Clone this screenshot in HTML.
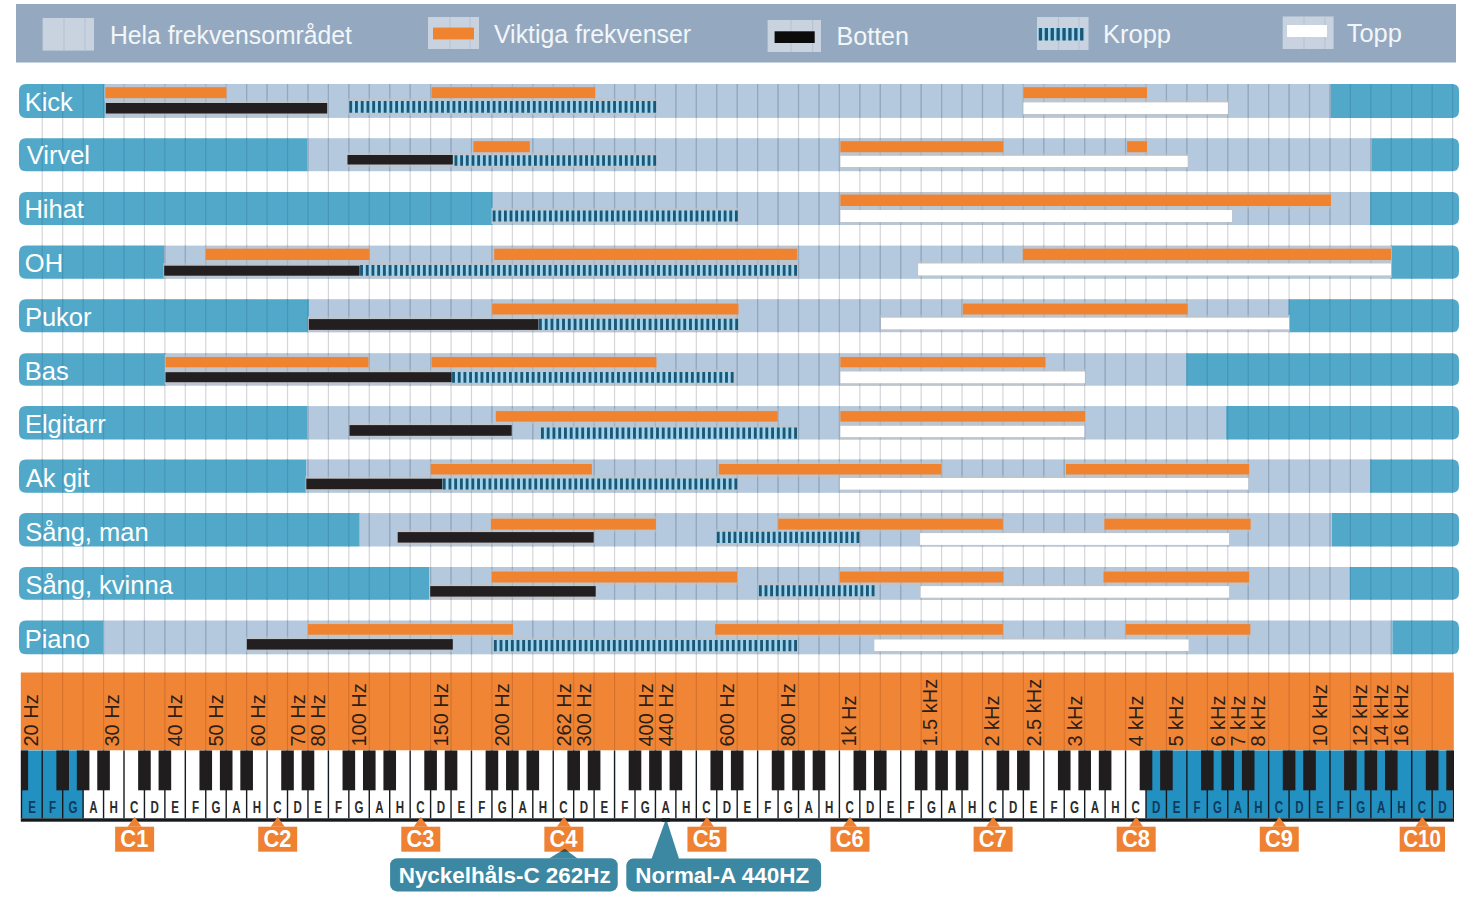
<!DOCTYPE html><html><head><meta charset="utf-8"><style>html,body{margin:0;padding:0;background:#fff;}svg{display:block}text{font-family:"Liberation Sans",sans-serif}</style></head><body>
<svg width="1476" height="900" viewBox="0 0 1476 900">
<defs><pattern id="dp" patternUnits="userSpaceOnUse" x="0" y="0" width="5.67" height="20"><rect width="5.67" height="20" fill="#9fd4ee"/><rect x="0" width="2.8" height="20" fill="#1b5675"/></pattern>
<clipPath id="rowclip"></clipPath></defs>
<rect width="1476" height="900" fill="#ffffff"/>
<rect x="16" y="4" width="1440" height="58.5" fill="#94a9c0"/>
<rect x="42.6" y="18" width="51.4" height="32.6" fill="#c9d3df"/>
<rect x="63.4" y="18" width="1.2" height="32.6" fill="#b6c3d3"/>
<rect x="84.4" y="18" width="1.2" height="32.6" fill="#b6c3d3"/>
<rect x="428" y="17" width="51" height="32" fill="#c9d3df"/>
<rect x="449.4" y="17" width="1.2" height="32" fill="#b6c3d3"/>
<rect x="469.4" y="17" width="1.2" height="32" fill="#b6c3d3"/>
<rect x="433" y="27.6" width="41" height="11.8" fill="#f0832f"/>
<rect x="767.6" y="20" width="53.4" height="32" fill="#c9d3df"/>
<rect x="790.4" y="20" width="1.2" height="32" fill="#b6c3d3"/>
<rect x="812.1" y="20" width="1.2" height="32" fill="#b6c3d3"/>
<rect x="774.6" y="31.3" width="40.1" height="11.7" fill="#0b0b0c"/>
<rect x="1037" y="17" width="51.5" height="33" fill="#c9d3df"/>
<rect x="1057.9" y="17" width="1.2" height="33" fill="#b6c3d3"/>
<rect x="1078.4" y="17" width="1.2" height="33" fill="#b6c3d3"/>
<rect x="1038.3" y="28.1" width="46.2" height="12.3" fill="#9fd4ee"/>
<path d="M1038.8 28.1h3.3v12.3h-3.3zM1044.7 28.1h3.3v12.3h-3.3zM1050.6 28.1h3.3v12.3h-3.3zM1056.5 28.1h3.3v12.3h-3.3zM1062.4 28.1h3.3v12.3h-3.3zM1068.3 28.1h3.3v12.3h-3.3zM1074.2 28.1h3.3v12.3h-3.3zM1080.1 28.1h3.3v12.3h-3.3z" fill="#1b5675"/>
<rect x="1282.7" y="16.5" width="50.9" height="32.5" fill="#c9d3df"/>
<rect x="1303.4" y="16.5" width="1.2" height="32.5" fill="#b6c3d3"/>
<rect x="1324.4" y="16.5" width="1.2" height="32.5" fill="#b6c3d3"/>
<rect x="1287" y="25" width="40" height="12" fill="#fff"/>
<text x="110" y="44" font-size="25" fill="#f3f6f9" textLength="242" lengthAdjust="spacingAndGlyphs">Hela frekvensområdet</text>
<text x="494" y="43" font-size="25" fill="#f3f6f9" textLength="197" lengthAdjust="spacingAndGlyphs">Viktiga frekvenser</text>
<text x="836.5" y="45" font-size="25" fill="#f3f6f9" textLength="72.5" lengthAdjust="spacingAndGlyphs">Botten</text>
<text x="1103" y="43" font-size="25" fill="#f3f6f9" textLength="68" lengthAdjust="spacingAndGlyphs">Kropp</text>
<text x="1346.7" y="42" font-size="25" fill="#f3f6f9" textLength="55.3" lengthAdjust="spacingAndGlyphs">Topp</text>
<rect x="41.64" y="84.3" width="1.2" height="588.2" fill="#d6d6da"/>
<rect x="62.08" y="84.3" width="1.2" height="588.2" fill="#d6d6da"/>
<rect x="82.52" y="84.3" width="1.2" height="588.2" fill="#d6d6da"/>
<rect x="102.96" y="84.3" width="1.2" height="588.2" fill="#d6d6da"/>
<rect x="123.4" y="84.3" width="1.2" height="588.2" fill="#d6d6da"/>
<rect x="143.84" y="84.3" width="1.2" height="588.2" fill="#d6d6da"/>
<rect x="164.28" y="84.3" width="1.2" height="588.2" fill="#d6d6da"/>
<rect x="184.72" y="84.3" width="1.2" height="588.2" fill="#d6d6da"/>
<rect x="205.16" y="84.3" width="1.2" height="588.2" fill="#d6d6da"/>
<rect x="225.6" y="84.3" width="1.2" height="588.2" fill="#d6d6da"/>
<rect x="246.04" y="84.3" width="1.2" height="588.2" fill="#d6d6da"/>
<rect x="266.48" y="84.3" width="1.2" height="588.2" fill="#d6d6da"/>
<rect x="286.92" y="84.3" width="1.2" height="588.2" fill="#d6d6da"/>
<rect x="307.36" y="84.3" width="1.2" height="588.2" fill="#d6d6da"/>
<rect x="327.8" y="84.3" width="1.2" height="588.2" fill="#d6d6da"/>
<rect x="348.24" y="84.3" width="1.2" height="588.2" fill="#d6d6da"/>
<rect x="368.68" y="84.3" width="1.2" height="588.2" fill="#d6d6da"/>
<rect x="389.12" y="84.3" width="1.2" height="588.2" fill="#d6d6da"/>
<rect x="409.56" y="84.3" width="1.2" height="588.2" fill="#d6d6da"/>
<rect x="430" y="84.3" width="1.2" height="588.2" fill="#d6d6da"/>
<rect x="450.44" y="84.3" width="1.2" height="588.2" fill="#d6d6da"/>
<rect x="470.88" y="84.3" width="1.2" height="588.2" fill="#d6d6da"/>
<rect x="491.32" y="84.3" width="1.2" height="588.2" fill="#d6d6da"/>
<rect x="511.76" y="84.3" width="1.2" height="588.2" fill="#d6d6da"/>
<rect x="532.2" y="84.3" width="1.2" height="588.2" fill="#d6d6da"/>
<rect x="552.64" y="84.3" width="1.2" height="588.2" fill="#d6d6da"/>
<rect x="573.08" y="84.3" width="1.2" height="588.2" fill="#d6d6da"/>
<rect x="593.52" y="84.3" width="1.2" height="588.2" fill="#d6d6da"/>
<rect x="613.96" y="84.3" width="1.2" height="588.2" fill="#d6d6da"/>
<rect x="634.4" y="84.3" width="1.2" height="588.2" fill="#d6d6da"/>
<rect x="654.84" y="84.3" width="1.2" height="588.2" fill="#d6d6da"/>
<rect x="675.28" y="84.3" width="1.2" height="588.2" fill="#d6d6da"/>
<rect x="695.72" y="84.3" width="1.2" height="588.2" fill="#d6d6da"/>
<rect x="716.16" y="84.3" width="1.2" height="588.2" fill="#d6d6da"/>
<rect x="736.6" y="84.3" width="1.2" height="588.2" fill="#d6d6da"/>
<rect x="757.04" y="84.3" width="1.2" height="588.2" fill="#d6d6da"/>
<rect x="777.48" y="84.3" width="1.2" height="588.2" fill="#d6d6da"/>
<rect x="797.92" y="84.3" width="1.2" height="588.2" fill="#d6d6da"/>
<rect x="818.36" y="84.3" width="1.2" height="588.2" fill="#d6d6da"/>
<rect x="838.8" y="84.3" width="1.2" height="588.2" fill="#d6d6da"/>
<rect x="859.24" y="84.3" width="1.2" height="588.2" fill="#d6d6da"/>
<rect x="879.68" y="84.3" width="1.2" height="588.2" fill="#d6d6da"/>
<rect x="900.12" y="84.3" width="1.2" height="588.2" fill="#d6d6da"/>
<rect x="920.56" y="84.3" width="1.2" height="588.2" fill="#d6d6da"/>
<rect x="941" y="84.3" width="1.2" height="588.2" fill="#d6d6da"/>
<rect x="961.44" y="84.3" width="1.2" height="588.2" fill="#d6d6da"/>
<rect x="981.88" y="84.3" width="1.2" height="588.2" fill="#d6d6da"/>
<rect x="1002.32" y="84.3" width="1.2" height="588.2" fill="#d6d6da"/>
<rect x="1022.76" y="84.3" width="1.2" height="588.2" fill="#d6d6da"/>
<rect x="1043.2" y="84.3" width="1.2" height="588.2" fill="#d6d6da"/>
<rect x="1063.64" y="84.3" width="1.2" height="588.2" fill="#d6d6da"/>
<rect x="1084.08" y="84.3" width="1.2" height="588.2" fill="#d6d6da"/>
<rect x="1104.52" y="84.3" width="1.2" height="588.2" fill="#d6d6da"/>
<rect x="1124.96" y="84.3" width="1.2" height="588.2" fill="#d6d6da"/>
<rect x="1145.4" y="84.3" width="1.2" height="588.2" fill="#d6d6da"/>
<rect x="1165.84" y="84.3" width="1.2" height="588.2" fill="#d6d6da"/>
<rect x="1186.28" y="84.3" width="1.2" height="588.2" fill="#d6d6da"/>
<rect x="1206.72" y="84.3" width="1.2" height="588.2" fill="#d6d6da"/>
<rect x="1227.16" y="84.3" width="1.2" height="588.2" fill="#d6d6da"/>
<rect x="1247.6" y="84.3" width="1.2" height="588.2" fill="#d6d6da"/>
<rect x="1268.04" y="84.3" width="1.2" height="588.2" fill="#d6d6da"/>
<rect x="1288.48" y="84.3" width="1.2" height="588.2" fill="#d6d6da"/>
<rect x="1308.92" y="84.3" width="1.2" height="588.2" fill="#d6d6da"/>
<rect x="1329.36" y="84.3" width="1.2" height="588.2" fill="#d6d6da"/>
<rect x="1349.8" y="84.3" width="1.2" height="588.2" fill="#d6d6da"/>
<rect x="1370.24" y="84.3" width="1.2" height="588.2" fill="#d6d6da"/>
<rect x="1390.68" y="84.3" width="1.2" height="588.2" fill="#d6d6da"/>
<rect x="1411.12" y="84.3" width="1.2" height="588.2" fill="#d6d6da"/>
<rect x="1431.56" y="84.3" width="1.2" height="588.2" fill="#d6d6da"/>
<rect x="1452" y="84.3" width="1.2" height="588.2" fill="#d6d6da"/>
<rect x="104.8" y="84" width="1225.6" height="33.9" fill="#b4c9de"/>
<path d="M104.8 84 H26 Q19 84 19 91 V110.9 Q19 117.9 26 117.9 H104.8 Z" fill="#52a8c9"/>
<path d="M1330.4 84 H1452 Q1459 84 1459 91 V110.9 Q1459 117.9 1452 117.9 H1330.4 Z" fill="#52a8c9"/>
<rect x="41.64" y="84" width="1.2" height="33.9" fill="#4596b8"/>
<rect x="62.08" y="84" width="1.2" height="33.9" fill="#4596b8"/>
<rect x="82.52" y="84" width="1.2" height="33.9" fill="#4596b8"/>
<rect x="102.96" y="84" width="1.2" height="33.9" fill="#4596b8"/>
<rect x="123.4" y="84" width="1.2" height="33.9" fill="#93aac2"/>
<rect x="143.84" y="84" width="1.2" height="33.9" fill="#93aac2"/>
<rect x="164.28" y="84" width="1.2" height="33.9" fill="#93aac2"/>
<rect x="184.72" y="84" width="1.2" height="33.9" fill="#93aac2"/>
<rect x="205.16" y="84" width="1.2" height="33.9" fill="#93aac2"/>
<rect x="225.6" y="84" width="1.2" height="33.9" fill="#93aac2"/>
<rect x="246.04" y="84" width="1.2" height="33.9" fill="#93aac2"/>
<rect x="266.48" y="84" width="1.2" height="33.9" fill="#93aac2"/>
<rect x="286.92" y="84" width="1.2" height="33.9" fill="#93aac2"/>
<rect x="307.36" y="84" width="1.2" height="33.9" fill="#93aac2"/>
<rect x="327.8" y="84" width="1.2" height="33.9" fill="#93aac2"/>
<rect x="348.24" y="84" width="1.2" height="33.9" fill="#93aac2"/>
<rect x="368.68" y="84" width="1.2" height="33.9" fill="#93aac2"/>
<rect x="389.12" y="84" width="1.2" height="33.9" fill="#93aac2"/>
<rect x="409.56" y="84" width="1.2" height="33.9" fill="#93aac2"/>
<rect x="430" y="84" width="1.2" height="33.9" fill="#93aac2"/>
<rect x="450.44" y="84" width="1.2" height="33.9" fill="#93aac2"/>
<rect x="470.88" y="84" width="1.2" height="33.9" fill="#93aac2"/>
<rect x="491.32" y="84" width="1.2" height="33.9" fill="#93aac2"/>
<rect x="511.76" y="84" width="1.2" height="33.9" fill="#93aac2"/>
<rect x="532.2" y="84" width="1.2" height="33.9" fill="#93aac2"/>
<rect x="552.64" y="84" width="1.2" height="33.9" fill="#93aac2"/>
<rect x="573.08" y="84" width="1.2" height="33.9" fill="#93aac2"/>
<rect x="593.52" y="84" width="1.2" height="33.9" fill="#93aac2"/>
<rect x="613.96" y="84" width="1.2" height="33.9" fill="#93aac2"/>
<rect x="634.4" y="84" width="1.2" height="33.9" fill="#93aac2"/>
<rect x="654.84" y="84" width="1.2" height="33.9" fill="#93aac2"/>
<rect x="675.28" y="84" width="1.2" height="33.9" fill="#93aac2"/>
<rect x="695.72" y="84" width="1.2" height="33.9" fill="#93aac2"/>
<rect x="716.16" y="84" width="1.2" height="33.9" fill="#93aac2"/>
<rect x="736.6" y="84" width="1.2" height="33.9" fill="#93aac2"/>
<rect x="757.04" y="84" width="1.2" height="33.9" fill="#93aac2"/>
<rect x="777.48" y="84" width="1.2" height="33.9" fill="#93aac2"/>
<rect x="797.92" y="84" width="1.2" height="33.9" fill="#93aac2"/>
<rect x="818.36" y="84" width="1.2" height="33.9" fill="#93aac2"/>
<rect x="838.8" y="84" width="1.2" height="33.9" fill="#93aac2"/>
<rect x="859.24" y="84" width="1.2" height="33.9" fill="#93aac2"/>
<rect x="879.68" y="84" width="1.2" height="33.9" fill="#93aac2"/>
<rect x="900.12" y="84" width="1.2" height="33.9" fill="#93aac2"/>
<rect x="920.56" y="84" width="1.2" height="33.9" fill="#93aac2"/>
<rect x="941" y="84" width="1.2" height="33.9" fill="#93aac2"/>
<rect x="961.44" y="84" width="1.2" height="33.9" fill="#93aac2"/>
<rect x="981.88" y="84" width="1.2" height="33.9" fill="#93aac2"/>
<rect x="1002.32" y="84" width="1.2" height="33.9" fill="#93aac2"/>
<rect x="1022.76" y="84" width="1.2" height="33.9" fill="#93aac2"/>
<rect x="1043.2" y="84" width="1.2" height="33.9" fill="#93aac2"/>
<rect x="1063.64" y="84" width="1.2" height="33.9" fill="#93aac2"/>
<rect x="1084.08" y="84" width="1.2" height="33.9" fill="#93aac2"/>
<rect x="1104.52" y="84" width="1.2" height="33.9" fill="#93aac2"/>
<rect x="1124.96" y="84" width="1.2" height="33.9" fill="#93aac2"/>
<rect x="1145.4" y="84" width="1.2" height="33.9" fill="#93aac2"/>
<rect x="1165.84" y="84" width="1.2" height="33.9" fill="#93aac2"/>
<rect x="1186.28" y="84" width="1.2" height="33.9" fill="#93aac2"/>
<rect x="1206.72" y="84" width="1.2" height="33.9" fill="#93aac2"/>
<rect x="1227.16" y="84" width="1.2" height="33.9" fill="#93aac2"/>
<rect x="1247.6" y="84" width="1.2" height="33.9" fill="#93aac2"/>
<rect x="1268.04" y="84" width="1.2" height="33.9" fill="#93aac2"/>
<rect x="1288.48" y="84" width="1.2" height="33.9" fill="#93aac2"/>
<rect x="1308.92" y="84" width="1.2" height="33.9" fill="#93aac2"/>
<rect x="1329.36" y="84" width="1.2" height="33.9" fill="#93aac2"/>
<rect x="1349.8" y="84" width="1.2" height="33.9" fill="#4596b8"/>
<rect x="1370.24" y="84" width="1.2" height="33.9" fill="#4596b8"/>
<rect x="1390.68" y="84" width="1.2" height="33.9" fill="#4596b8"/>
<rect x="1411.12" y="84" width="1.2" height="33.9" fill="#4596b8"/>
<rect x="1431.56" y="84" width="1.2" height="33.9" fill="#4596b8"/>
<rect x="1452" y="84" width="1.2" height="33.9" fill="#4596b8"/>
<rect x="104.5" y="84.6" width="122.7" height="16.1" fill="#bdc5cf"/>
<rect x="430.7" y="84.6" width="165.3" height="16.1" fill="#bdc5cf"/>
<rect x="1022.6" y="84.6" width="125.2" height="16.1" fill="#bdc5cf"/>
<rect x="1022.6" y="99.8" width="206.1" height="16.8" fill="#bdc5cf"/>
<rect x="348" y="98.3" width="309.2" height="17" fill="#bdc5cf"/>
<rect x="105" y="100.4" width="223" height="15.7" fill="#bdc5cf"/>
<rect x="123.4" y="84" width="1.2" height="33.9" fill="#93a6b8" opacity="0.5"/>
<rect x="143.84" y="84" width="1.2" height="33.9" fill="#93a6b8" opacity="0.5"/>
<rect x="164.28" y="84" width="1.2" height="33.9" fill="#93a6b8" opacity="0.5"/>
<rect x="184.72" y="84" width="1.2" height="33.9" fill="#93a6b8" opacity="0.5"/>
<rect x="205.16" y="84" width="1.2" height="33.9" fill="#93a6b8" opacity="0.5"/>
<rect x="225.6" y="84" width="1.2" height="33.9" fill="#93a6b8" opacity="0.5"/>
<rect x="246.04" y="84" width="1.2" height="33.9" fill="#93a6b8" opacity="0.5"/>
<rect x="266.48" y="84" width="1.2" height="33.9" fill="#93a6b8" opacity="0.5"/>
<rect x="286.92" y="84" width="1.2" height="33.9" fill="#93a6b8" opacity="0.5"/>
<rect x="307.36" y="84" width="1.2" height="33.9" fill="#93a6b8" opacity="0.5"/>
<rect x="327.8" y="84" width="1.2" height="33.9" fill="#93a6b8" opacity="0.5"/>
<rect x="348.24" y="84" width="1.2" height="33.9" fill="#93a6b8" opacity="0.5"/>
<rect x="368.68" y="84" width="1.2" height="33.9" fill="#93a6b8" opacity="0.5"/>
<rect x="389.12" y="84" width="1.2" height="33.9" fill="#93a6b8" opacity="0.5"/>
<rect x="409.56" y="84" width="1.2" height="33.9" fill="#93a6b8" opacity="0.5"/>
<rect x="430" y="84" width="1.2" height="33.9" fill="#93a6b8" opacity="0.5"/>
<rect x="450.44" y="84" width="1.2" height="33.9" fill="#93a6b8" opacity="0.5"/>
<rect x="470.88" y="84" width="1.2" height="33.9" fill="#93a6b8" opacity="0.5"/>
<rect x="491.32" y="84" width="1.2" height="33.9" fill="#93a6b8" opacity="0.5"/>
<rect x="511.76" y="84" width="1.2" height="33.9" fill="#93a6b8" opacity="0.5"/>
<rect x="532.2" y="84" width="1.2" height="33.9" fill="#93a6b8" opacity="0.5"/>
<rect x="552.64" y="84" width="1.2" height="33.9" fill="#93a6b8" opacity="0.5"/>
<rect x="573.08" y="84" width="1.2" height="33.9" fill="#93a6b8" opacity="0.5"/>
<rect x="593.52" y="84" width="1.2" height="33.9" fill="#93a6b8" opacity="0.5"/>
<rect x="613.96" y="84" width="1.2" height="33.9" fill="#93a6b8" opacity="0.5"/>
<rect x="634.4" y="84" width="1.2" height="33.9" fill="#93a6b8" opacity="0.5"/>
<rect x="654.84" y="84" width="1.2" height="33.9" fill="#93a6b8" opacity="0.5"/>
<rect x="675.28" y="84" width="1.2" height="33.9" fill="#93a6b8" opacity="0.5"/>
<rect x="695.72" y="84" width="1.2" height="33.9" fill="#93a6b8" opacity="0.5"/>
<rect x="716.16" y="84" width="1.2" height="33.9" fill="#93a6b8" opacity="0.5"/>
<rect x="736.6" y="84" width="1.2" height="33.9" fill="#93a6b8" opacity="0.5"/>
<rect x="757.04" y="84" width="1.2" height="33.9" fill="#93a6b8" opacity="0.5"/>
<rect x="777.48" y="84" width="1.2" height="33.9" fill="#93a6b8" opacity="0.5"/>
<rect x="797.92" y="84" width="1.2" height="33.9" fill="#93a6b8" opacity="0.5"/>
<rect x="818.36" y="84" width="1.2" height="33.9" fill="#93a6b8" opacity="0.5"/>
<rect x="838.8" y="84" width="1.2" height="33.9" fill="#93a6b8" opacity="0.5"/>
<rect x="859.24" y="84" width="1.2" height="33.9" fill="#93a6b8" opacity="0.5"/>
<rect x="879.68" y="84" width="1.2" height="33.9" fill="#93a6b8" opacity="0.5"/>
<rect x="900.12" y="84" width="1.2" height="33.9" fill="#93a6b8" opacity="0.5"/>
<rect x="920.56" y="84" width="1.2" height="33.9" fill="#93a6b8" opacity="0.5"/>
<rect x="941" y="84" width="1.2" height="33.9" fill="#93a6b8" opacity="0.5"/>
<rect x="961.44" y="84" width="1.2" height="33.9" fill="#93a6b8" opacity="0.5"/>
<rect x="981.88" y="84" width="1.2" height="33.9" fill="#93a6b8" opacity="0.5"/>
<rect x="1002.32" y="84" width="1.2" height="33.9" fill="#93a6b8" opacity="0.5"/>
<rect x="1022.76" y="84" width="1.2" height="33.9" fill="#93a6b8" opacity="0.5"/>
<rect x="1043.2" y="84" width="1.2" height="33.9" fill="#93a6b8" opacity="0.5"/>
<rect x="1063.64" y="84" width="1.2" height="33.9" fill="#93a6b8" opacity="0.5"/>
<rect x="1084.08" y="84" width="1.2" height="33.9" fill="#93a6b8" opacity="0.5"/>
<rect x="1104.52" y="84" width="1.2" height="33.9" fill="#93a6b8" opacity="0.5"/>
<rect x="1124.96" y="84" width="1.2" height="33.9" fill="#93a6b8" opacity="0.5"/>
<rect x="1145.4" y="84" width="1.2" height="33.9" fill="#93a6b8" opacity="0.5"/>
<rect x="1165.84" y="84" width="1.2" height="33.9" fill="#93a6b8" opacity="0.5"/>
<rect x="1186.28" y="84" width="1.2" height="33.9" fill="#93a6b8" opacity="0.5"/>
<rect x="1206.72" y="84" width="1.2" height="33.9" fill="#93a6b8" opacity="0.5"/>
<rect x="1227.16" y="84" width="1.2" height="33.9" fill="#93a6b8" opacity="0.5"/>
<rect x="1247.6" y="84" width="1.2" height="33.9" fill="#93a6b8" opacity="0.5"/>
<rect x="1268.04" y="84" width="1.2" height="33.9" fill="#93a6b8" opacity="0.5"/>
<rect x="1288.48" y="84" width="1.2" height="33.9" fill="#93a6b8" opacity="0.5"/>
<rect x="1308.92" y="84" width="1.2" height="33.9" fill="#93a6b8" opacity="0.5"/>
<rect x="1329.36" y="84" width="1.2" height="33.9" fill="#93a6b8" opacity="0.5"/>
<rect x="105.3" y="87.2" width="121.1" height="10.9" fill="#f0832f"/>
<rect x="431.5" y="87.2" width="163.7" height="10.9" fill="#f0832f"/>
<rect x="1023.4" y="87.2" width="123.6" height="10.9" fill="#f0832f"/>
<rect x="1023.4" y="102.4" width="204.5" height="11.6" fill="#ffffff"/>
<rect x="348.8" y="100.9" width="307.6" height="11.8" fill="#9fd4ee"/>
<path d="M349.3 100.9h2.85v11.8h-2.85zM355.03 100.9h2.85v11.8h-2.85zM360.77 100.9h2.85v11.8h-2.85zM366.5 100.9h2.85v11.8h-2.85zM372.24 100.9h2.85v11.8h-2.85zM377.97 100.9h2.85v11.8h-2.85zM383.71 100.9h2.85v11.8h-2.85zM389.44 100.9h2.85v11.8h-2.85zM395.18 100.9h2.85v11.8h-2.85zM400.91 100.9h2.85v11.8h-2.85zM406.65 100.9h2.85v11.8h-2.85zM412.38 100.9h2.85v11.8h-2.85zM418.12 100.9h2.85v11.8h-2.85zM423.85 100.9h2.85v11.8h-2.85zM429.59 100.9h2.85v11.8h-2.85zM435.32 100.9h2.85v11.8h-2.85zM441.06 100.9h2.85v11.8h-2.85zM446.79 100.9h2.85v11.8h-2.85zM452.53 100.9h2.85v11.8h-2.85zM458.26 100.9h2.85v11.8h-2.85zM464 100.9h2.85v11.8h-2.85zM469.73 100.9h2.85v11.8h-2.85zM475.47 100.9h2.85v11.8h-2.85zM481.2 100.9h2.85v11.8h-2.85zM486.94 100.9h2.85v11.8h-2.85zM492.67 100.9h2.85v11.8h-2.85zM498.41 100.9h2.85v11.8h-2.85zM504.14 100.9h2.85v11.8h-2.85zM509.88 100.9h2.85v11.8h-2.85zM515.61 100.9h2.85v11.8h-2.85zM521.35 100.9h2.85v11.8h-2.85zM527.08 100.9h2.85v11.8h-2.85zM532.82 100.9h2.85v11.8h-2.85zM538.55 100.9h2.85v11.8h-2.85zM544.29 100.9h2.85v11.8h-2.85zM550.02 100.9h2.85v11.8h-2.85zM555.76 100.9h2.85v11.8h-2.85zM561.49 100.9h2.85v11.8h-2.85zM567.23 100.9h2.85v11.8h-2.85zM572.96 100.9h2.85v11.8h-2.85zM578.7 100.9h2.85v11.8h-2.85zM584.43 100.9h2.85v11.8h-2.85zM590.17 100.9h2.85v11.8h-2.85zM595.9 100.9h2.85v11.8h-2.85zM601.64 100.9h2.85v11.8h-2.85zM607.37 100.9h2.85v11.8h-2.85zM613.11 100.9h2.85v11.8h-2.85zM618.84 100.9h2.85v11.8h-2.85zM624.58 100.9h2.85v11.8h-2.85zM630.31 100.9h2.85v11.8h-2.85zM636.05 100.9h2.85v11.8h-2.85zM641.78 100.9h2.85v11.8h-2.85zM647.52 100.9h2.85v11.8h-2.85zM653.25 100.9h2.85v11.8h-2.85z" fill="#1b5675"/>
<rect x="105.8" y="103" width="221.4" height="10.5" fill="#231f20"/>
<text x="24.7" y="110.9" font-size="25.5" fill="#fff">Kick</text>
<rect x="307" y="138.2" width="1064.5" height="33" fill="#b4c9de"/>
<path d="M307 138.2 H26 Q19 138.2 19 145.2 V164.2 Q19 171.2 26 171.2 H307 Z" fill="#52a8c9"/>
<path d="M1371.5 138.2 H1452 Q1459 138.2 1459 145.2 V164.2 Q1459 171.2 1452 171.2 H1371.5 Z" fill="#52a8c9"/>
<rect x="41.64" y="138.2" width="1.2" height="33" fill="#4596b8"/>
<rect x="62.08" y="138.2" width="1.2" height="33" fill="#4596b8"/>
<rect x="82.52" y="138.2" width="1.2" height="33" fill="#4596b8"/>
<rect x="102.96" y="138.2" width="1.2" height="33" fill="#4596b8"/>
<rect x="123.4" y="138.2" width="1.2" height="33" fill="#4596b8"/>
<rect x="143.84" y="138.2" width="1.2" height="33" fill="#4596b8"/>
<rect x="164.28" y="138.2" width="1.2" height="33" fill="#4596b8"/>
<rect x="184.72" y="138.2" width="1.2" height="33" fill="#4596b8"/>
<rect x="205.16" y="138.2" width="1.2" height="33" fill="#4596b8"/>
<rect x="225.6" y="138.2" width="1.2" height="33" fill="#4596b8"/>
<rect x="246.04" y="138.2" width="1.2" height="33" fill="#4596b8"/>
<rect x="266.48" y="138.2" width="1.2" height="33" fill="#4596b8"/>
<rect x="286.92" y="138.2" width="1.2" height="33" fill="#4596b8"/>
<rect x="307.36" y="138.2" width="1.2" height="33" fill="#93aac2"/>
<rect x="327.8" y="138.2" width="1.2" height="33" fill="#93aac2"/>
<rect x="348.24" y="138.2" width="1.2" height="33" fill="#93aac2"/>
<rect x="368.68" y="138.2" width="1.2" height="33" fill="#93aac2"/>
<rect x="389.12" y="138.2" width="1.2" height="33" fill="#93aac2"/>
<rect x="409.56" y="138.2" width="1.2" height="33" fill="#93aac2"/>
<rect x="430" y="138.2" width="1.2" height="33" fill="#93aac2"/>
<rect x="450.44" y="138.2" width="1.2" height="33" fill="#93aac2"/>
<rect x="470.88" y="138.2" width="1.2" height="33" fill="#93aac2"/>
<rect x="491.32" y="138.2" width="1.2" height="33" fill="#93aac2"/>
<rect x="511.76" y="138.2" width="1.2" height="33" fill="#93aac2"/>
<rect x="532.2" y="138.2" width="1.2" height="33" fill="#93aac2"/>
<rect x="552.64" y="138.2" width="1.2" height="33" fill="#93aac2"/>
<rect x="573.08" y="138.2" width="1.2" height="33" fill="#93aac2"/>
<rect x="593.52" y="138.2" width="1.2" height="33" fill="#93aac2"/>
<rect x="613.96" y="138.2" width="1.2" height="33" fill="#93aac2"/>
<rect x="634.4" y="138.2" width="1.2" height="33" fill="#93aac2"/>
<rect x="654.84" y="138.2" width="1.2" height="33" fill="#93aac2"/>
<rect x="675.28" y="138.2" width="1.2" height="33" fill="#93aac2"/>
<rect x="695.72" y="138.2" width="1.2" height="33" fill="#93aac2"/>
<rect x="716.16" y="138.2" width="1.2" height="33" fill="#93aac2"/>
<rect x="736.6" y="138.2" width="1.2" height="33" fill="#93aac2"/>
<rect x="757.04" y="138.2" width="1.2" height="33" fill="#93aac2"/>
<rect x="777.48" y="138.2" width="1.2" height="33" fill="#93aac2"/>
<rect x="797.92" y="138.2" width="1.2" height="33" fill="#93aac2"/>
<rect x="818.36" y="138.2" width="1.2" height="33" fill="#93aac2"/>
<rect x="838.8" y="138.2" width="1.2" height="33" fill="#93aac2"/>
<rect x="859.24" y="138.2" width="1.2" height="33" fill="#93aac2"/>
<rect x="879.68" y="138.2" width="1.2" height="33" fill="#93aac2"/>
<rect x="900.12" y="138.2" width="1.2" height="33" fill="#93aac2"/>
<rect x="920.56" y="138.2" width="1.2" height="33" fill="#93aac2"/>
<rect x="941" y="138.2" width="1.2" height="33" fill="#93aac2"/>
<rect x="961.44" y="138.2" width="1.2" height="33" fill="#93aac2"/>
<rect x="981.88" y="138.2" width="1.2" height="33" fill="#93aac2"/>
<rect x="1002.32" y="138.2" width="1.2" height="33" fill="#93aac2"/>
<rect x="1022.76" y="138.2" width="1.2" height="33" fill="#93aac2"/>
<rect x="1043.2" y="138.2" width="1.2" height="33" fill="#93aac2"/>
<rect x="1063.64" y="138.2" width="1.2" height="33" fill="#93aac2"/>
<rect x="1084.08" y="138.2" width="1.2" height="33" fill="#93aac2"/>
<rect x="1104.52" y="138.2" width="1.2" height="33" fill="#93aac2"/>
<rect x="1124.96" y="138.2" width="1.2" height="33" fill="#93aac2"/>
<rect x="1145.4" y="138.2" width="1.2" height="33" fill="#93aac2"/>
<rect x="1165.84" y="138.2" width="1.2" height="33" fill="#93aac2"/>
<rect x="1186.28" y="138.2" width="1.2" height="33" fill="#93aac2"/>
<rect x="1206.72" y="138.2" width="1.2" height="33" fill="#93aac2"/>
<rect x="1227.16" y="138.2" width="1.2" height="33" fill="#93aac2"/>
<rect x="1247.6" y="138.2" width="1.2" height="33" fill="#93aac2"/>
<rect x="1268.04" y="138.2" width="1.2" height="33" fill="#93aac2"/>
<rect x="1288.48" y="138.2" width="1.2" height="33" fill="#93aac2"/>
<rect x="1308.92" y="138.2" width="1.2" height="33" fill="#93aac2"/>
<rect x="1329.36" y="138.2" width="1.2" height="33" fill="#93aac2"/>
<rect x="1349.8" y="138.2" width="1.2" height="33" fill="#93aac2"/>
<rect x="1370.24" y="138.2" width="1.2" height="33" fill="#93aac2"/>
<rect x="1390.68" y="138.2" width="1.2" height="33" fill="#4596b8"/>
<rect x="1411.12" y="138.2" width="1.2" height="33" fill="#4596b8"/>
<rect x="1431.56" y="138.2" width="1.2" height="33" fill="#4596b8"/>
<rect x="1452" y="138.2" width="1.2" height="33" fill="#4596b8"/>
<rect x="472.6" y="138.6" width="58" height="16.2" fill="#bdc5cf"/>
<rect x="839.6" y="138.6" width="164.6" height="16.2" fill="#bdc5cf"/>
<rect x="1126.3" y="138.6" width="21.5" height="16.2" fill="#bdc5cf"/>
<rect x="839.6" y="153.2" width="348.9" height="16.4" fill="#bdc5cf"/>
<rect x="453.2" y="152.6" width="204" height="15.8" fill="#bdc5cf"/>
<rect x="346.7" y="152.4" width="106.9" height="14.7" fill="#bdc5cf"/>
<rect x="307.36" y="138.2" width="1.2" height="33" fill="#93a6b8" opacity="0.5"/>
<rect x="327.8" y="138.2" width="1.2" height="33" fill="#93a6b8" opacity="0.5"/>
<rect x="348.24" y="138.2" width="1.2" height="33" fill="#93a6b8" opacity="0.5"/>
<rect x="368.68" y="138.2" width="1.2" height="33" fill="#93a6b8" opacity="0.5"/>
<rect x="389.12" y="138.2" width="1.2" height="33" fill="#93a6b8" opacity="0.5"/>
<rect x="409.56" y="138.2" width="1.2" height="33" fill="#93a6b8" opacity="0.5"/>
<rect x="430" y="138.2" width="1.2" height="33" fill="#93a6b8" opacity="0.5"/>
<rect x="450.44" y="138.2" width="1.2" height="33" fill="#93a6b8" opacity="0.5"/>
<rect x="470.88" y="138.2" width="1.2" height="33" fill="#93a6b8" opacity="0.5"/>
<rect x="491.32" y="138.2" width="1.2" height="33" fill="#93a6b8" opacity="0.5"/>
<rect x="511.76" y="138.2" width="1.2" height="33" fill="#93a6b8" opacity="0.5"/>
<rect x="532.2" y="138.2" width="1.2" height="33" fill="#93a6b8" opacity="0.5"/>
<rect x="552.64" y="138.2" width="1.2" height="33" fill="#93a6b8" opacity="0.5"/>
<rect x="573.08" y="138.2" width="1.2" height="33" fill="#93a6b8" opacity="0.5"/>
<rect x="593.52" y="138.2" width="1.2" height="33" fill="#93a6b8" opacity="0.5"/>
<rect x="613.96" y="138.2" width="1.2" height="33" fill="#93a6b8" opacity="0.5"/>
<rect x="634.4" y="138.2" width="1.2" height="33" fill="#93a6b8" opacity="0.5"/>
<rect x="654.84" y="138.2" width="1.2" height="33" fill="#93a6b8" opacity="0.5"/>
<rect x="675.28" y="138.2" width="1.2" height="33" fill="#93a6b8" opacity="0.5"/>
<rect x="695.72" y="138.2" width="1.2" height="33" fill="#93a6b8" opacity="0.5"/>
<rect x="716.16" y="138.2" width="1.2" height="33" fill="#93a6b8" opacity="0.5"/>
<rect x="736.6" y="138.2" width="1.2" height="33" fill="#93a6b8" opacity="0.5"/>
<rect x="757.04" y="138.2" width="1.2" height="33" fill="#93a6b8" opacity="0.5"/>
<rect x="777.48" y="138.2" width="1.2" height="33" fill="#93a6b8" opacity="0.5"/>
<rect x="797.92" y="138.2" width="1.2" height="33" fill="#93a6b8" opacity="0.5"/>
<rect x="818.36" y="138.2" width="1.2" height="33" fill="#93a6b8" opacity="0.5"/>
<rect x="838.8" y="138.2" width="1.2" height="33" fill="#93a6b8" opacity="0.5"/>
<rect x="859.24" y="138.2" width="1.2" height="33" fill="#93a6b8" opacity="0.5"/>
<rect x="879.68" y="138.2" width="1.2" height="33" fill="#93a6b8" opacity="0.5"/>
<rect x="900.12" y="138.2" width="1.2" height="33" fill="#93a6b8" opacity="0.5"/>
<rect x="920.56" y="138.2" width="1.2" height="33" fill="#93a6b8" opacity="0.5"/>
<rect x="941" y="138.2" width="1.2" height="33" fill="#93a6b8" opacity="0.5"/>
<rect x="961.44" y="138.2" width="1.2" height="33" fill="#93a6b8" opacity="0.5"/>
<rect x="981.88" y="138.2" width="1.2" height="33" fill="#93a6b8" opacity="0.5"/>
<rect x="1002.32" y="138.2" width="1.2" height="33" fill="#93a6b8" opacity="0.5"/>
<rect x="1022.76" y="138.2" width="1.2" height="33" fill="#93a6b8" opacity="0.5"/>
<rect x="1043.2" y="138.2" width="1.2" height="33" fill="#93a6b8" opacity="0.5"/>
<rect x="1063.64" y="138.2" width="1.2" height="33" fill="#93a6b8" opacity="0.5"/>
<rect x="1084.08" y="138.2" width="1.2" height="33" fill="#93a6b8" opacity="0.5"/>
<rect x="1104.52" y="138.2" width="1.2" height="33" fill="#93a6b8" opacity="0.5"/>
<rect x="1124.96" y="138.2" width="1.2" height="33" fill="#93a6b8" opacity="0.5"/>
<rect x="1145.4" y="138.2" width="1.2" height="33" fill="#93a6b8" opacity="0.5"/>
<rect x="1165.84" y="138.2" width="1.2" height="33" fill="#93a6b8" opacity="0.5"/>
<rect x="1186.28" y="138.2" width="1.2" height="33" fill="#93a6b8" opacity="0.5"/>
<rect x="1206.72" y="138.2" width="1.2" height="33" fill="#93a6b8" opacity="0.5"/>
<rect x="1227.16" y="138.2" width="1.2" height="33" fill="#93a6b8" opacity="0.5"/>
<rect x="1247.6" y="138.2" width="1.2" height="33" fill="#93a6b8" opacity="0.5"/>
<rect x="1268.04" y="138.2" width="1.2" height="33" fill="#93a6b8" opacity="0.5"/>
<rect x="1288.48" y="138.2" width="1.2" height="33" fill="#93a6b8" opacity="0.5"/>
<rect x="1308.92" y="138.2" width="1.2" height="33" fill="#93a6b8" opacity="0.5"/>
<rect x="1329.36" y="138.2" width="1.2" height="33" fill="#93a6b8" opacity="0.5"/>
<rect x="1349.8" y="138.2" width="1.2" height="33" fill="#93a6b8" opacity="0.5"/>
<rect x="1370.24" y="138.2" width="1.2" height="33" fill="#93a6b8" opacity="0.5"/>
<rect x="473.4" y="141.2" width="56.4" height="11" fill="#f0832f"/>
<rect x="840.4" y="141.2" width="163" height="11" fill="#f0832f"/>
<rect x="1127.1" y="141.2" width="19.9" height="11" fill="#f0832f"/>
<rect x="840.4" y="155.8" width="347.3" height="11.2" fill="#ffffff"/>
<rect x="454" y="155.2" width="202.4" height="10.6" fill="#9fd4ee"/>
<path d="M454.5 155.2h2.85v10.6h-2.85zM460.18 155.2h2.85v10.6h-2.85zM465.86 155.2h2.85v10.6h-2.85zM471.54 155.2h2.85v10.6h-2.85zM477.21 155.2h2.85v10.6h-2.85zM482.89 155.2h2.85v10.6h-2.85zM488.57 155.2h2.85v10.6h-2.85zM494.25 155.2h2.85v10.6h-2.85zM499.93 155.2h2.85v10.6h-2.85zM505.61 155.2h2.85v10.6h-2.85zM511.29 155.2h2.85v10.6h-2.85zM516.96 155.2h2.85v10.6h-2.85zM522.64 155.2h2.85v10.6h-2.85zM528.32 155.2h2.85v10.6h-2.85zM534 155.2h2.85v10.6h-2.85zM539.68 155.2h2.85v10.6h-2.85zM545.36 155.2h2.85v10.6h-2.85zM551.04 155.2h2.85v10.6h-2.85zM556.71 155.2h2.85v10.6h-2.85zM562.39 155.2h2.85v10.6h-2.85zM568.07 155.2h2.85v10.6h-2.85zM573.75 155.2h2.85v10.6h-2.85zM579.43 155.2h2.85v10.6h-2.85zM585.11 155.2h2.85v10.6h-2.85zM590.79 155.2h2.85v10.6h-2.85zM596.46 155.2h2.85v10.6h-2.85zM602.14 155.2h2.85v10.6h-2.85zM607.82 155.2h2.85v10.6h-2.85zM613.5 155.2h2.85v10.6h-2.85zM619.18 155.2h2.85v10.6h-2.85zM624.86 155.2h2.85v10.6h-2.85zM630.54 155.2h2.85v10.6h-2.85zM636.21 155.2h2.85v10.6h-2.85zM641.89 155.2h2.85v10.6h-2.85zM647.57 155.2h2.85v10.6h-2.85zM653.25 155.2h2.85v10.6h-2.85z" fill="#1b5675"/>
<rect x="347.5" y="155" width="105.3" height="9.5" fill="#231f20"/>
<text x="26.7" y="164" font-size="25.5" fill="#fff">Virvel</text>
<rect x="492.2" y="192" width="878.1" height="33" fill="#b4c9de"/>
<path d="M492.2 192 H26 Q19 192 19 199 V218 Q19 225 26 225 H492.2 Z" fill="#52a8c9"/>
<path d="M1370.3 192 H1452 Q1459 192 1459 199 V218 Q1459 225 1452 225 H1370.3 Z" fill="#52a8c9"/>
<rect x="41.64" y="192" width="1.2" height="33" fill="#4596b8"/>
<rect x="62.08" y="192" width="1.2" height="33" fill="#4596b8"/>
<rect x="82.52" y="192" width="1.2" height="33" fill="#4596b8"/>
<rect x="102.96" y="192" width="1.2" height="33" fill="#4596b8"/>
<rect x="123.4" y="192" width="1.2" height="33" fill="#4596b8"/>
<rect x="143.84" y="192" width="1.2" height="33" fill="#4596b8"/>
<rect x="164.28" y="192" width="1.2" height="33" fill="#4596b8"/>
<rect x="184.72" y="192" width="1.2" height="33" fill="#4596b8"/>
<rect x="205.16" y="192" width="1.2" height="33" fill="#4596b8"/>
<rect x="225.6" y="192" width="1.2" height="33" fill="#4596b8"/>
<rect x="246.04" y="192" width="1.2" height="33" fill="#4596b8"/>
<rect x="266.48" y="192" width="1.2" height="33" fill="#4596b8"/>
<rect x="286.92" y="192" width="1.2" height="33" fill="#4596b8"/>
<rect x="307.36" y="192" width="1.2" height="33" fill="#4596b8"/>
<rect x="327.8" y="192" width="1.2" height="33" fill="#4596b8"/>
<rect x="348.24" y="192" width="1.2" height="33" fill="#4596b8"/>
<rect x="368.68" y="192" width="1.2" height="33" fill="#4596b8"/>
<rect x="389.12" y="192" width="1.2" height="33" fill="#4596b8"/>
<rect x="409.56" y="192" width="1.2" height="33" fill="#4596b8"/>
<rect x="430" y="192" width="1.2" height="33" fill="#4596b8"/>
<rect x="450.44" y="192" width="1.2" height="33" fill="#4596b8"/>
<rect x="470.88" y="192" width="1.2" height="33" fill="#4596b8"/>
<rect x="491.32" y="192" width="1.2" height="33" fill="#4596b8"/>
<rect x="511.76" y="192" width="1.2" height="33" fill="#93aac2"/>
<rect x="532.2" y="192" width="1.2" height="33" fill="#93aac2"/>
<rect x="552.64" y="192" width="1.2" height="33" fill="#93aac2"/>
<rect x="573.08" y="192" width="1.2" height="33" fill="#93aac2"/>
<rect x="593.52" y="192" width="1.2" height="33" fill="#93aac2"/>
<rect x="613.96" y="192" width="1.2" height="33" fill="#93aac2"/>
<rect x="634.4" y="192" width="1.2" height="33" fill="#93aac2"/>
<rect x="654.84" y="192" width="1.2" height="33" fill="#93aac2"/>
<rect x="675.28" y="192" width="1.2" height="33" fill="#93aac2"/>
<rect x="695.72" y="192" width="1.2" height="33" fill="#93aac2"/>
<rect x="716.16" y="192" width="1.2" height="33" fill="#93aac2"/>
<rect x="736.6" y="192" width="1.2" height="33" fill="#93aac2"/>
<rect x="757.04" y="192" width="1.2" height="33" fill="#93aac2"/>
<rect x="777.48" y="192" width="1.2" height="33" fill="#93aac2"/>
<rect x="797.92" y="192" width="1.2" height="33" fill="#93aac2"/>
<rect x="818.36" y="192" width="1.2" height="33" fill="#93aac2"/>
<rect x="838.8" y="192" width="1.2" height="33" fill="#93aac2"/>
<rect x="859.24" y="192" width="1.2" height="33" fill="#93aac2"/>
<rect x="879.68" y="192" width="1.2" height="33" fill="#93aac2"/>
<rect x="900.12" y="192" width="1.2" height="33" fill="#93aac2"/>
<rect x="920.56" y="192" width="1.2" height="33" fill="#93aac2"/>
<rect x="941" y="192" width="1.2" height="33" fill="#93aac2"/>
<rect x="961.44" y="192" width="1.2" height="33" fill="#93aac2"/>
<rect x="981.88" y="192" width="1.2" height="33" fill="#93aac2"/>
<rect x="1002.32" y="192" width="1.2" height="33" fill="#93aac2"/>
<rect x="1022.76" y="192" width="1.2" height="33" fill="#93aac2"/>
<rect x="1043.2" y="192" width="1.2" height="33" fill="#93aac2"/>
<rect x="1063.64" y="192" width="1.2" height="33" fill="#93aac2"/>
<rect x="1084.08" y="192" width="1.2" height="33" fill="#93aac2"/>
<rect x="1104.52" y="192" width="1.2" height="33" fill="#93aac2"/>
<rect x="1124.96" y="192" width="1.2" height="33" fill="#93aac2"/>
<rect x="1145.4" y="192" width="1.2" height="33" fill="#93aac2"/>
<rect x="1165.84" y="192" width="1.2" height="33" fill="#93aac2"/>
<rect x="1186.28" y="192" width="1.2" height="33" fill="#93aac2"/>
<rect x="1206.72" y="192" width="1.2" height="33" fill="#93aac2"/>
<rect x="1227.16" y="192" width="1.2" height="33" fill="#93aac2"/>
<rect x="1247.6" y="192" width="1.2" height="33" fill="#93aac2"/>
<rect x="1268.04" y="192" width="1.2" height="33" fill="#93aac2"/>
<rect x="1288.48" y="192" width="1.2" height="33" fill="#93aac2"/>
<rect x="1308.92" y="192" width="1.2" height="33" fill="#93aac2"/>
<rect x="1329.36" y="192" width="1.2" height="33" fill="#93aac2"/>
<rect x="1349.8" y="192" width="1.2" height="33" fill="#93aac2"/>
<rect x="1370.24" y="192" width="1.2" height="33" fill="#4596b8"/>
<rect x="1390.68" y="192" width="1.2" height="33" fill="#4596b8"/>
<rect x="1411.12" y="192" width="1.2" height="33" fill="#4596b8"/>
<rect x="1431.56" y="192" width="1.2" height="33" fill="#4596b8"/>
<rect x="1452" y="192" width="1.2" height="33" fill="#4596b8"/>
<rect x="839.6" y="192" width="492.2" height="16.6" fill="#bdc5cf"/>
<rect x="839.6" y="207.4" width="393.2" height="17.2" fill="#bdc5cf"/>
<rect x="491.4" y="207.8" width="247.5" height="16.4" fill="#bdc5cf"/>
<rect x="511.76" y="192" width="1.2" height="33" fill="#93a6b8" opacity="0.5"/>
<rect x="532.2" y="192" width="1.2" height="33" fill="#93a6b8" opacity="0.5"/>
<rect x="552.64" y="192" width="1.2" height="33" fill="#93a6b8" opacity="0.5"/>
<rect x="573.08" y="192" width="1.2" height="33" fill="#93a6b8" opacity="0.5"/>
<rect x="593.52" y="192" width="1.2" height="33" fill="#93a6b8" opacity="0.5"/>
<rect x="613.96" y="192" width="1.2" height="33" fill="#93a6b8" opacity="0.5"/>
<rect x="634.4" y="192" width="1.2" height="33" fill="#93a6b8" opacity="0.5"/>
<rect x="654.84" y="192" width="1.2" height="33" fill="#93a6b8" opacity="0.5"/>
<rect x="675.28" y="192" width="1.2" height="33" fill="#93a6b8" opacity="0.5"/>
<rect x="695.72" y="192" width="1.2" height="33" fill="#93a6b8" opacity="0.5"/>
<rect x="716.16" y="192" width="1.2" height="33" fill="#93a6b8" opacity="0.5"/>
<rect x="736.6" y="192" width="1.2" height="33" fill="#93a6b8" opacity="0.5"/>
<rect x="757.04" y="192" width="1.2" height="33" fill="#93a6b8" opacity="0.5"/>
<rect x="777.48" y="192" width="1.2" height="33" fill="#93a6b8" opacity="0.5"/>
<rect x="797.92" y="192" width="1.2" height="33" fill="#93a6b8" opacity="0.5"/>
<rect x="818.36" y="192" width="1.2" height="33" fill="#93a6b8" opacity="0.5"/>
<rect x="838.8" y="192" width="1.2" height="33" fill="#93a6b8" opacity="0.5"/>
<rect x="859.24" y="192" width="1.2" height="33" fill="#93a6b8" opacity="0.5"/>
<rect x="879.68" y="192" width="1.2" height="33" fill="#93a6b8" opacity="0.5"/>
<rect x="900.12" y="192" width="1.2" height="33" fill="#93a6b8" opacity="0.5"/>
<rect x="920.56" y="192" width="1.2" height="33" fill="#93a6b8" opacity="0.5"/>
<rect x="941" y="192" width="1.2" height="33" fill="#93a6b8" opacity="0.5"/>
<rect x="961.44" y="192" width="1.2" height="33" fill="#93a6b8" opacity="0.5"/>
<rect x="981.88" y="192" width="1.2" height="33" fill="#93a6b8" opacity="0.5"/>
<rect x="1002.32" y="192" width="1.2" height="33" fill="#93a6b8" opacity="0.5"/>
<rect x="1022.76" y="192" width="1.2" height="33" fill="#93a6b8" opacity="0.5"/>
<rect x="1043.2" y="192" width="1.2" height="33" fill="#93a6b8" opacity="0.5"/>
<rect x="1063.64" y="192" width="1.2" height="33" fill="#93a6b8" opacity="0.5"/>
<rect x="1084.08" y="192" width="1.2" height="33" fill="#93a6b8" opacity="0.5"/>
<rect x="1104.52" y="192" width="1.2" height="33" fill="#93a6b8" opacity="0.5"/>
<rect x="1124.96" y="192" width="1.2" height="33" fill="#93a6b8" opacity="0.5"/>
<rect x="1145.4" y="192" width="1.2" height="33" fill="#93a6b8" opacity="0.5"/>
<rect x="1165.84" y="192" width="1.2" height="33" fill="#93a6b8" opacity="0.5"/>
<rect x="1186.28" y="192" width="1.2" height="33" fill="#93a6b8" opacity="0.5"/>
<rect x="1206.72" y="192" width="1.2" height="33" fill="#93a6b8" opacity="0.5"/>
<rect x="1227.16" y="192" width="1.2" height="33" fill="#93a6b8" opacity="0.5"/>
<rect x="1247.6" y="192" width="1.2" height="33" fill="#93a6b8" opacity="0.5"/>
<rect x="1268.04" y="192" width="1.2" height="33" fill="#93a6b8" opacity="0.5"/>
<rect x="1288.48" y="192" width="1.2" height="33" fill="#93a6b8" opacity="0.5"/>
<rect x="1308.92" y="192" width="1.2" height="33" fill="#93a6b8" opacity="0.5"/>
<rect x="1329.36" y="192" width="1.2" height="33" fill="#93a6b8" opacity="0.5"/>
<rect x="1349.8" y="192" width="1.2" height="33" fill="#93a6b8" opacity="0.5"/>
<rect x="840.4" y="194.6" width="490.6" height="11.4" fill="#f0832f"/>
<rect x="840.4" y="210" width="391.6" height="12" fill="#ffffff"/>
<rect x="492.2" y="210.4" width="245.9" height="11.2" fill="#9fd4ee"/>
<path d="M492.7 210.4h2.85v11.2h-2.85zM498.33 210.4h2.85v11.2h-2.85zM503.97 210.4h2.85v11.2h-2.85zM509.6 210.4h2.85v11.2h-2.85zM515.23 210.4h2.85v11.2h-2.85zM520.87 210.4h2.85v11.2h-2.85zM526.5 210.4h2.85v11.2h-2.85zM532.14 210.4h2.85v11.2h-2.85zM537.77 210.4h2.85v11.2h-2.85zM543.4 210.4h2.85v11.2h-2.85zM549.04 210.4h2.85v11.2h-2.85zM554.67 210.4h2.85v11.2h-2.85zM560.3 210.4h2.85v11.2h-2.85zM565.94 210.4h2.85v11.2h-2.85zM571.57 210.4h2.85v11.2h-2.85zM577.21 210.4h2.85v11.2h-2.85zM582.84 210.4h2.85v11.2h-2.85zM588.47 210.4h2.85v11.2h-2.85zM594.11 210.4h2.85v11.2h-2.85zM599.74 210.4h2.85v11.2h-2.85zM605.37 210.4h2.85v11.2h-2.85zM611.01 210.4h2.85v11.2h-2.85zM616.64 210.4h2.85v11.2h-2.85zM622.28 210.4h2.85v11.2h-2.85zM627.91 210.4h2.85v11.2h-2.85zM633.54 210.4h2.85v11.2h-2.85zM639.18 210.4h2.85v11.2h-2.85zM644.81 210.4h2.85v11.2h-2.85zM650.44 210.4h2.85v11.2h-2.85zM656.08 210.4h2.85v11.2h-2.85zM661.71 210.4h2.85v11.2h-2.85zM667.35 210.4h2.85v11.2h-2.85zM672.98 210.4h2.85v11.2h-2.85zM678.61 210.4h2.85v11.2h-2.85zM684.25 210.4h2.85v11.2h-2.85zM689.88 210.4h2.85v11.2h-2.85zM695.51 210.4h2.85v11.2h-2.85zM701.15 210.4h2.85v11.2h-2.85zM706.78 210.4h2.85v11.2h-2.85zM712.42 210.4h2.85v11.2h-2.85zM718.05 210.4h2.85v11.2h-2.85zM723.68 210.4h2.85v11.2h-2.85zM729.32 210.4h2.85v11.2h-2.85zM734.95 210.4h2.85v11.2h-2.85z" fill="#1b5675"/>
<text x="24.4" y="218.4" font-size="25.5" fill="#fff">Hihat</text>
<rect x="164.2" y="245.6" width="1227" height="33.2" fill="#b4c9de"/>
<path d="M164.2 245.6 H26 Q19 245.6 19 252.6 V271.8 Q19 278.8 26 278.8 H164.2 Z" fill="#52a8c9"/>
<path d="M1391.2 245.6 H1452 Q1459 245.6 1459 252.6 V271.8 Q1459 278.8 1452 278.8 H1391.2 Z" fill="#52a8c9"/>
<rect x="41.64" y="245.6" width="1.2" height="33.2" fill="#4596b8"/>
<rect x="62.08" y="245.6" width="1.2" height="33.2" fill="#4596b8"/>
<rect x="82.52" y="245.6" width="1.2" height="33.2" fill="#4596b8"/>
<rect x="102.96" y="245.6" width="1.2" height="33.2" fill="#4596b8"/>
<rect x="123.4" y="245.6" width="1.2" height="33.2" fill="#4596b8"/>
<rect x="143.84" y="245.6" width="1.2" height="33.2" fill="#4596b8"/>
<rect x="164.28" y="245.6" width="1.2" height="33.2" fill="#93aac2"/>
<rect x="184.72" y="245.6" width="1.2" height="33.2" fill="#93aac2"/>
<rect x="205.16" y="245.6" width="1.2" height="33.2" fill="#93aac2"/>
<rect x="225.6" y="245.6" width="1.2" height="33.2" fill="#93aac2"/>
<rect x="246.04" y="245.6" width="1.2" height="33.2" fill="#93aac2"/>
<rect x="266.48" y="245.6" width="1.2" height="33.2" fill="#93aac2"/>
<rect x="286.92" y="245.6" width="1.2" height="33.2" fill="#93aac2"/>
<rect x="307.36" y="245.6" width="1.2" height="33.2" fill="#93aac2"/>
<rect x="327.8" y="245.6" width="1.2" height="33.2" fill="#93aac2"/>
<rect x="348.24" y="245.6" width="1.2" height="33.2" fill="#93aac2"/>
<rect x="368.68" y="245.6" width="1.2" height="33.2" fill="#93aac2"/>
<rect x="389.12" y="245.6" width="1.2" height="33.2" fill="#93aac2"/>
<rect x="409.56" y="245.6" width="1.2" height="33.2" fill="#93aac2"/>
<rect x="430" y="245.6" width="1.2" height="33.2" fill="#93aac2"/>
<rect x="450.44" y="245.6" width="1.2" height="33.2" fill="#93aac2"/>
<rect x="470.88" y="245.6" width="1.2" height="33.2" fill="#93aac2"/>
<rect x="491.32" y="245.6" width="1.2" height="33.2" fill="#93aac2"/>
<rect x="511.76" y="245.6" width="1.2" height="33.2" fill="#93aac2"/>
<rect x="532.2" y="245.6" width="1.2" height="33.2" fill="#93aac2"/>
<rect x="552.64" y="245.6" width="1.2" height="33.2" fill="#93aac2"/>
<rect x="573.08" y="245.6" width="1.2" height="33.2" fill="#93aac2"/>
<rect x="593.52" y="245.6" width="1.2" height="33.2" fill="#93aac2"/>
<rect x="613.96" y="245.6" width="1.2" height="33.2" fill="#93aac2"/>
<rect x="634.4" y="245.6" width="1.2" height="33.2" fill="#93aac2"/>
<rect x="654.84" y="245.6" width="1.2" height="33.2" fill="#93aac2"/>
<rect x="675.28" y="245.6" width="1.2" height="33.2" fill="#93aac2"/>
<rect x="695.72" y="245.6" width="1.2" height="33.2" fill="#93aac2"/>
<rect x="716.16" y="245.6" width="1.2" height="33.2" fill="#93aac2"/>
<rect x="736.6" y="245.6" width="1.2" height="33.2" fill="#93aac2"/>
<rect x="757.04" y="245.6" width="1.2" height="33.2" fill="#93aac2"/>
<rect x="777.48" y="245.6" width="1.2" height="33.2" fill="#93aac2"/>
<rect x="797.92" y="245.6" width="1.2" height="33.2" fill="#93aac2"/>
<rect x="818.36" y="245.6" width="1.2" height="33.2" fill="#93aac2"/>
<rect x="838.8" y="245.6" width="1.2" height="33.2" fill="#93aac2"/>
<rect x="859.24" y="245.6" width="1.2" height="33.2" fill="#93aac2"/>
<rect x="879.68" y="245.6" width="1.2" height="33.2" fill="#93aac2"/>
<rect x="900.12" y="245.6" width="1.2" height="33.2" fill="#93aac2"/>
<rect x="920.56" y="245.6" width="1.2" height="33.2" fill="#93aac2"/>
<rect x="941" y="245.6" width="1.2" height="33.2" fill="#93aac2"/>
<rect x="961.44" y="245.6" width="1.2" height="33.2" fill="#93aac2"/>
<rect x="981.88" y="245.6" width="1.2" height="33.2" fill="#93aac2"/>
<rect x="1002.32" y="245.6" width="1.2" height="33.2" fill="#93aac2"/>
<rect x="1022.76" y="245.6" width="1.2" height="33.2" fill="#93aac2"/>
<rect x="1043.2" y="245.6" width="1.2" height="33.2" fill="#93aac2"/>
<rect x="1063.64" y="245.6" width="1.2" height="33.2" fill="#93aac2"/>
<rect x="1084.08" y="245.6" width="1.2" height="33.2" fill="#93aac2"/>
<rect x="1104.52" y="245.6" width="1.2" height="33.2" fill="#93aac2"/>
<rect x="1124.96" y="245.6" width="1.2" height="33.2" fill="#93aac2"/>
<rect x="1145.4" y="245.6" width="1.2" height="33.2" fill="#93aac2"/>
<rect x="1165.84" y="245.6" width="1.2" height="33.2" fill="#93aac2"/>
<rect x="1186.28" y="245.6" width="1.2" height="33.2" fill="#93aac2"/>
<rect x="1206.72" y="245.6" width="1.2" height="33.2" fill="#93aac2"/>
<rect x="1227.16" y="245.6" width="1.2" height="33.2" fill="#93aac2"/>
<rect x="1247.6" y="245.6" width="1.2" height="33.2" fill="#93aac2"/>
<rect x="1268.04" y="245.6" width="1.2" height="33.2" fill="#93aac2"/>
<rect x="1288.48" y="245.6" width="1.2" height="33.2" fill="#93aac2"/>
<rect x="1308.92" y="245.6" width="1.2" height="33.2" fill="#93aac2"/>
<rect x="1329.36" y="245.6" width="1.2" height="33.2" fill="#93aac2"/>
<rect x="1349.8" y="245.6" width="1.2" height="33.2" fill="#93aac2"/>
<rect x="1370.24" y="245.6" width="1.2" height="33.2" fill="#93aac2"/>
<rect x="1390.68" y="245.6" width="1.2" height="33.2" fill="#4596b8"/>
<rect x="1411.12" y="245.6" width="1.2" height="33.2" fill="#4596b8"/>
<rect x="1431.56" y="245.6" width="1.2" height="33.2" fill="#4596b8"/>
<rect x="1452" y="245.6" width="1.2" height="33.2" fill="#4596b8"/>
<rect x="204.8" y="246.1" width="165.6" height="16.5" fill="#bdc5cf"/>
<rect x="493.4" y="246.1" width="304.7" height="16.5" fill="#bdc5cf"/>
<rect x="1022.1" y="246.1" width="369.7" height="16.5" fill="#bdc5cf"/>
<rect x="917.3" y="260.9" width="474.5" height="17.1" fill="#bdc5cf"/>
<rect x="358.8" y="262.3" width="439.3" height="16.1" fill="#bdc5cf"/>
<rect x="163.4" y="263.1" width="197" height="15.2" fill="#bdc5cf"/>
<rect x="164.28" y="245.6" width="1.2" height="33.2" fill="#93a6b8" opacity="0.5"/>
<rect x="184.72" y="245.6" width="1.2" height="33.2" fill="#93a6b8" opacity="0.5"/>
<rect x="205.16" y="245.6" width="1.2" height="33.2" fill="#93a6b8" opacity="0.5"/>
<rect x="225.6" y="245.6" width="1.2" height="33.2" fill="#93a6b8" opacity="0.5"/>
<rect x="246.04" y="245.6" width="1.2" height="33.2" fill="#93a6b8" opacity="0.5"/>
<rect x="266.48" y="245.6" width="1.2" height="33.2" fill="#93a6b8" opacity="0.5"/>
<rect x="286.92" y="245.6" width="1.2" height="33.2" fill="#93a6b8" opacity="0.5"/>
<rect x="307.36" y="245.6" width="1.2" height="33.2" fill="#93a6b8" opacity="0.5"/>
<rect x="327.8" y="245.6" width="1.2" height="33.2" fill="#93a6b8" opacity="0.5"/>
<rect x="348.24" y="245.6" width="1.2" height="33.2" fill="#93a6b8" opacity="0.5"/>
<rect x="368.68" y="245.6" width="1.2" height="33.2" fill="#93a6b8" opacity="0.5"/>
<rect x="389.12" y="245.6" width="1.2" height="33.2" fill="#93a6b8" opacity="0.5"/>
<rect x="409.56" y="245.6" width="1.2" height="33.2" fill="#93a6b8" opacity="0.5"/>
<rect x="430" y="245.6" width="1.2" height="33.2" fill="#93a6b8" opacity="0.5"/>
<rect x="450.44" y="245.6" width="1.2" height="33.2" fill="#93a6b8" opacity="0.5"/>
<rect x="470.88" y="245.6" width="1.2" height="33.2" fill="#93a6b8" opacity="0.5"/>
<rect x="491.32" y="245.6" width="1.2" height="33.2" fill="#93a6b8" opacity="0.5"/>
<rect x="511.76" y="245.6" width="1.2" height="33.2" fill="#93a6b8" opacity="0.5"/>
<rect x="532.2" y="245.6" width="1.2" height="33.2" fill="#93a6b8" opacity="0.5"/>
<rect x="552.64" y="245.6" width="1.2" height="33.2" fill="#93a6b8" opacity="0.5"/>
<rect x="573.08" y="245.6" width="1.2" height="33.2" fill="#93a6b8" opacity="0.5"/>
<rect x="593.52" y="245.6" width="1.2" height="33.2" fill="#93a6b8" opacity="0.5"/>
<rect x="613.96" y="245.6" width="1.2" height="33.2" fill="#93a6b8" opacity="0.5"/>
<rect x="634.4" y="245.6" width="1.2" height="33.2" fill="#93a6b8" opacity="0.5"/>
<rect x="654.84" y="245.6" width="1.2" height="33.2" fill="#93a6b8" opacity="0.5"/>
<rect x="675.28" y="245.6" width="1.2" height="33.2" fill="#93a6b8" opacity="0.5"/>
<rect x="695.72" y="245.6" width="1.2" height="33.2" fill="#93a6b8" opacity="0.5"/>
<rect x="716.16" y="245.6" width="1.2" height="33.2" fill="#93a6b8" opacity="0.5"/>
<rect x="736.6" y="245.6" width="1.2" height="33.2" fill="#93a6b8" opacity="0.5"/>
<rect x="757.04" y="245.6" width="1.2" height="33.2" fill="#93a6b8" opacity="0.5"/>
<rect x="777.48" y="245.6" width="1.2" height="33.2" fill="#93a6b8" opacity="0.5"/>
<rect x="797.92" y="245.6" width="1.2" height="33.2" fill="#93a6b8" opacity="0.5"/>
<rect x="818.36" y="245.6" width="1.2" height="33.2" fill="#93a6b8" opacity="0.5"/>
<rect x="838.8" y="245.6" width="1.2" height="33.2" fill="#93a6b8" opacity="0.5"/>
<rect x="859.24" y="245.6" width="1.2" height="33.2" fill="#93a6b8" opacity="0.5"/>
<rect x="879.68" y="245.6" width="1.2" height="33.2" fill="#93a6b8" opacity="0.5"/>
<rect x="900.12" y="245.6" width="1.2" height="33.2" fill="#93a6b8" opacity="0.5"/>
<rect x="920.56" y="245.6" width="1.2" height="33.2" fill="#93a6b8" opacity="0.5"/>
<rect x="941" y="245.6" width="1.2" height="33.2" fill="#93a6b8" opacity="0.5"/>
<rect x="961.44" y="245.6" width="1.2" height="33.2" fill="#93a6b8" opacity="0.5"/>
<rect x="981.88" y="245.6" width="1.2" height="33.2" fill="#93a6b8" opacity="0.5"/>
<rect x="1002.32" y="245.6" width="1.2" height="33.2" fill="#93a6b8" opacity="0.5"/>
<rect x="1022.76" y="245.6" width="1.2" height="33.2" fill="#93a6b8" opacity="0.5"/>
<rect x="1043.2" y="245.6" width="1.2" height="33.2" fill="#93a6b8" opacity="0.5"/>
<rect x="1063.64" y="245.6" width="1.2" height="33.2" fill="#93a6b8" opacity="0.5"/>
<rect x="1084.08" y="245.6" width="1.2" height="33.2" fill="#93a6b8" opacity="0.5"/>
<rect x="1104.52" y="245.6" width="1.2" height="33.2" fill="#93a6b8" opacity="0.5"/>
<rect x="1124.96" y="245.6" width="1.2" height="33.2" fill="#93a6b8" opacity="0.5"/>
<rect x="1145.4" y="245.6" width="1.2" height="33.2" fill="#93a6b8" opacity="0.5"/>
<rect x="1165.84" y="245.6" width="1.2" height="33.2" fill="#93a6b8" opacity="0.5"/>
<rect x="1186.28" y="245.6" width="1.2" height="33.2" fill="#93a6b8" opacity="0.5"/>
<rect x="1206.72" y="245.6" width="1.2" height="33.2" fill="#93a6b8" opacity="0.5"/>
<rect x="1227.16" y="245.6" width="1.2" height="33.2" fill="#93a6b8" opacity="0.5"/>
<rect x="1247.6" y="245.6" width="1.2" height="33.2" fill="#93a6b8" opacity="0.5"/>
<rect x="1268.04" y="245.6" width="1.2" height="33.2" fill="#93a6b8" opacity="0.5"/>
<rect x="1288.48" y="245.6" width="1.2" height="33.2" fill="#93a6b8" opacity="0.5"/>
<rect x="1308.92" y="245.6" width="1.2" height="33.2" fill="#93a6b8" opacity="0.5"/>
<rect x="1329.36" y="245.6" width="1.2" height="33.2" fill="#93a6b8" opacity="0.5"/>
<rect x="1349.8" y="245.6" width="1.2" height="33.2" fill="#93a6b8" opacity="0.5"/>
<rect x="1370.24" y="245.6" width="1.2" height="33.2" fill="#93a6b8" opacity="0.5"/>
<rect x="205.6" y="248.7" width="164" height="11.3" fill="#f0832f"/>
<rect x="494.2" y="248.7" width="303.1" height="11.3" fill="#f0832f"/>
<rect x="1022.9" y="248.7" width="368.1" height="11.3" fill="#f0832f"/>
<rect x="918.1" y="263.5" width="472.9" height="11.9" fill="#ffffff"/>
<rect x="359.6" y="264.9" width="437.7" height="10.9" fill="#9fd4ee"/>
<path d="M360.1 264.9h2.85v10.9h-2.85zM365.81 264.9h2.85v10.9h-2.85zM371.52 264.9h2.85v10.9h-2.85zM377.23 264.9h2.85v10.9h-2.85zM382.94 264.9h2.85v10.9h-2.85zM388.66 264.9h2.85v10.9h-2.85zM394.37 264.9h2.85v10.9h-2.85zM400.08 264.9h2.85v10.9h-2.85zM405.79 264.9h2.85v10.9h-2.85zM411.5 264.9h2.85v10.9h-2.85zM417.21 264.9h2.85v10.9h-2.85zM422.92 264.9h2.85v10.9h-2.85zM428.63 264.9h2.85v10.9h-2.85zM434.35 264.9h2.85v10.9h-2.85zM440.06 264.9h2.85v10.9h-2.85zM445.77 264.9h2.85v10.9h-2.85zM451.48 264.9h2.85v10.9h-2.85zM457.19 264.9h2.85v10.9h-2.85zM462.9 264.9h2.85v10.9h-2.85zM468.61 264.9h2.85v10.9h-2.85zM474.32 264.9h2.85v10.9h-2.85zM480.03 264.9h2.85v10.9h-2.85zM485.75 264.9h2.85v10.9h-2.85zM491.46 264.9h2.85v10.9h-2.85zM497.17 264.9h2.85v10.9h-2.85zM502.88 264.9h2.85v10.9h-2.85zM508.59 264.9h2.85v10.9h-2.85zM514.3 264.9h2.85v10.9h-2.85zM520.01 264.9h2.85v10.9h-2.85zM525.72 264.9h2.85v10.9h-2.85zM531.44 264.9h2.85v10.9h-2.85zM537.15 264.9h2.85v10.9h-2.85zM542.86 264.9h2.85v10.9h-2.85zM548.57 264.9h2.85v10.9h-2.85zM554.28 264.9h2.85v10.9h-2.85zM559.99 264.9h2.85v10.9h-2.85zM565.7 264.9h2.85v10.9h-2.85zM571.41 264.9h2.85v10.9h-2.85zM577.12 264.9h2.85v10.9h-2.85zM582.84 264.9h2.85v10.9h-2.85zM588.55 264.9h2.85v10.9h-2.85zM594.26 264.9h2.85v10.9h-2.85zM599.97 264.9h2.85v10.9h-2.85zM605.68 264.9h2.85v10.9h-2.85zM611.39 264.9h2.85v10.9h-2.85zM617.1 264.9h2.85v10.9h-2.85zM622.81 264.9h2.85v10.9h-2.85zM628.53 264.9h2.85v10.9h-2.85zM634.24 264.9h2.85v10.9h-2.85zM639.95 264.9h2.85v10.9h-2.85zM645.66 264.9h2.85v10.9h-2.85zM651.37 264.9h2.85v10.9h-2.85zM657.08 264.9h2.85v10.9h-2.85zM662.79 264.9h2.85v10.9h-2.85zM668.5 264.9h2.85v10.9h-2.85zM674.22 264.9h2.85v10.9h-2.85zM679.93 264.9h2.85v10.9h-2.85zM685.64 264.9h2.85v10.9h-2.85zM691.35 264.9h2.85v10.9h-2.85zM697.06 264.9h2.85v10.9h-2.85zM702.77 264.9h2.85v10.9h-2.85zM708.48 264.9h2.85v10.9h-2.85zM714.19 264.9h2.85v10.9h-2.85zM719.9 264.9h2.85v10.9h-2.85zM725.62 264.9h2.85v10.9h-2.85zM731.33 264.9h2.85v10.9h-2.85zM737.04 264.9h2.85v10.9h-2.85zM742.75 264.9h2.85v10.9h-2.85zM748.46 264.9h2.85v10.9h-2.85zM754.17 264.9h2.85v10.9h-2.85zM759.88 264.9h2.85v10.9h-2.85zM765.59 264.9h2.85v10.9h-2.85zM771.31 264.9h2.85v10.9h-2.85zM777.02 264.9h2.85v10.9h-2.85zM782.73 264.9h2.85v10.9h-2.85zM788.44 264.9h2.85v10.9h-2.85zM794.15 264.9h2.85v10.9h-2.85z" fill="#1b5675"/>
<rect x="164.2" y="265.7" width="195.4" height="10" fill="#231f20"/>
<text x="24.8" y="271.6" font-size="25.5" fill="#fff">OH</text>
<rect x="308.8" y="299.2" width="980.2" height="33" fill="#b4c9de"/>
<path d="M308.8 299.2 H26 Q19 299.2 19 306.2 V325.2 Q19 332.2 26 332.2 H308.8 Z" fill="#52a8c9"/>
<path d="M1289 299.2 H1452 Q1459 299.2 1459 306.2 V325.2 Q1459 332.2 1452 332.2 H1289 Z" fill="#52a8c9"/>
<rect x="41.64" y="299.2" width="1.2" height="33" fill="#4596b8"/>
<rect x="62.08" y="299.2" width="1.2" height="33" fill="#4596b8"/>
<rect x="82.52" y="299.2" width="1.2" height="33" fill="#4596b8"/>
<rect x="102.96" y="299.2" width="1.2" height="33" fill="#4596b8"/>
<rect x="123.4" y="299.2" width="1.2" height="33" fill="#4596b8"/>
<rect x="143.84" y="299.2" width="1.2" height="33" fill="#4596b8"/>
<rect x="164.28" y="299.2" width="1.2" height="33" fill="#4596b8"/>
<rect x="184.72" y="299.2" width="1.2" height="33" fill="#4596b8"/>
<rect x="205.16" y="299.2" width="1.2" height="33" fill="#4596b8"/>
<rect x="225.6" y="299.2" width="1.2" height="33" fill="#4596b8"/>
<rect x="246.04" y="299.2" width="1.2" height="33" fill="#4596b8"/>
<rect x="266.48" y="299.2" width="1.2" height="33" fill="#4596b8"/>
<rect x="286.92" y="299.2" width="1.2" height="33" fill="#4596b8"/>
<rect x="307.36" y="299.2" width="1.2" height="33" fill="#4596b8"/>
<rect x="327.8" y="299.2" width="1.2" height="33" fill="#93aac2"/>
<rect x="348.24" y="299.2" width="1.2" height="33" fill="#93aac2"/>
<rect x="368.68" y="299.2" width="1.2" height="33" fill="#93aac2"/>
<rect x="389.12" y="299.2" width="1.2" height="33" fill="#93aac2"/>
<rect x="409.56" y="299.2" width="1.2" height="33" fill="#93aac2"/>
<rect x="430" y="299.2" width="1.2" height="33" fill="#93aac2"/>
<rect x="450.44" y="299.2" width="1.2" height="33" fill="#93aac2"/>
<rect x="470.88" y="299.2" width="1.2" height="33" fill="#93aac2"/>
<rect x="491.32" y="299.2" width="1.2" height="33" fill="#93aac2"/>
<rect x="511.76" y="299.2" width="1.2" height="33" fill="#93aac2"/>
<rect x="532.2" y="299.2" width="1.2" height="33" fill="#93aac2"/>
<rect x="552.64" y="299.2" width="1.2" height="33" fill="#93aac2"/>
<rect x="573.08" y="299.2" width="1.2" height="33" fill="#93aac2"/>
<rect x="593.52" y="299.2" width="1.2" height="33" fill="#93aac2"/>
<rect x="613.96" y="299.2" width="1.2" height="33" fill="#93aac2"/>
<rect x="634.4" y="299.2" width="1.2" height="33" fill="#93aac2"/>
<rect x="654.84" y="299.2" width="1.2" height="33" fill="#93aac2"/>
<rect x="675.28" y="299.2" width="1.2" height="33" fill="#93aac2"/>
<rect x="695.72" y="299.2" width="1.2" height="33" fill="#93aac2"/>
<rect x="716.16" y="299.2" width="1.2" height="33" fill="#93aac2"/>
<rect x="736.6" y="299.2" width="1.2" height="33" fill="#93aac2"/>
<rect x="757.04" y="299.2" width="1.2" height="33" fill="#93aac2"/>
<rect x="777.48" y="299.2" width="1.2" height="33" fill="#93aac2"/>
<rect x="797.92" y="299.2" width="1.2" height="33" fill="#93aac2"/>
<rect x="818.36" y="299.2" width="1.2" height="33" fill="#93aac2"/>
<rect x="838.8" y="299.2" width="1.2" height="33" fill="#93aac2"/>
<rect x="859.24" y="299.2" width="1.2" height="33" fill="#93aac2"/>
<rect x="879.68" y="299.2" width="1.2" height="33" fill="#93aac2"/>
<rect x="900.12" y="299.2" width="1.2" height="33" fill="#93aac2"/>
<rect x="920.56" y="299.2" width="1.2" height="33" fill="#93aac2"/>
<rect x="941" y="299.2" width="1.2" height="33" fill="#93aac2"/>
<rect x="961.44" y="299.2" width="1.2" height="33" fill="#93aac2"/>
<rect x="981.88" y="299.2" width="1.2" height="33" fill="#93aac2"/>
<rect x="1002.32" y="299.2" width="1.2" height="33" fill="#93aac2"/>
<rect x="1022.76" y="299.2" width="1.2" height="33" fill="#93aac2"/>
<rect x="1043.2" y="299.2" width="1.2" height="33" fill="#93aac2"/>
<rect x="1063.64" y="299.2" width="1.2" height="33" fill="#93aac2"/>
<rect x="1084.08" y="299.2" width="1.2" height="33" fill="#93aac2"/>
<rect x="1104.52" y="299.2" width="1.2" height="33" fill="#93aac2"/>
<rect x="1124.96" y="299.2" width="1.2" height="33" fill="#93aac2"/>
<rect x="1145.4" y="299.2" width="1.2" height="33" fill="#93aac2"/>
<rect x="1165.84" y="299.2" width="1.2" height="33" fill="#93aac2"/>
<rect x="1186.28" y="299.2" width="1.2" height="33" fill="#93aac2"/>
<rect x="1206.72" y="299.2" width="1.2" height="33" fill="#93aac2"/>
<rect x="1227.16" y="299.2" width="1.2" height="33" fill="#93aac2"/>
<rect x="1247.6" y="299.2" width="1.2" height="33" fill="#93aac2"/>
<rect x="1268.04" y="299.2" width="1.2" height="33" fill="#93aac2"/>
<rect x="1288.48" y="299.2" width="1.2" height="33" fill="#4596b8"/>
<rect x="1308.92" y="299.2" width="1.2" height="33" fill="#4596b8"/>
<rect x="1329.36" y="299.2" width="1.2" height="33" fill="#4596b8"/>
<rect x="1349.8" y="299.2" width="1.2" height="33" fill="#4596b8"/>
<rect x="1370.24" y="299.2" width="1.2" height="33" fill="#4596b8"/>
<rect x="1390.68" y="299.2" width="1.2" height="33" fill="#4596b8"/>
<rect x="1411.12" y="299.2" width="1.2" height="33" fill="#4596b8"/>
<rect x="1431.56" y="299.2" width="1.2" height="33" fill="#4596b8"/>
<rect x="1452" y="299.2" width="1.2" height="33" fill="#4596b8"/>
<rect x="491.4" y="301" width="247.8" height="16.1" fill="#bdc5cf"/>
<rect x="962" y="301" width="226.5" height="16.1" fill="#bdc5cf"/>
<rect x="880.2" y="315.1" width="409.6" height="16.8" fill="#bdc5cf"/>
<rect x="537.7" y="316.2" width="201.5" height="16" fill="#bdc5cf"/>
<rect x="308" y="316.5" width="231.3" height="15.7" fill="#bdc5cf"/>
<rect x="327.8" y="299.2" width="1.2" height="33" fill="#93a6b8" opacity="0.5"/>
<rect x="348.24" y="299.2" width="1.2" height="33" fill="#93a6b8" opacity="0.5"/>
<rect x="368.68" y="299.2" width="1.2" height="33" fill="#93a6b8" opacity="0.5"/>
<rect x="389.12" y="299.2" width="1.2" height="33" fill="#93a6b8" opacity="0.5"/>
<rect x="409.56" y="299.2" width="1.2" height="33" fill="#93a6b8" opacity="0.5"/>
<rect x="430" y="299.2" width="1.2" height="33" fill="#93a6b8" opacity="0.5"/>
<rect x="450.44" y="299.2" width="1.2" height="33" fill="#93a6b8" opacity="0.5"/>
<rect x="470.88" y="299.2" width="1.2" height="33" fill="#93a6b8" opacity="0.5"/>
<rect x="491.32" y="299.2" width="1.2" height="33" fill="#93a6b8" opacity="0.5"/>
<rect x="511.76" y="299.2" width="1.2" height="33" fill="#93a6b8" opacity="0.5"/>
<rect x="532.2" y="299.2" width="1.2" height="33" fill="#93a6b8" opacity="0.5"/>
<rect x="552.64" y="299.2" width="1.2" height="33" fill="#93a6b8" opacity="0.5"/>
<rect x="573.08" y="299.2" width="1.2" height="33" fill="#93a6b8" opacity="0.5"/>
<rect x="593.52" y="299.2" width="1.2" height="33" fill="#93a6b8" opacity="0.5"/>
<rect x="613.96" y="299.2" width="1.2" height="33" fill="#93a6b8" opacity="0.5"/>
<rect x="634.4" y="299.2" width="1.2" height="33" fill="#93a6b8" opacity="0.5"/>
<rect x="654.84" y="299.2" width="1.2" height="33" fill="#93a6b8" opacity="0.5"/>
<rect x="675.28" y="299.2" width="1.2" height="33" fill="#93a6b8" opacity="0.5"/>
<rect x="695.72" y="299.2" width="1.2" height="33" fill="#93a6b8" opacity="0.5"/>
<rect x="716.16" y="299.2" width="1.2" height="33" fill="#93a6b8" opacity="0.5"/>
<rect x="736.6" y="299.2" width="1.2" height="33" fill="#93a6b8" opacity="0.5"/>
<rect x="757.04" y="299.2" width="1.2" height="33" fill="#93a6b8" opacity="0.5"/>
<rect x="777.48" y="299.2" width="1.2" height="33" fill="#93a6b8" opacity="0.5"/>
<rect x="797.92" y="299.2" width="1.2" height="33" fill="#93a6b8" opacity="0.5"/>
<rect x="818.36" y="299.2" width="1.2" height="33" fill="#93a6b8" opacity="0.5"/>
<rect x="838.8" y="299.2" width="1.2" height="33" fill="#93a6b8" opacity="0.5"/>
<rect x="859.24" y="299.2" width="1.2" height="33" fill="#93a6b8" opacity="0.5"/>
<rect x="879.68" y="299.2" width="1.2" height="33" fill="#93a6b8" opacity="0.5"/>
<rect x="900.12" y="299.2" width="1.2" height="33" fill="#93a6b8" opacity="0.5"/>
<rect x="920.56" y="299.2" width="1.2" height="33" fill="#93a6b8" opacity="0.5"/>
<rect x="941" y="299.2" width="1.2" height="33" fill="#93a6b8" opacity="0.5"/>
<rect x="961.44" y="299.2" width="1.2" height="33" fill="#93a6b8" opacity="0.5"/>
<rect x="981.88" y="299.2" width="1.2" height="33" fill="#93a6b8" opacity="0.5"/>
<rect x="1002.32" y="299.2" width="1.2" height="33" fill="#93a6b8" opacity="0.5"/>
<rect x="1022.76" y="299.2" width="1.2" height="33" fill="#93a6b8" opacity="0.5"/>
<rect x="1043.2" y="299.2" width="1.2" height="33" fill="#93a6b8" opacity="0.5"/>
<rect x="1063.64" y="299.2" width="1.2" height="33" fill="#93a6b8" opacity="0.5"/>
<rect x="1084.08" y="299.2" width="1.2" height="33" fill="#93a6b8" opacity="0.5"/>
<rect x="1104.52" y="299.2" width="1.2" height="33" fill="#93a6b8" opacity="0.5"/>
<rect x="1124.96" y="299.2" width="1.2" height="33" fill="#93a6b8" opacity="0.5"/>
<rect x="1145.4" y="299.2" width="1.2" height="33" fill="#93a6b8" opacity="0.5"/>
<rect x="1165.84" y="299.2" width="1.2" height="33" fill="#93a6b8" opacity="0.5"/>
<rect x="1186.28" y="299.2" width="1.2" height="33" fill="#93a6b8" opacity="0.5"/>
<rect x="1206.72" y="299.2" width="1.2" height="33" fill="#93a6b8" opacity="0.5"/>
<rect x="1227.16" y="299.2" width="1.2" height="33" fill="#93a6b8" opacity="0.5"/>
<rect x="1247.6" y="299.2" width="1.2" height="33" fill="#93a6b8" opacity="0.5"/>
<rect x="1268.04" y="299.2" width="1.2" height="33" fill="#93a6b8" opacity="0.5"/>
<rect x="492.2" y="303.6" width="246.2" height="10.9" fill="#f0832f"/>
<rect x="962.8" y="303.6" width="224.9" height="10.9" fill="#f0832f"/>
<rect x="881" y="317.7" width="408" height="11.6" fill="#ffffff"/>
<rect x="538.5" y="318.8" width="199.9" height="11.1" fill="#9fd4ee"/>
<path d="M539 318.8h2.85v11.1h-2.85zM544.77 318.8h2.85v11.1h-2.85zM550.54 318.8h2.85v11.1h-2.85zM556.32 318.8h2.85v11.1h-2.85zM562.09 318.8h2.85v11.1h-2.85zM567.86 318.8h2.85v11.1h-2.85zM573.63 318.8h2.85v11.1h-2.85zM579.4 318.8h2.85v11.1h-2.85zM585.18 318.8h2.85v11.1h-2.85zM590.95 318.8h2.85v11.1h-2.85zM596.72 318.8h2.85v11.1h-2.85zM602.49 318.8h2.85v11.1h-2.85zM608.26 318.8h2.85v11.1h-2.85zM614.04 318.8h2.85v11.1h-2.85zM619.81 318.8h2.85v11.1h-2.85zM625.58 318.8h2.85v11.1h-2.85zM631.35 318.8h2.85v11.1h-2.85zM637.12 318.8h2.85v11.1h-2.85zM642.9 318.8h2.85v11.1h-2.85zM648.67 318.8h2.85v11.1h-2.85zM654.44 318.8h2.85v11.1h-2.85zM660.21 318.8h2.85v11.1h-2.85zM665.99 318.8h2.85v11.1h-2.85zM671.76 318.8h2.85v11.1h-2.85zM677.53 318.8h2.85v11.1h-2.85zM683.3 318.8h2.85v11.1h-2.85zM689.07 318.8h2.85v11.1h-2.85zM694.85 318.8h2.85v11.1h-2.85zM700.62 318.8h2.85v11.1h-2.85zM706.39 318.8h2.85v11.1h-2.85zM712.16 318.8h2.85v11.1h-2.85zM717.93 318.8h2.85v11.1h-2.85zM723.71 318.8h2.85v11.1h-2.85zM729.48 318.8h2.85v11.1h-2.85zM735.25 318.8h2.85v11.1h-2.85z" fill="#1b5675"/>
<rect x="308.8" y="319.1" width="229.7" height="10.8" fill="#231f20"/>
<text x="24.9" y="325.9" font-size="25.5" fill="#fff">Pukor</text>
<rect x="165.5" y="353.2" width="1021.3" height="32.5" fill="#b4c9de"/>
<path d="M165.5 353.2 H26 Q19 353.2 19 360.2 V378.7 Q19 385.7 26 385.7 H165.5 Z" fill="#52a8c9"/>
<path d="M1186.8 353.2 H1452 Q1459 353.2 1459 360.2 V378.7 Q1459 385.7 1452 385.7 H1186.8 Z" fill="#52a8c9"/>
<rect x="41.64" y="353.2" width="1.2" height="32.5" fill="#4596b8"/>
<rect x="62.08" y="353.2" width="1.2" height="32.5" fill="#4596b8"/>
<rect x="82.52" y="353.2" width="1.2" height="32.5" fill="#4596b8"/>
<rect x="102.96" y="353.2" width="1.2" height="32.5" fill="#4596b8"/>
<rect x="123.4" y="353.2" width="1.2" height="32.5" fill="#4596b8"/>
<rect x="143.84" y="353.2" width="1.2" height="32.5" fill="#4596b8"/>
<rect x="164.28" y="353.2" width="1.2" height="32.5" fill="#4596b8"/>
<rect x="184.72" y="353.2" width="1.2" height="32.5" fill="#93aac2"/>
<rect x="205.16" y="353.2" width="1.2" height="32.5" fill="#93aac2"/>
<rect x="225.6" y="353.2" width="1.2" height="32.5" fill="#93aac2"/>
<rect x="246.04" y="353.2" width="1.2" height="32.5" fill="#93aac2"/>
<rect x="266.48" y="353.2" width="1.2" height="32.5" fill="#93aac2"/>
<rect x="286.92" y="353.2" width="1.2" height="32.5" fill="#93aac2"/>
<rect x="307.36" y="353.2" width="1.2" height="32.5" fill="#93aac2"/>
<rect x="327.8" y="353.2" width="1.2" height="32.5" fill="#93aac2"/>
<rect x="348.24" y="353.2" width="1.2" height="32.5" fill="#93aac2"/>
<rect x="368.68" y="353.2" width="1.2" height="32.5" fill="#93aac2"/>
<rect x="389.12" y="353.2" width="1.2" height="32.5" fill="#93aac2"/>
<rect x="409.56" y="353.2" width="1.2" height="32.5" fill="#93aac2"/>
<rect x="430" y="353.2" width="1.2" height="32.5" fill="#93aac2"/>
<rect x="450.44" y="353.2" width="1.2" height="32.5" fill="#93aac2"/>
<rect x="470.88" y="353.2" width="1.2" height="32.5" fill="#93aac2"/>
<rect x="491.32" y="353.2" width="1.2" height="32.5" fill="#93aac2"/>
<rect x="511.76" y="353.2" width="1.2" height="32.5" fill="#93aac2"/>
<rect x="532.2" y="353.2" width="1.2" height="32.5" fill="#93aac2"/>
<rect x="552.64" y="353.2" width="1.2" height="32.5" fill="#93aac2"/>
<rect x="573.08" y="353.2" width="1.2" height="32.5" fill="#93aac2"/>
<rect x="593.52" y="353.2" width="1.2" height="32.5" fill="#93aac2"/>
<rect x="613.96" y="353.2" width="1.2" height="32.5" fill="#93aac2"/>
<rect x="634.4" y="353.2" width="1.2" height="32.5" fill="#93aac2"/>
<rect x="654.84" y="353.2" width="1.2" height="32.5" fill="#93aac2"/>
<rect x="675.28" y="353.2" width="1.2" height="32.5" fill="#93aac2"/>
<rect x="695.72" y="353.2" width="1.2" height="32.5" fill="#93aac2"/>
<rect x="716.16" y="353.2" width="1.2" height="32.5" fill="#93aac2"/>
<rect x="736.6" y="353.2" width="1.2" height="32.5" fill="#93aac2"/>
<rect x="757.04" y="353.2" width="1.2" height="32.5" fill="#93aac2"/>
<rect x="777.48" y="353.2" width="1.2" height="32.5" fill="#93aac2"/>
<rect x="797.92" y="353.2" width="1.2" height="32.5" fill="#93aac2"/>
<rect x="818.36" y="353.2" width="1.2" height="32.5" fill="#93aac2"/>
<rect x="838.8" y="353.2" width="1.2" height="32.5" fill="#93aac2"/>
<rect x="859.24" y="353.2" width="1.2" height="32.5" fill="#93aac2"/>
<rect x="879.68" y="353.2" width="1.2" height="32.5" fill="#93aac2"/>
<rect x="900.12" y="353.2" width="1.2" height="32.5" fill="#93aac2"/>
<rect x="920.56" y="353.2" width="1.2" height="32.5" fill="#93aac2"/>
<rect x="941" y="353.2" width="1.2" height="32.5" fill="#93aac2"/>
<rect x="961.44" y="353.2" width="1.2" height="32.5" fill="#93aac2"/>
<rect x="981.88" y="353.2" width="1.2" height="32.5" fill="#93aac2"/>
<rect x="1002.32" y="353.2" width="1.2" height="32.5" fill="#93aac2"/>
<rect x="1022.76" y="353.2" width="1.2" height="32.5" fill="#93aac2"/>
<rect x="1043.2" y="353.2" width="1.2" height="32.5" fill="#93aac2"/>
<rect x="1063.64" y="353.2" width="1.2" height="32.5" fill="#93aac2"/>
<rect x="1084.08" y="353.2" width="1.2" height="32.5" fill="#93aac2"/>
<rect x="1104.52" y="353.2" width="1.2" height="32.5" fill="#93aac2"/>
<rect x="1124.96" y="353.2" width="1.2" height="32.5" fill="#93aac2"/>
<rect x="1145.4" y="353.2" width="1.2" height="32.5" fill="#93aac2"/>
<rect x="1165.84" y="353.2" width="1.2" height="32.5" fill="#93aac2"/>
<rect x="1186.28" y="353.2" width="1.2" height="32.5" fill="#4596b8"/>
<rect x="1206.72" y="353.2" width="1.2" height="32.5" fill="#4596b8"/>
<rect x="1227.16" y="353.2" width="1.2" height="32.5" fill="#4596b8"/>
<rect x="1247.6" y="353.2" width="1.2" height="32.5" fill="#4596b8"/>
<rect x="1268.04" y="353.2" width="1.2" height="32.5" fill="#4596b8"/>
<rect x="1288.48" y="353.2" width="1.2" height="32.5" fill="#4596b8"/>
<rect x="1308.92" y="353.2" width="1.2" height="32.5" fill="#4596b8"/>
<rect x="1329.36" y="353.2" width="1.2" height="32.5" fill="#4596b8"/>
<rect x="1349.8" y="353.2" width="1.2" height="32.5" fill="#4596b8"/>
<rect x="1370.24" y="353.2" width="1.2" height="32.5" fill="#4596b8"/>
<rect x="1390.68" y="353.2" width="1.2" height="32.5" fill="#4596b8"/>
<rect x="1411.12" y="353.2" width="1.2" height="32.5" fill="#4596b8"/>
<rect x="1431.56" y="353.2" width="1.2" height="32.5" fill="#4596b8"/>
<rect x="1452" y="353.2" width="1.2" height="32.5" fill="#4596b8"/>
<rect x="164.7" y="354.4" width="204.6" height="15.5" fill="#bdc5cf"/>
<rect x="430.7" y="354.4" width="226.5" height="15.5" fill="#bdc5cf"/>
<rect x="839.6" y="354.4" width="206.7" height="15.5" fill="#bdc5cf"/>
<rect x="839.6" y="368.9" width="246.1" height="16.8" fill="#bdc5cf"/>
<rect x="450.8" y="369.3" width="283.9" height="16.1" fill="#bdc5cf"/>
<rect x="164.7" y="369.6" width="287.7" height="15.2" fill="#bdc5cf"/>
<rect x="184.72" y="353.2" width="1.2" height="32.5" fill="#93a6b8" opacity="0.5"/>
<rect x="205.16" y="353.2" width="1.2" height="32.5" fill="#93a6b8" opacity="0.5"/>
<rect x="225.6" y="353.2" width="1.2" height="32.5" fill="#93a6b8" opacity="0.5"/>
<rect x="246.04" y="353.2" width="1.2" height="32.5" fill="#93a6b8" opacity="0.5"/>
<rect x="266.48" y="353.2" width="1.2" height="32.5" fill="#93a6b8" opacity="0.5"/>
<rect x="286.92" y="353.2" width="1.2" height="32.5" fill="#93a6b8" opacity="0.5"/>
<rect x="307.36" y="353.2" width="1.2" height="32.5" fill="#93a6b8" opacity="0.5"/>
<rect x="327.8" y="353.2" width="1.2" height="32.5" fill="#93a6b8" opacity="0.5"/>
<rect x="348.24" y="353.2" width="1.2" height="32.5" fill="#93a6b8" opacity="0.5"/>
<rect x="368.68" y="353.2" width="1.2" height="32.5" fill="#93a6b8" opacity="0.5"/>
<rect x="389.12" y="353.2" width="1.2" height="32.5" fill="#93a6b8" opacity="0.5"/>
<rect x="409.56" y="353.2" width="1.2" height="32.5" fill="#93a6b8" opacity="0.5"/>
<rect x="430" y="353.2" width="1.2" height="32.5" fill="#93a6b8" opacity="0.5"/>
<rect x="450.44" y="353.2" width="1.2" height="32.5" fill="#93a6b8" opacity="0.5"/>
<rect x="470.88" y="353.2" width="1.2" height="32.5" fill="#93a6b8" opacity="0.5"/>
<rect x="491.32" y="353.2" width="1.2" height="32.5" fill="#93a6b8" opacity="0.5"/>
<rect x="511.76" y="353.2" width="1.2" height="32.5" fill="#93a6b8" opacity="0.5"/>
<rect x="532.2" y="353.2" width="1.2" height="32.5" fill="#93a6b8" opacity="0.5"/>
<rect x="552.64" y="353.2" width="1.2" height="32.5" fill="#93a6b8" opacity="0.5"/>
<rect x="573.08" y="353.2" width="1.2" height="32.5" fill="#93a6b8" opacity="0.5"/>
<rect x="593.52" y="353.2" width="1.2" height="32.5" fill="#93a6b8" opacity="0.5"/>
<rect x="613.96" y="353.2" width="1.2" height="32.5" fill="#93a6b8" opacity="0.5"/>
<rect x="634.4" y="353.2" width="1.2" height="32.5" fill="#93a6b8" opacity="0.5"/>
<rect x="654.84" y="353.2" width="1.2" height="32.5" fill="#93a6b8" opacity="0.5"/>
<rect x="675.28" y="353.2" width="1.2" height="32.5" fill="#93a6b8" opacity="0.5"/>
<rect x="695.72" y="353.2" width="1.2" height="32.5" fill="#93a6b8" opacity="0.5"/>
<rect x="716.16" y="353.2" width="1.2" height="32.5" fill="#93a6b8" opacity="0.5"/>
<rect x="736.6" y="353.2" width="1.2" height="32.5" fill="#93a6b8" opacity="0.5"/>
<rect x="757.04" y="353.2" width="1.2" height="32.5" fill="#93a6b8" opacity="0.5"/>
<rect x="777.48" y="353.2" width="1.2" height="32.5" fill="#93a6b8" opacity="0.5"/>
<rect x="797.92" y="353.2" width="1.2" height="32.5" fill="#93a6b8" opacity="0.5"/>
<rect x="818.36" y="353.2" width="1.2" height="32.5" fill="#93a6b8" opacity="0.5"/>
<rect x="838.8" y="353.2" width="1.2" height="32.5" fill="#93a6b8" opacity="0.5"/>
<rect x="859.24" y="353.2" width="1.2" height="32.5" fill="#93a6b8" opacity="0.5"/>
<rect x="879.68" y="353.2" width="1.2" height="32.5" fill="#93a6b8" opacity="0.5"/>
<rect x="900.12" y="353.2" width="1.2" height="32.5" fill="#93a6b8" opacity="0.5"/>
<rect x="920.56" y="353.2" width="1.2" height="32.5" fill="#93a6b8" opacity="0.5"/>
<rect x="941" y="353.2" width="1.2" height="32.5" fill="#93a6b8" opacity="0.5"/>
<rect x="961.44" y="353.2" width="1.2" height="32.5" fill="#93a6b8" opacity="0.5"/>
<rect x="981.88" y="353.2" width="1.2" height="32.5" fill="#93a6b8" opacity="0.5"/>
<rect x="1002.32" y="353.2" width="1.2" height="32.5" fill="#93a6b8" opacity="0.5"/>
<rect x="1022.76" y="353.2" width="1.2" height="32.5" fill="#93a6b8" opacity="0.5"/>
<rect x="1043.2" y="353.2" width="1.2" height="32.5" fill="#93a6b8" opacity="0.5"/>
<rect x="1063.64" y="353.2" width="1.2" height="32.5" fill="#93a6b8" opacity="0.5"/>
<rect x="1084.08" y="353.2" width="1.2" height="32.5" fill="#93a6b8" opacity="0.5"/>
<rect x="1104.52" y="353.2" width="1.2" height="32.5" fill="#93a6b8" opacity="0.5"/>
<rect x="1124.96" y="353.2" width="1.2" height="32.5" fill="#93a6b8" opacity="0.5"/>
<rect x="1145.4" y="353.2" width="1.2" height="32.5" fill="#93a6b8" opacity="0.5"/>
<rect x="1165.84" y="353.2" width="1.2" height="32.5" fill="#93a6b8" opacity="0.5"/>
<rect x="165.5" y="357" width="203" height="10.3" fill="#f0832f"/>
<rect x="431.5" y="357" width="224.9" height="10.3" fill="#f0832f"/>
<rect x="840.4" y="357" width="205.1" height="10.3" fill="#f0832f"/>
<rect x="840.4" y="371.5" width="244.5" height="11.7" fill="#ffffff"/>
<rect x="451.6" y="371.9" width="282.3" height="10.9" fill="#9fd4ee"/>
<path d="M452.1 371.9h2.85v10.9h-2.85zM457.79 371.9h2.85v10.9h-2.85zM463.47 371.9h2.85v10.9h-2.85zM469.16 371.9h2.85v10.9h-2.85zM474.85 371.9h2.85v10.9h-2.85zM480.53 371.9h2.85v10.9h-2.85zM486.22 371.9h2.85v10.9h-2.85zM491.91 371.9h2.85v10.9h-2.85zM497.59 371.9h2.85v10.9h-2.85zM503.28 371.9h2.85v10.9h-2.85zM508.97 371.9h2.85v10.9h-2.85zM514.65 371.9h2.85v10.9h-2.85zM520.34 371.9h2.85v10.9h-2.85zM526.03 371.9h2.85v10.9h-2.85zM531.71 371.9h2.85v10.9h-2.85zM537.4 371.9h2.85v10.9h-2.85zM543.09 371.9h2.85v10.9h-2.85zM548.77 371.9h2.85v10.9h-2.85zM554.46 371.9h2.85v10.9h-2.85zM560.15 371.9h2.85v10.9h-2.85zM565.83 371.9h2.85v10.9h-2.85zM571.52 371.9h2.85v10.9h-2.85zM577.21 371.9h2.85v10.9h-2.85zM582.89 371.9h2.85v10.9h-2.85zM588.58 371.9h2.85v10.9h-2.85zM594.27 371.9h2.85v10.9h-2.85zM599.96 371.9h2.85v10.9h-2.85zM605.64 371.9h2.85v10.9h-2.85zM611.33 371.9h2.85v10.9h-2.85zM617.02 371.9h2.85v10.9h-2.85zM622.7 371.9h2.85v10.9h-2.85zM628.39 371.9h2.85v10.9h-2.85zM634.08 371.9h2.85v10.9h-2.85zM639.76 371.9h2.85v10.9h-2.85zM645.45 371.9h2.85v10.9h-2.85zM651.14 371.9h2.85v10.9h-2.85zM656.82 371.9h2.85v10.9h-2.85zM662.51 371.9h2.85v10.9h-2.85zM668.2 371.9h2.85v10.9h-2.85zM673.88 371.9h2.85v10.9h-2.85zM679.57 371.9h2.85v10.9h-2.85zM685.26 371.9h2.85v10.9h-2.85zM690.94 371.9h2.85v10.9h-2.85zM696.63 371.9h2.85v10.9h-2.85zM702.32 371.9h2.85v10.9h-2.85zM708 371.9h2.85v10.9h-2.85zM713.69 371.9h2.85v10.9h-2.85zM719.38 371.9h2.85v10.9h-2.85zM725.06 371.9h2.85v10.9h-2.85zM730.75 371.9h2.85v10.9h-2.85z" fill="#1b5675"/>
<rect x="165.5" y="372.2" width="286.1" height="10" fill="#231f20"/>
<text x="24.7" y="379.6" font-size="25.5" fill="#fff">Bas</text>
<rect x="307.1" y="406.1" width="919" height="33.4" fill="#b4c9de"/>
<path d="M307.1 406.1 H26 Q19 406.1 19 413.1 V432.5 Q19 439.5 26 439.5 H307.1 Z" fill="#52a8c9"/>
<path d="M1226.1 406.1 H1452 Q1459 406.1 1459 413.1 V432.5 Q1459 439.5 1452 439.5 H1226.1 Z" fill="#52a8c9"/>
<rect x="41.64" y="406.1" width="1.2" height="33.4" fill="#4596b8"/>
<rect x="62.08" y="406.1" width="1.2" height="33.4" fill="#4596b8"/>
<rect x="82.52" y="406.1" width="1.2" height="33.4" fill="#4596b8"/>
<rect x="102.96" y="406.1" width="1.2" height="33.4" fill="#4596b8"/>
<rect x="123.4" y="406.1" width="1.2" height="33.4" fill="#4596b8"/>
<rect x="143.84" y="406.1" width="1.2" height="33.4" fill="#4596b8"/>
<rect x="164.28" y="406.1" width="1.2" height="33.4" fill="#4596b8"/>
<rect x="184.72" y="406.1" width="1.2" height="33.4" fill="#4596b8"/>
<rect x="205.16" y="406.1" width="1.2" height="33.4" fill="#4596b8"/>
<rect x="225.6" y="406.1" width="1.2" height="33.4" fill="#4596b8"/>
<rect x="246.04" y="406.1" width="1.2" height="33.4" fill="#4596b8"/>
<rect x="266.48" y="406.1" width="1.2" height="33.4" fill="#4596b8"/>
<rect x="286.92" y="406.1" width="1.2" height="33.4" fill="#4596b8"/>
<rect x="307.36" y="406.1" width="1.2" height="33.4" fill="#93aac2"/>
<rect x="327.8" y="406.1" width="1.2" height="33.4" fill="#93aac2"/>
<rect x="348.24" y="406.1" width="1.2" height="33.4" fill="#93aac2"/>
<rect x="368.68" y="406.1" width="1.2" height="33.4" fill="#93aac2"/>
<rect x="389.12" y="406.1" width="1.2" height="33.4" fill="#93aac2"/>
<rect x="409.56" y="406.1" width="1.2" height="33.4" fill="#93aac2"/>
<rect x="430" y="406.1" width="1.2" height="33.4" fill="#93aac2"/>
<rect x="450.44" y="406.1" width="1.2" height="33.4" fill="#93aac2"/>
<rect x="470.88" y="406.1" width="1.2" height="33.4" fill="#93aac2"/>
<rect x="491.32" y="406.1" width="1.2" height="33.4" fill="#93aac2"/>
<rect x="511.76" y="406.1" width="1.2" height="33.4" fill="#93aac2"/>
<rect x="532.2" y="406.1" width="1.2" height="33.4" fill="#93aac2"/>
<rect x="552.64" y="406.1" width="1.2" height="33.4" fill="#93aac2"/>
<rect x="573.08" y="406.1" width="1.2" height="33.4" fill="#93aac2"/>
<rect x="593.52" y="406.1" width="1.2" height="33.4" fill="#93aac2"/>
<rect x="613.96" y="406.1" width="1.2" height="33.4" fill="#93aac2"/>
<rect x="634.4" y="406.1" width="1.2" height="33.4" fill="#93aac2"/>
<rect x="654.84" y="406.1" width="1.2" height="33.4" fill="#93aac2"/>
<rect x="675.28" y="406.1" width="1.2" height="33.4" fill="#93aac2"/>
<rect x="695.72" y="406.1" width="1.2" height="33.4" fill="#93aac2"/>
<rect x="716.16" y="406.1" width="1.2" height="33.4" fill="#93aac2"/>
<rect x="736.6" y="406.1" width="1.2" height="33.4" fill="#93aac2"/>
<rect x="757.04" y="406.1" width="1.2" height="33.4" fill="#93aac2"/>
<rect x="777.48" y="406.1" width="1.2" height="33.4" fill="#93aac2"/>
<rect x="797.92" y="406.1" width="1.2" height="33.4" fill="#93aac2"/>
<rect x="818.36" y="406.1" width="1.2" height="33.4" fill="#93aac2"/>
<rect x="838.8" y="406.1" width="1.2" height="33.4" fill="#93aac2"/>
<rect x="859.24" y="406.1" width="1.2" height="33.4" fill="#93aac2"/>
<rect x="879.68" y="406.1" width="1.2" height="33.4" fill="#93aac2"/>
<rect x="900.12" y="406.1" width="1.2" height="33.4" fill="#93aac2"/>
<rect x="920.56" y="406.1" width="1.2" height="33.4" fill="#93aac2"/>
<rect x="941" y="406.1" width="1.2" height="33.4" fill="#93aac2"/>
<rect x="961.44" y="406.1" width="1.2" height="33.4" fill="#93aac2"/>
<rect x="981.88" y="406.1" width="1.2" height="33.4" fill="#93aac2"/>
<rect x="1002.32" y="406.1" width="1.2" height="33.4" fill="#93aac2"/>
<rect x="1022.76" y="406.1" width="1.2" height="33.4" fill="#93aac2"/>
<rect x="1043.2" y="406.1" width="1.2" height="33.4" fill="#93aac2"/>
<rect x="1063.64" y="406.1" width="1.2" height="33.4" fill="#93aac2"/>
<rect x="1084.08" y="406.1" width="1.2" height="33.4" fill="#93aac2"/>
<rect x="1104.52" y="406.1" width="1.2" height="33.4" fill="#93aac2"/>
<rect x="1124.96" y="406.1" width="1.2" height="33.4" fill="#93aac2"/>
<rect x="1145.4" y="406.1" width="1.2" height="33.4" fill="#93aac2"/>
<rect x="1165.84" y="406.1" width="1.2" height="33.4" fill="#93aac2"/>
<rect x="1186.28" y="406.1" width="1.2" height="33.4" fill="#93aac2"/>
<rect x="1206.72" y="406.1" width="1.2" height="33.4" fill="#93aac2"/>
<rect x="1227.16" y="406.1" width="1.2" height="33.4" fill="#4596b8"/>
<rect x="1247.6" y="406.1" width="1.2" height="33.4" fill="#4596b8"/>
<rect x="1268.04" y="406.1" width="1.2" height="33.4" fill="#4596b8"/>
<rect x="1288.48" y="406.1" width="1.2" height="33.4" fill="#4596b8"/>
<rect x="1308.92" y="406.1" width="1.2" height="33.4" fill="#4596b8"/>
<rect x="1329.36" y="406.1" width="1.2" height="33.4" fill="#4596b8"/>
<rect x="1349.8" y="406.1" width="1.2" height="33.4" fill="#4596b8"/>
<rect x="1370.24" y="406.1" width="1.2" height="33.4" fill="#4596b8"/>
<rect x="1390.68" y="406.1" width="1.2" height="33.4" fill="#4596b8"/>
<rect x="1411.12" y="406.1" width="1.2" height="33.4" fill="#4596b8"/>
<rect x="1431.56" y="406.1" width="1.2" height="33.4" fill="#4596b8"/>
<rect x="1452" y="406.1" width="1.2" height="33.4" fill="#4596b8"/>
<rect x="495.1" y="408.5" width="283.4" height="15.7" fill="#bdc5cf"/>
<rect x="839.6" y="408.5" width="246.4" height="15.7" fill="#bdc5cf"/>
<rect x="839.6" y="423.2" width="245.5" height="16.3" fill="#bdc5cf"/>
<rect x="539.7" y="425" width="258.4" height="14.5" fill="#bdc5cf"/>
<rect x="348.7" y="422.5" width="163.8" height="15.9" fill="#bdc5cf"/>
<rect x="307.36" y="406.1" width="1.2" height="33.4" fill="#93a6b8" opacity="0.5"/>
<rect x="327.8" y="406.1" width="1.2" height="33.4" fill="#93a6b8" opacity="0.5"/>
<rect x="348.24" y="406.1" width="1.2" height="33.4" fill="#93a6b8" opacity="0.5"/>
<rect x="368.68" y="406.1" width="1.2" height="33.4" fill="#93a6b8" opacity="0.5"/>
<rect x="389.12" y="406.1" width="1.2" height="33.4" fill="#93a6b8" opacity="0.5"/>
<rect x="409.56" y="406.1" width="1.2" height="33.4" fill="#93a6b8" opacity="0.5"/>
<rect x="430" y="406.1" width="1.2" height="33.4" fill="#93a6b8" opacity="0.5"/>
<rect x="450.44" y="406.1" width="1.2" height="33.4" fill="#93a6b8" opacity="0.5"/>
<rect x="470.88" y="406.1" width="1.2" height="33.4" fill="#93a6b8" opacity="0.5"/>
<rect x="491.32" y="406.1" width="1.2" height="33.4" fill="#93a6b8" opacity="0.5"/>
<rect x="511.76" y="406.1" width="1.2" height="33.4" fill="#93a6b8" opacity="0.5"/>
<rect x="532.2" y="406.1" width="1.2" height="33.4" fill="#93a6b8" opacity="0.5"/>
<rect x="552.64" y="406.1" width="1.2" height="33.4" fill="#93a6b8" opacity="0.5"/>
<rect x="573.08" y="406.1" width="1.2" height="33.4" fill="#93a6b8" opacity="0.5"/>
<rect x="593.52" y="406.1" width="1.2" height="33.4" fill="#93a6b8" opacity="0.5"/>
<rect x="613.96" y="406.1" width="1.2" height="33.4" fill="#93a6b8" opacity="0.5"/>
<rect x="634.4" y="406.1" width="1.2" height="33.4" fill="#93a6b8" opacity="0.5"/>
<rect x="654.84" y="406.1" width="1.2" height="33.4" fill="#93a6b8" opacity="0.5"/>
<rect x="675.28" y="406.1" width="1.2" height="33.4" fill="#93a6b8" opacity="0.5"/>
<rect x="695.72" y="406.1" width="1.2" height="33.4" fill="#93a6b8" opacity="0.5"/>
<rect x="716.16" y="406.1" width="1.2" height="33.4" fill="#93a6b8" opacity="0.5"/>
<rect x="736.6" y="406.1" width="1.2" height="33.4" fill="#93a6b8" opacity="0.5"/>
<rect x="757.04" y="406.1" width="1.2" height="33.4" fill="#93a6b8" opacity="0.5"/>
<rect x="777.48" y="406.1" width="1.2" height="33.4" fill="#93a6b8" opacity="0.5"/>
<rect x="797.92" y="406.1" width="1.2" height="33.4" fill="#93a6b8" opacity="0.5"/>
<rect x="818.36" y="406.1" width="1.2" height="33.4" fill="#93a6b8" opacity="0.5"/>
<rect x="838.8" y="406.1" width="1.2" height="33.4" fill="#93a6b8" opacity="0.5"/>
<rect x="859.24" y="406.1" width="1.2" height="33.4" fill="#93a6b8" opacity="0.5"/>
<rect x="879.68" y="406.1" width="1.2" height="33.4" fill="#93a6b8" opacity="0.5"/>
<rect x="900.12" y="406.1" width="1.2" height="33.4" fill="#93a6b8" opacity="0.5"/>
<rect x="920.56" y="406.1" width="1.2" height="33.4" fill="#93a6b8" opacity="0.5"/>
<rect x="941" y="406.1" width="1.2" height="33.4" fill="#93a6b8" opacity="0.5"/>
<rect x="961.44" y="406.1" width="1.2" height="33.4" fill="#93a6b8" opacity="0.5"/>
<rect x="981.88" y="406.1" width="1.2" height="33.4" fill="#93a6b8" opacity="0.5"/>
<rect x="1002.32" y="406.1" width="1.2" height="33.4" fill="#93a6b8" opacity="0.5"/>
<rect x="1022.76" y="406.1" width="1.2" height="33.4" fill="#93a6b8" opacity="0.5"/>
<rect x="1043.2" y="406.1" width="1.2" height="33.4" fill="#93a6b8" opacity="0.5"/>
<rect x="1063.64" y="406.1" width="1.2" height="33.4" fill="#93a6b8" opacity="0.5"/>
<rect x="1084.08" y="406.1" width="1.2" height="33.4" fill="#93a6b8" opacity="0.5"/>
<rect x="1104.52" y="406.1" width="1.2" height="33.4" fill="#93a6b8" opacity="0.5"/>
<rect x="1124.96" y="406.1" width="1.2" height="33.4" fill="#93a6b8" opacity="0.5"/>
<rect x="1145.4" y="406.1" width="1.2" height="33.4" fill="#93a6b8" opacity="0.5"/>
<rect x="1165.84" y="406.1" width="1.2" height="33.4" fill="#93a6b8" opacity="0.5"/>
<rect x="1186.28" y="406.1" width="1.2" height="33.4" fill="#93a6b8" opacity="0.5"/>
<rect x="1206.72" y="406.1" width="1.2" height="33.4" fill="#93a6b8" opacity="0.5"/>
<rect x="495.9" y="411.1" width="281.8" height="10.5" fill="#f0832f"/>
<rect x="840.4" y="411.1" width="244.8" height="10.5" fill="#f0832f"/>
<rect x="840.4" y="425.8" width="243.9" height="11.3" fill="#ffffff"/>
<rect x="540.5" y="427.6" width="256.8" height="11.2" fill="#9fd4ee"/>
<path d="M541 427.6h2.85v11.2h-2.85zM546.75 427.6h2.85v11.2h-2.85zM552.51 427.6h2.85v11.2h-2.85zM558.26 427.6h2.85v11.2h-2.85zM564.01 427.6h2.85v11.2h-2.85zM569.77 427.6h2.85v11.2h-2.85zM575.52 427.6h2.85v11.2h-2.85zM581.27 427.6h2.85v11.2h-2.85zM587.03 427.6h2.85v11.2h-2.85zM592.78 427.6h2.85v11.2h-2.85zM598.53 427.6h2.85v11.2h-2.85zM604.29 427.6h2.85v11.2h-2.85zM610.04 427.6h2.85v11.2h-2.85zM615.79 427.6h2.85v11.2h-2.85zM621.55 427.6h2.85v11.2h-2.85zM627.3 427.6h2.85v11.2h-2.85zM633.05 427.6h2.85v11.2h-2.85zM638.81 427.6h2.85v11.2h-2.85zM644.56 427.6h2.85v11.2h-2.85zM650.31 427.6h2.85v11.2h-2.85zM656.07 427.6h2.85v11.2h-2.85zM661.82 427.6h2.85v11.2h-2.85zM667.58 427.6h2.85v11.2h-2.85zM673.33 427.6h2.85v11.2h-2.85zM679.08 427.6h2.85v11.2h-2.85zM684.84 427.6h2.85v11.2h-2.85zM690.59 427.6h2.85v11.2h-2.85zM696.34 427.6h2.85v11.2h-2.85zM702.1 427.6h2.85v11.2h-2.85zM707.85 427.6h2.85v11.2h-2.85zM713.6 427.6h2.85v11.2h-2.85zM719.36 427.6h2.85v11.2h-2.85zM725.11 427.6h2.85v11.2h-2.85zM730.86 427.6h2.85v11.2h-2.85zM736.62 427.6h2.85v11.2h-2.85zM742.37 427.6h2.85v11.2h-2.85zM748.12 427.6h2.85v11.2h-2.85zM753.88 427.6h2.85v11.2h-2.85zM759.63 427.6h2.85v11.2h-2.85zM765.38 427.6h2.85v11.2h-2.85zM771.14 427.6h2.85v11.2h-2.85zM776.89 427.6h2.85v11.2h-2.85zM782.64 427.6h2.85v11.2h-2.85zM788.4 427.6h2.85v11.2h-2.85zM794.15 427.6h2.85v11.2h-2.85z" fill="#1b5675"/>
<rect x="349.5" y="425.1" width="162.2" height="10.7" fill="#231f20"/>
<text x="24.9" y="433.4" font-size="25.5" fill="#fff">Elgitarr</text>
<rect x="306.3" y="459.4" width="1064" height="33.4" fill="#b4c9de"/>
<path d="M306.3 459.4 H26 Q19 459.4 19 466.4 V485.8 Q19 492.8 26 492.8 H306.3 Z" fill="#52a8c9"/>
<path d="M1370.3 459.4 H1452 Q1459 459.4 1459 466.4 V485.8 Q1459 492.8 1452 492.8 H1370.3 Z" fill="#52a8c9"/>
<rect x="41.64" y="459.4" width="1.2" height="33.4" fill="#4596b8"/>
<rect x="62.08" y="459.4" width="1.2" height="33.4" fill="#4596b8"/>
<rect x="82.52" y="459.4" width="1.2" height="33.4" fill="#4596b8"/>
<rect x="102.96" y="459.4" width="1.2" height="33.4" fill="#4596b8"/>
<rect x="123.4" y="459.4" width="1.2" height="33.4" fill="#4596b8"/>
<rect x="143.84" y="459.4" width="1.2" height="33.4" fill="#4596b8"/>
<rect x="164.28" y="459.4" width="1.2" height="33.4" fill="#4596b8"/>
<rect x="184.72" y="459.4" width="1.2" height="33.4" fill="#4596b8"/>
<rect x="205.16" y="459.4" width="1.2" height="33.4" fill="#4596b8"/>
<rect x="225.6" y="459.4" width="1.2" height="33.4" fill="#4596b8"/>
<rect x="246.04" y="459.4" width="1.2" height="33.4" fill="#4596b8"/>
<rect x="266.48" y="459.4" width="1.2" height="33.4" fill="#4596b8"/>
<rect x="286.92" y="459.4" width="1.2" height="33.4" fill="#4596b8"/>
<rect x="307.36" y="459.4" width="1.2" height="33.4" fill="#93aac2"/>
<rect x="327.8" y="459.4" width="1.2" height="33.4" fill="#93aac2"/>
<rect x="348.24" y="459.4" width="1.2" height="33.4" fill="#93aac2"/>
<rect x="368.68" y="459.4" width="1.2" height="33.4" fill="#93aac2"/>
<rect x="389.12" y="459.4" width="1.2" height="33.4" fill="#93aac2"/>
<rect x="409.56" y="459.4" width="1.2" height="33.4" fill="#93aac2"/>
<rect x="430" y="459.4" width="1.2" height="33.4" fill="#93aac2"/>
<rect x="450.44" y="459.4" width="1.2" height="33.4" fill="#93aac2"/>
<rect x="470.88" y="459.4" width="1.2" height="33.4" fill="#93aac2"/>
<rect x="491.32" y="459.4" width="1.2" height="33.4" fill="#93aac2"/>
<rect x="511.76" y="459.4" width="1.2" height="33.4" fill="#93aac2"/>
<rect x="532.2" y="459.4" width="1.2" height="33.4" fill="#93aac2"/>
<rect x="552.64" y="459.4" width="1.2" height="33.4" fill="#93aac2"/>
<rect x="573.08" y="459.4" width="1.2" height="33.4" fill="#93aac2"/>
<rect x="593.52" y="459.4" width="1.2" height="33.4" fill="#93aac2"/>
<rect x="613.96" y="459.4" width="1.2" height="33.4" fill="#93aac2"/>
<rect x="634.4" y="459.4" width="1.2" height="33.4" fill="#93aac2"/>
<rect x="654.84" y="459.4" width="1.2" height="33.4" fill="#93aac2"/>
<rect x="675.28" y="459.4" width="1.2" height="33.4" fill="#93aac2"/>
<rect x="695.72" y="459.4" width="1.2" height="33.4" fill="#93aac2"/>
<rect x="716.16" y="459.4" width="1.2" height="33.4" fill="#93aac2"/>
<rect x="736.6" y="459.4" width="1.2" height="33.4" fill="#93aac2"/>
<rect x="757.04" y="459.4" width="1.2" height="33.4" fill="#93aac2"/>
<rect x="777.48" y="459.4" width="1.2" height="33.4" fill="#93aac2"/>
<rect x="797.92" y="459.4" width="1.2" height="33.4" fill="#93aac2"/>
<rect x="818.36" y="459.4" width="1.2" height="33.4" fill="#93aac2"/>
<rect x="838.8" y="459.4" width="1.2" height="33.4" fill="#93aac2"/>
<rect x="859.24" y="459.4" width="1.2" height="33.4" fill="#93aac2"/>
<rect x="879.68" y="459.4" width="1.2" height="33.4" fill="#93aac2"/>
<rect x="900.12" y="459.4" width="1.2" height="33.4" fill="#93aac2"/>
<rect x="920.56" y="459.4" width="1.2" height="33.4" fill="#93aac2"/>
<rect x="941" y="459.4" width="1.2" height="33.4" fill="#93aac2"/>
<rect x="961.44" y="459.4" width="1.2" height="33.4" fill="#93aac2"/>
<rect x="981.88" y="459.4" width="1.2" height="33.4" fill="#93aac2"/>
<rect x="1002.32" y="459.4" width="1.2" height="33.4" fill="#93aac2"/>
<rect x="1022.76" y="459.4" width="1.2" height="33.4" fill="#93aac2"/>
<rect x="1043.2" y="459.4" width="1.2" height="33.4" fill="#93aac2"/>
<rect x="1063.64" y="459.4" width="1.2" height="33.4" fill="#93aac2"/>
<rect x="1084.08" y="459.4" width="1.2" height="33.4" fill="#93aac2"/>
<rect x="1104.52" y="459.4" width="1.2" height="33.4" fill="#93aac2"/>
<rect x="1124.96" y="459.4" width="1.2" height="33.4" fill="#93aac2"/>
<rect x="1145.4" y="459.4" width="1.2" height="33.4" fill="#93aac2"/>
<rect x="1165.84" y="459.4" width="1.2" height="33.4" fill="#93aac2"/>
<rect x="1186.28" y="459.4" width="1.2" height="33.4" fill="#93aac2"/>
<rect x="1206.72" y="459.4" width="1.2" height="33.4" fill="#93aac2"/>
<rect x="1227.16" y="459.4" width="1.2" height="33.4" fill="#93aac2"/>
<rect x="1247.6" y="459.4" width="1.2" height="33.4" fill="#93aac2"/>
<rect x="1268.04" y="459.4" width="1.2" height="33.4" fill="#93aac2"/>
<rect x="1288.48" y="459.4" width="1.2" height="33.4" fill="#93aac2"/>
<rect x="1308.92" y="459.4" width="1.2" height="33.4" fill="#93aac2"/>
<rect x="1329.36" y="459.4" width="1.2" height="33.4" fill="#93aac2"/>
<rect x="1349.8" y="459.4" width="1.2" height="33.4" fill="#93aac2"/>
<rect x="1370.24" y="459.4" width="1.2" height="33.4" fill="#4596b8"/>
<rect x="1390.68" y="459.4" width="1.2" height="33.4" fill="#4596b8"/>
<rect x="1411.12" y="459.4" width="1.2" height="33.4" fill="#4596b8"/>
<rect x="1431.56" y="459.4" width="1.2" height="33.4" fill="#4596b8"/>
<rect x="1452" y="459.4" width="1.2" height="33.4" fill="#4596b8"/>
<rect x="429.9" y="461.4" width="162.8" height="15.7" fill="#bdc5cf"/>
<rect x="718" y="461.4" width="224.2" height="15.7" fill="#bdc5cf"/>
<rect x="1065.2" y="461.4" width="184.8" height="15.7" fill="#bdc5cf"/>
<rect x="839.1" y="475.4" width="410" height="16.8" fill="#bdc5cf"/>
<rect x="441.5" y="475.9" width="296.9" height="16.3" fill="#bdc5cf"/>
<rect x="305.5" y="476.1" width="137.6" height="15.7" fill="#bdc5cf"/>
<rect x="307.36" y="459.4" width="1.2" height="33.4" fill="#93a6b8" opacity="0.5"/>
<rect x="327.8" y="459.4" width="1.2" height="33.4" fill="#93a6b8" opacity="0.5"/>
<rect x="348.24" y="459.4" width="1.2" height="33.4" fill="#93a6b8" opacity="0.5"/>
<rect x="368.68" y="459.4" width="1.2" height="33.4" fill="#93a6b8" opacity="0.5"/>
<rect x="389.12" y="459.4" width="1.2" height="33.4" fill="#93a6b8" opacity="0.5"/>
<rect x="409.56" y="459.4" width="1.2" height="33.4" fill="#93a6b8" opacity="0.5"/>
<rect x="430" y="459.4" width="1.2" height="33.4" fill="#93a6b8" opacity="0.5"/>
<rect x="450.44" y="459.4" width="1.2" height="33.4" fill="#93a6b8" opacity="0.5"/>
<rect x="470.88" y="459.4" width="1.2" height="33.4" fill="#93a6b8" opacity="0.5"/>
<rect x="491.32" y="459.4" width="1.2" height="33.4" fill="#93a6b8" opacity="0.5"/>
<rect x="511.76" y="459.4" width="1.2" height="33.4" fill="#93a6b8" opacity="0.5"/>
<rect x="532.2" y="459.4" width="1.2" height="33.4" fill="#93a6b8" opacity="0.5"/>
<rect x="552.64" y="459.4" width="1.2" height="33.4" fill="#93a6b8" opacity="0.5"/>
<rect x="573.08" y="459.4" width="1.2" height="33.4" fill="#93a6b8" opacity="0.5"/>
<rect x="593.52" y="459.4" width="1.2" height="33.4" fill="#93a6b8" opacity="0.5"/>
<rect x="613.96" y="459.4" width="1.2" height="33.4" fill="#93a6b8" opacity="0.5"/>
<rect x="634.4" y="459.4" width="1.2" height="33.4" fill="#93a6b8" opacity="0.5"/>
<rect x="654.84" y="459.4" width="1.2" height="33.4" fill="#93a6b8" opacity="0.5"/>
<rect x="675.28" y="459.4" width="1.2" height="33.4" fill="#93a6b8" opacity="0.5"/>
<rect x="695.72" y="459.4" width="1.2" height="33.4" fill="#93a6b8" opacity="0.5"/>
<rect x="716.16" y="459.4" width="1.2" height="33.4" fill="#93a6b8" opacity="0.5"/>
<rect x="736.6" y="459.4" width="1.2" height="33.4" fill="#93a6b8" opacity="0.5"/>
<rect x="757.04" y="459.4" width="1.2" height="33.4" fill="#93a6b8" opacity="0.5"/>
<rect x="777.48" y="459.4" width="1.2" height="33.4" fill="#93a6b8" opacity="0.5"/>
<rect x="797.92" y="459.4" width="1.2" height="33.4" fill="#93a6b8" opacity="0.5"/>
<rect x="818.36" y="459.4" width="1.2" height="33.4" fill="#93a6b8" opacity="0.5"/>
<rect x="838.8" y="459.4" width="1.2" height="33.4" fill="#93a6b8" opacity="0.5"/>
<rect x="859.24" y="459.4" width="1.2" height="33.4" fill="#93a6b8" opacity="0.5"/>
<rect x="879.68" y="459.4" width="1.2" height="33.4" fill="#93a6b8" opacity="0.5"/>
<rect x="900.12" y="459.4" width="1.2" height="33.4" fill="#93a6b8" opacity="0.5"/>
<rect x="920.56" y="459.4" width="1.2" height="33.4" fill="#93a6b8" opacity="0.5"/>
<rect x="941" y="459.4" width="1.2" height="33.4" fill="#93a6b8" opacity="0.5"/>
<rect x="961.44" y="459.4" width="1.2" height="33.4" fill="#93a6b8" opacity="0.5"/>
<rect x="981.88" y="459.4" width="1.2" height="33.4" fill="#93a6b8" opacity="0.5"/>
<rect x="1002.32" y="459.4" width="1.2" height="33.4" fill="#93a6b8" opacity="0.5"/>
<rect x="1022.76" y="459.4" width="1.2" height="33.4" fill="#93a6b8" opacity="0.5"/>
<rect x="1043.2" y="459.4" width="1.2" height="33.4" fill="#93a6b8" opacity="0.5"/>
<rect x="1063.64" y="459.4" width="1.2" height="33.4" fill="#93a6b8" opacity="0.5"/>
<rect x="1084.08" y="459.4" width="1.2" height="33.4" fill="#93a6b8" opacity="0.5"/>
<rect x="1104.52" y="459.4" width="1.2" height="33.4" fill="#93a6b8" opacity="0.5"/>
<rect x="1124.96" y="459.4" width="1.2" height="33.4" fill="#93a6b8" opacity="0.5"/>
<rect x="1145.4" y="459.4" width="1.2" height="33.4" fill="#93a6b8" opacity="0.5"/>
<rect x="1165.84" y="459.4" width="1.2" height="33.4" fill="#93a6b8" opacity="0.5"/>
<rect x="1186.28" y="459.4" width="1.2" height="33.4" fill="#93a6b8" opacity="0.5"/>
<rect x="1206.72" y="459.4" width="1.2" height="33.4" fill="#93a6b8" opacity="0.5"/>
<rect x="1227.16" y="459.4" width="1.2" height="33.4" fill="#93a6b8" opacity="0.5"/>
<rect x="1247.6" y="459.4" width="1.2" height="33.4" fill="#93a6b8" opacity="0.5"/>
<rect x="1268.04" y="459.4" width="1.2" height="33.4" fill="#93a6b8" opacity="0.5"/>
<rect x="1288.48" y="459.4" width="1.2" height="33.4" fill="#93a6b8" opacity="0.5"/>
<rect x="1308.92" y="459.4" width="1.2" height="33.4" fill="#93a6b8" opacity="0.5"/>
<rect x="1329.36" y="459.4" width="1.2" height="33.4" fill="#93a6b8" opacity="0.5"/>
<rect x="1349.8" y="459.4" width="1.2" height="33.4" fill="#93a6b8" opacity="0.5"/>
<rect x="430.7" y="464" width="161.2" height="10.5" fill="#f0832f"/>
<rect x="718.8" y="464" width="222.6" height="10.5" fill="#f0832f"/>
<rect x="1066" y="464" width="183.2" height="10.5" fill="#f0832f"/>
<rect x="839.9" y="478" width="408.4" height="11.6" fill="#ffffff"/>
<rect x="442.3" y="478.5" width="295.3" height="11.1" fill="#9fd4ee"/>
<path d="M442.8 478.5h2.85v11.1h-2.85zM448.52 478.5h2.85v11.1h-2.85zM454.24 478.5h2.85v11.1h-2.85zM459.96 478.5h2.85v11.1h-2.85zM465.67 478.5h2.85v11.1h-2.85zM471.39 478.5h2.85v11.1h-2.85zM477.11 478.5h2.85v11.1h-2.85zM482.83 478.5h2.85v11.1h-2.85zM488.55 478.5h2.85v11.1h-2.85zM494.27 478.5h2.85v11.1h-2.85zM499.99 478.5h2.85v11.1h-2.85zM505.7 478.5h2.85v11.1h-2.85zM511.42 478.5h2.85v11.1h-2.85zM517.14 478.5h2.85v11.1h-2.85zM522.86 478.5h2.85v11.1h-2.85zM528.58 478.5h2.85v11.1h-2.85zM534.3 478.5h2.85v11.1h-2.85zM540.02 478.5h2.85v11.1h-2.85zM545.74 478.5h2.85v11.1h-2.85zM551.45 478.5h2.85v11.1h-2.85zM557.17 478.5h2.85v11.1h-2.85zM562.89 478.5h2.85v11.1h-2.85zM568.61 478.5h2.85v11.1h-2.85zM574.33 478.5h2.85v11.1h-2.85zM580.05 478.5h2.85v11.1h-2.85zM585.77 478.5h2.85v11.1h-2.85zM591.48 478.5h2.85v11.1h-2.85zM597.2 478.5h2.85v11.1h-2.85zM602.92 478.5h2.85v11.1h-2.85zM608.64 478.5h2.85v11.1h-2.85zM614.36 478.5h2.85v11.1h-2.85zM620.08 478.5h2.85v11.1h-2.85zM625.8 478.5h2.85v11.1h-2.85zM631.51 478.5h2.85v11.1h-2.85zM637.23 478.5h2.85v11.1h-2.85zM642.95 478.5h2.85v11.1h-2.85zM648.67 478.5h2.85v11.1h-2.85zM654.39 478.5h2.85v11.1h-2.85zM660.11 478.5h2.85v11.1h-2.85zM665.83 478.5h2.85v11.1h-2.85zM671.55 478.5h2.85v11.1h-2.85zM677.26 478.5h2.85v11.1h-2.85zM682.98 478.5h2.85v11.1h-2.85zM688.7 478.5h2.85v11.1h-2.85zM694.42 478.5h2.85v11.1h-2.85zM700.14 478.5h2.85v11.1h-2.85zM705.86 478.5h2.85v11.1h-2.85zM711.58 478.5h2.85v11.1h-2.85zM717.29 478.5h2.85v11.1h-2.85zM723.01 478.5h2.85v11.1h-2.85zM728.73 478.5h2.85v11.1h-2.85zM734.45 478.5h2.85v11.1h-2.85z" fill="#1b5675"/>
<rect x="306.3" y="478.7" width="136" height="10.5" fill="#231f20"/>
<text x="25.8" y="486.6" font-size="25.5" fill="#fff">Ak git</text>
<rect x="359.6" y="513.1" width="972.3" height="33.4" fill="#b4c9de"/>
<path d="M359.6 513.1 H26 Q19 513.1 19 520.1 V539.5 Q19 546.5 26 546.5 H359.6 Z" fill="#52a8c9"/>
<path d="M1331.9 513.1 H1452 Q1459 513.1 1459 520.1 V539.5 Q1459 546.5 1452 546.5 H1331.9 Z" fill="#52a8c9"/>
<rect x="41.64" y="513.1" width="1.2" height="33.4" fill="#4596b8"/>
<rect x="62.08" y="513.1" width="1.2" height="33.4" fill="#4596b8"/>
<rect x="82.52" y="513.1" width="1.2" height="33.4" fill="#4596b8"/>
<rect x="102.96" y="513.1" width="1.2" height="33.4" fill="#4596b8"/>
<rect x="123.4" y="513.1" width="1.2" height="33.4" fill="#4596b8"/>
<rect x="143.84" y="513.1" width="1.2" height="33.4" fill="#4596b8"/>
<rect x="164.28" y="513.1" width="1.2" height="33.4" fill="#4596b8"/>
<rect x="184.72" y="513.1" width="1.2" height="33.4" fill="#4596b8"/>
<rect x="205.16" y="513.1" width="1.2" height="33.4" fill="#4596b8"/>
<rect x="225.6" y="513.1" width="1.2" height="33.4" fill="#4596b8"/>
<rect x="246.04" y="513.1" width="1.2" height="33.4" fill="#4596b8"/>
<rect x="266.48" y="513.1" width="1.2" height="33.4" fill="#4596b8"/>
<rect x="286.92" y="513.1" width="1.2" height="33.4" fill="#4596b8"/>
<rect x="307.36" y="513.1" width="1.2" height="33.4" fill="#4596b8"/>
<rect x="327.8" y="513.1" width="1.2" height="33.4" fill="#4596b8"/>
<rect x="348.24" y="513.1" width="1.2" height="33.4" fill="#4596b8"/>
<rect x="368.68" y="513.1" width="1.2" height="33.4" fill="#93aac2"/>
<rect x="389.12" y="513.1" width="1.2" height="33.4" fill="#93aac2"/>
<rect x="409.56" y="513.1" width="1.2" height="33.4" fill="#93aac2"/>
<rect x="430" y="513.1" width="1.2" height="33.4" fill="#93aac2"/>
<rect x="450.44" y="513.1" width="1.2" height="33.4" fill="#93aac2"/>
<rect x="470.88" y="513.1" width="1.2" height="33.4" fill="#93aac2"/>
<rect x="491.32" y="513.1" width="1.2" height="33.4" fill="#93aac2"/>
<rect x="511.76" y="513.1" width="1.2" height="33.4" fill="#93aac2"/>
<rect x="532.2" y="513.1" width="1.2" height="33.4" fill="#93aac2"/>
<rect x="552.64" y="513.1" width="1.2" height="33.4" fill="#93aac2"/>
<rect x="573.08" y="513.1" width="1.2" height="33.4" fill="#93aac2"/>
<rect x="593.52" y="513.1" width="1.2" height="33.4" fill="#93aac2"/>
<rect x="613.96" y="513.1" width="1.2" height="33.4" fill="#93aac2"/>
<rect x="634.4" y="513.1" width="1.2" height="33.4" fill="#93aac2"/>
<rect x="654.84" y="513.1" width="1.2" height="33.4" fill="#93aac2"/>
<rect x="675.28" y="513.1" width="1.2" height="33.4" fill="#93aac2"/>
<rect x="695.72" y="513.1" width="1.2" height="33.4" fill="#93aac2"/>
<rect x="716.16" y="513.1" width="1.2" height="33.4" fill="#93aac2"/>
<rect x="736.6" y="513.1" width="1.2" height="33.4" fill="#93aac2"/>
<rect x="757.04" y="513.1" width="1.2" height="33.4" fill="#93aac2"/>
<rect x="777.48" y="513.1" width="1.2" height="33.4" fill="#93aac2"/>
<rect x="797.92" y="513.1" width="1.2" height="33.4" fill="#93aac2"/>
<rect x="818.36" y="513.1" width="1.2" height="33.4" fill="#93aac2"/>
<rect x="838.8" y="513.1" width="1.2" height="33.4" fill="#93aac2"/>
<rect x="859.24" y="513.1" width="1.2" height="33.4" fill="#93aac2"/>
<rect x="879.68" y="513.1" width="1.2" height="33.4" fill="#93aac2"/>
<rect x="900.12" y="513.1" width="1.2" height="33.4" fill="#93aac2"/>
<rect x="920.56" y="513.1" width="1.2" height="33.4" fill="#93aac2"/>
<rect x="941" y="513.1" width="1.2" height="33.4" fill="#93aac2"/>
<rect x="961.44" y="513.1" width="1.2" height="33.4" fill="#93aac2"/>
<rect x="981.88" y="513.1" width="1.2" height="33.4" fill="#93aac2"/>
<rect x="1002.32" y="513.1" width="1.2" height="33.4" fill="#93aac2"/>
<rect x="1022.76" y="513.1" width="1.2" height="33.4" fill="#93aac2"/>
<rect x="1043.2" y="513.1" width="1.2" height="33.4" fill="#93aac2"/>
<rect x="1063.64" y="513.1" width="1.2" height="33.4" fill="#93aac2"/>
<rect x="1084.08" y="513.1" width="1.2" height="33.4" fill="#93aac2"/>
<rect x="1104.52" y="513.1" width="1.2" height="33.4" fill="#93aac2"/>
<rect x="1124.96" y="513.1" width="1.2" height="33.4" fill="#93aac2"/>
<rect x="1145.4" y="513.1" width="1.2" height="33.4" fill="#93aac2"/>
<rect x="1165.84" y="513.1" width="1.2" height="33.4" fill="#93aac2"/>
<rect x="1186.28" y="513.1" width="1.2" height="33.4" fill="#93aac2"/>
<rect x="1206.72" y="513.1" width="1.2" height="33.4" fill="#93aac2"/>
<rect x="1227.16" y="513.1" width="1.2" height="33.4" fill="#93aac2"/>
<rect x="1247.6" y="513.1" width="1.2" height="33.4" fill="#93aac2"/>
<rect x="1268.04" y="513.1" width="1.2" height="33.4" fill="#93aac2"/>
<rect x="1288.48" y="513.1" width="1.2" height="33.4" fill="#93aac2"/>
<rect x="1308.92" y="513.1" width="1.2" height="33.4" fill="#93aac2"/>
<rect x="1329.36" y="513.1" width="1.2" height="33.4" fill="#93aac2"/>
<rect x="1349.8" y="513.1" width="1.2" height="33.4" fill="#4596b8"/>
<rect x="1370.24" y="513.1" width="1.2" height="33.4" fill="#4596b8"/>
<rect x="1390.68" y="513.1" width="1.2" height="33.4" fill="#4596b8"/>
<rect x="1411.12" y="513.1" width="1.2" height="33.4" fill="#4596b8"/>
<rect x="1431.56" y="513.1" width="1.2" height="33.4" fill="#4596b8"/>
<rect x="1452" y="513.1" width="1.2" height="33.4" fill="#4596b8"/>
<rect x="490.1" y="516.1" width="166.6" height="16.1" fill="#bdc5cf"/>
<rect x="777.4" y="516.1" width="226.3" height="16.1" fill="#bdc5cf"/>
<rect x="1103.6" y="516.1" width="147.8" height="16.1" fill="#bdc5cf"/>
<rect x="919.3" y="530.5" width="310.6" height="16" fill="#bdc5cf"/>
<rect x="715.5" y="529.2" width="145" height="16.5" fill="#bdc5cf"/>
<rect x="396.9" y="529.5" width="197.6" height="15.7" fill="#bdc5cf"/>
<rect x="368.68" y="513.1" width="1.2" height="33.4" fill="#93a6b8" opacity="0.5"/>
<rect x="389.12" y="513.1" width="1.2" height="33.4" fill="#93a6b8" opacity="0.5"/>
<rect x="409.56" y="513.1" width="1.2" height="33.4" fill="#93a6b8" opacity="0.5"/>
<rect x="430" y="513.1" width="1.2" height="33.4" fill="#93a6b8" opacity="0.5"/>
<rect x="450.44" y="513.1" width="1.2" height="33.4" fill="#93a6b8" opacity="0.5"/>
<rect x="470.88" y="513.1" width="1.2" height="33.4" fill="#93a6b8" opacity="0.5"/>
<rect x="491.32" y="513.1" width="1.2" height="33.4" fill="#93a6b8" opacity="0.5"/>
<rect x="511.76" y="513.1" width="1.2" height="33.4" fill="#93a6b8" opacity="0.5"/>
<rect x="532.2" y="513.1" width="1.2" height="33.4" fill="#93a6b8" opacity="0.5"/>
<rect x="552.64" y="513.1" width="1.2" height="33.4" fill="#93a6b8" opacity="0.5"/>
<rect x="573.08" y="513.1" width="1.2" height="33.4" fill="#93a6b8" opacity="0.5"/>
<rect x="593.52" y="513.1" width="1.2" height="33.4" fill="#93a6b8" opacity="0.5"/>
<rect x="613.96" y="513.1" width="1.2" height="33.4" fill="#93a6b8" opacity="0.5"/>
<rect x="634.4" y="513.1" width="1.2" height="33.4" fill="#93a6b8" opacity="0.5"/>
<rect x="654.84" y="513.1" width="1.2" height="33.4" fill="#93a6b8" opacity="0.5"/>
<rect x="675.28" y="513.1" width="1.2" height="33.4" fill="#93a6b8" opacity="0.5"/>
<rect x="695.72" y="513.1" width="1.2" height="33.4" fill="#93a6b8" opacity="0.5"/>
<rect x="716.16" y="513.1" width="1.2" height="33.4" fill="#93a6b8" opacity="0.5"/>
<rect x="736.6" y="513.1" width="1.2" height="33.4" fill="#93a6b8" opacity="0.5"/>
<rect x="757.04" y="513.1" width="1.2" height="33.4" fill="#93a6b8" opacity="0.5"/>
<rect x="777.48" y="513.1" width="1.2" height="33.4" fill="#93a6b8" opacity="0.5"/>
<rect x="797.92" y="513.1" width="1.2" height="33.4" fill="#93a6b8" opacity="0.5"/>
<rect x="818.36" y="513.1" width="1.2" height="33.4" fill="#93a6b8" opacity="0.5"/>
<rect x="838.8" y="513.1" width="1.2" height="33.4" fill="#93a6b8" opacity="0.5"/>
<rect x="859.24" y="513.1" width="1.2" height="33.4" fill="#93a6b8" opacity="0.5"/>
<rect x="879.68" y="513.1" width="1.2" height="33.4" fill="#93a6b8" opacity="0.5"/>
<rect x="900.12" y="513.1" width="1.2" height="33.4" fill="#93a6b8" opacity="0.5"/>
<rect x="920.56" y="513.1" width="1.2" height="33.4" fill="#93a6b8" opacity="0.5"/>
<rect x="941" y="513.1" width="1.2" height="33.4" fill="#93a6b8" opacity="0.5"/>
<rect x="961.44" y="513.1" width="1.2" height="33.4" fill="#93a6b8" opacity="0.5"/>
<rect x="981.88" y="513.1" width="1.2" height="33.4" fill="#93a6b8" opacity="0.5"/>
<rect x="1002.32" y="513.1" width="1.2" height="33.4" fill="#93a6b8" opacity="0.5"/>
<rect x="1022.76" y="513.1" width="1.2" height="33.4" fill="#93a6b8" opacity="0.5"/>
<rect x="1043.2" y="513.1" width="1.2" height="33.4" fill="#93a6b8" opacity="0.5"/>
<rect x="1063.64" y="513.1" width="1.2" height="33.4" fill="#93a6b8" opacity="0.5"/>
<rect x="1084.08" y="513.1" width="1.2" height="33.4" fill="#93a6b8" opacity="0.5"/>
<rect x="1104.52" y="513.1" width="1.2" height="33.4" fill="#93a6b8" opacity="0.5"/>
<rect x="1124.96" y="513.1" width="1.2" height="33.4" fill="#93a6b8" opacity="0.5"/>
<rect x="1145.4" y="513.1" width="1.2" height="33.4" fill="#93a6b8" opacity="0.5"/>
<rect x="1165.84" y="513.1" width="1.2" height="33.4" fill="#93a6b8" opacity="0.5"/>
<rect x="1186.28" y="513.1" width="1.2" height="33.4" fill="#93a6b8" opacity="0.5"/>
<rect x="1206.72" y="513.1" width="1.2" height="33.4" fill="#93a6b8" opacity="0.5"/>
<rect x="1227.16" y="513.1" width="1.2" height="33.4" fill="#93a6b8" opacity="0.5"/>
<rect x="1247.6" y="513.1" width="1.2" height="33.4" fill="#93a6b8" opacity="0.5"/>
<rect x="1268.04" y="513.1" width="1.2" height="33.4" fill="#93a6b8" opacity="0.5"/>
<rect x="1288.48" y="513.1" width="1.2" height="33.4" fill="#93a6b8" opacity="0.5"/>
<rect x="1308.92" y="513.1" width="1.2" height="33.4" fill="#93a6b8" opacity="0.5"/>
<rect x="1329.36" y="513.1" width="1.2" height="33.4" fill="#93a6b8" opacity="0.5"/>
<rect x="490.9" y="518.7" width="165" height="10.9" fill="#f0832f"/>
<rect x="778.2" y="518.7" width="224.7" height="10.9" fill="#f0832f"/>
<rect x="1104.4" y="518.7" width="146.2" height="10.9" fill="#f0832f"/>
<rect x="920.1" y="533.1" width="309" height="11.8" fill="#ffffff"/>
<rect x="716.3" y="531.8" width="143.4" height="11.3" fill="#9fd4ee"/>
<path d="M716.8 531.8h2.85v11.3h-2.85zM722.39 531.8h2.85v11.3h-2.85zM727.98 531.8h2.85v11.3h-2.85zM733.57 531.8h2.85v11.3h-2.85zM739.16 531.8h2.85v11.3h-2.85zM744.75 531.8h2.85v11.3h-2.85zM750.34 531.8h2.85v11.3h-2.85zM755.93 531.8h2.85v11.3h-2.85zM761.52 531.8h2.85v11.3h-2.85zM767.11 531.8h2.85v11.3h-2.85zM772.7 531.8h2.85v11.3h-2.85zM778.29 531.8h2.85v11.3h-2.85zM783.88 531.8h2.85v11.3h-2.85zM789.47 531.8h2.85v11.3h-2.85zM795.06 531.8h2.85v11.3h-2.85zM800.65 531.8h2.85v11.3h-2.85zM806.24 531.8h2.85v11.3h-2.85zM811.83 531.8h2.85v11.3h-2.85zM817.42 531.8h2.85v11.3h-2.85zM823.01 531.8h2.85v11.3h-2.85zM828.6 531.8h2.85v11.3h-2.85zM834.19 531.8h2.85v11.3h-2.85zM839.78 531.8h2.85v11.3h-2.85zM845.37 531.8h2.85v11.3h-2.85zM850.96 531.8h2.85v11.3h-2.85zM856.55 531.8h2.85v11.3h-2.85z" fill="#1b5675"/>
<rect x="397.7" y="532.1" width="196" height="10.5" fill="#231f20"/>
<text x="25.3" y="541.2" font-size="25.5" fill="#fff">Sång, man</text>
<rect x="429" y="567" width="921.2" height="32.8" fill="#b4c9de"/>
<path d="M429 567 H26 Q19 567 19 574 V592.8 Q19 599.8 26 599.8 H429 Z" fill="#52a8c9"/>
<path d="M1350.2 567 H1452 Q1459 567 1459 574 V592.8 Q1459 599.8 1452 599.8 H1350.2 Z" fill="#52a8c9"/>
<rect x="41.64" y="567" width="1.2" height="32.8" fill="#4596b8"/>
<rect x="62.08" y="567" width="1.2" height="32.8" fill="#4596b8"/>
<rect x="82.52" y="567" width="1.2" height="32.8" fill="#4596b8"/>
<rect x="102.96" y="567" width="1.2" height="32.8" fill="#4596b8"/>
<rect x="123.4" y="567" width="1.2" height="32.8" fill="#4596b8"/>
<rect x="143.84" y="567" width="1.2" height="32.8" fill="#4596b8"/>
<rect x="164.28" y="567" width="1.2" height="32.8" fill="#4596b8"/>
<rect x="184.72" y="567" width="1.2" height="32.8" fill="#4596b8"/>
<rect x="205.16" y="567" width="1.2" height="32.8" fill="#4596b8"/>
<rect x="225.6" y="567" width="1.2" height="32.8" fill="#4596b8"/>
<rect x="246.04" y="567" width="1.2" height="32.8" fill="#4596b8"/>
<rect x="266.48" y="567" width="1.2" height="32.8" fill="#4596b8"/>
<rect x="286.92" y="567" width="1.2" height="32.8" fill="#4596b8"/>
<rect x="307.36" y="567" width="1.2" height="32.8" fill="#4596b8"/>
<rect x="327.8" y="567" width="1.2" height="32.8" fill="#4596b8"/>
<rect x="348.24" y="567" width="1.2" height="32.8" fill="#4596b8"/>
<rect x="368.68" y="567" width="1.2" height="32.8" fill="#4596b8"/>
<rect x="389.12" y="567" width="1.2" height="32.8" fill="#4596b8"/>
<rect x="409.56" y="567" width="1.2" height="32.8" fill="#4596b8"/>
<rect x="430" y="567" width="1.2" height="32.8" fill="#93aac2"/>
<rect x="450.44" y="567" width="1.2" height="32.8" fill="#93aac2"/>
<rect x="470.88" y="567" width="1.2" height="32.8" fill="#93aac2"/>
<rect x="491.32" y="567" width="1.2" height="32.8" fill="#93aac2"/>
<rect x="511.76" y="567" width="1.2" height="32.8" fill="#93aac2"/>
<rect x="532.2" y="567" width="1.2" height="32.8" fill="#93aac2"/>
<rect x="552.64" y="567" width="1.2" height="32.8" fill="#93aac2"/>
<rect x="573.08" y="567" width="1.2" height="32.8" fill="#93aac2"/>
<rect x="593.52" y="567" width="1.2" height="32.8" fill="#93aac2"/>
<rect x="613.96" y="567" width="1.2" height="32.8" fill="#93aac2"/>
<rect x="634.4" y="567" width="1.2" height="32.8" fill="#93aac2"/>
<rect x="654.84" y="567" width="1.2" height="32.8" fill="#93aac2"/>
<rect x="675.28" y="567" width="1.2" height="32.8" fill="#93aac2"/>
<rect x="695.72" y="567" width="1.2" height="32.8" fill="#93aac2"/>
<rect x="716.16" y="567" width="1.2" height="32.8" fill="#93aac2"/>
<rect x="736.6" y="567" width="1.2" height="32.8" fill="#93aac2"/>
<rect x="757.04" y="567" width="1.2" height="32.8" fill="#93aac2"/>
<rect x="777.48" y="567" width="1.2" height="32.8" fill="#93aac2"/>
<rect x="797.92" y="567" width="1.2" height="32.8" fill="#93aac2"/>
<rect x="818.36" y="567" width="1.2" height="32.8" fill="#93aac2"/>
<rect x="838.8" y="567" width="1.2" height="32.8" fill="#93aac2"/>
<rect x="859.24" y="567" width="1.2" height="32.8" fill="#93aac2"/>
<rect x="879.68" y="567" width="1.2" height="32.8" fill="#93aac2"/>
<rect x="900.12" y="567" width="1.2" height="32.8" fill="#93aac2"/>
<rect x="920.56" y="567" width="1.2" height="32.8" fill="#93aac2"/>
<rect x="941" y="567" width="1.2" height="32.8" fill="#93aac2"/>
<rect x="961.44" y="567" width="1.2" height="32.8" fill="#93aac2"/>
<rect x="981.88" y="567" width="1.2" height="32.8" fill="#93aac2"/>
<rect x="1002.32" y="567" width="1.2" height="32.8" fill="#93aac2"/>
<rect x="1022.76" y="567" width="1.2" height="32.8" fill="#93aac2"/>
<rect x="1043.2" y="567" width="1.2" height="32.8" fill="#93aac2"/>
<rect x="1063.64" y="567" width="1.2" height="32.8" fill="#93aac2"/>
<rect x="1084.08" y="567" width="1.2" height="32.8" fill="#93aac2"/>
<rect x="1104.52" y="567" width="1.2" height="32.8" fill="#93aac2"/>
<rect x="1124.96" y="567" width="1.2" height="32.8" fill="#93aac2"/>
<rect x="1145.4" y="567" width="1.2" height="32.8" fill="#93aac2"/>
<rect x="1165.84" y="567" width="1.2" height="32.8" fill="#93aac2"/>
<rect x="1186.28" y="567" width="1.2" height="32.8" fill="#93aac2"/>
<rect x="1206.72" y="567" width="1.2" height="32.8" fill="#93aac2"/>
<rect x="1227.16" y="567" width="1.2" height="32.8" fill="#93aac2"/>
<rect x="1247.6" y="567" width="1.2" height="32.8" fill="#93aac2"/>
<rect x="1268.04" y="567" width="1.2" height="32.8" fill="#93aac2"/>
<rect x="1288.48" y="567" width="1.2" height="32.8" fill="#93aac2"/>
<rect x="1308.92" y="567" width="1.2" height="32.8" fill="#93aac2"/>
<rect x="1329.36" y="567" width="1.2" height="32.8" fill="#93aac2"/>
<rect x="1349.8" y="567" width="1.2" height="32.8" fill="#4596b8"/>
<rect x="1370.24" y="567" width="1.2" height="32.8" fill="#4596b8"/>
<rect x="1390.68" y="567" width="1.2" height="32.8" fill="#4596b8"/>
<rect x="1411.12" y="567" width="1.2" height="32.8" fill="#4596b8"/>
<rect x="1431.56" y="567" width="1.2" height="32.8" fill="#4596b8"/>
<rect x="1452" y="567" width="1.2" height="32.8" fill="#4596b8"/>
<rect x="490.9" y="569" width="247" height="16.1" fill="#bdc5cf"/>
<rect x="839.1" y="569" width="165.1" height="16.1" fill="#bdc5cf"/>
<rect x="1102.7" y="569" width="147.3" height="16.1" fill="#bdc5cf"/>
<rect x="919.8" y="583.5" width="310.1" height="16.3" fill="#bdc5cf"/>
<rect x="757.6" y="582.6" width="118" height="16.2" fill="#bdc5cf"/>
<rect x="429.4" y="583.5" width="167.1" height="15.7" fill="#bdc5cf"/>
<rect x="430" y="567" width="1.2" height="32.8" fill="#93a6b8" opacity="0.5"/>
<rect x="450.44" y="567" width="1.2" height="32.8" fill="#93a6b8" opacity="0.5"/>
<rect x="470.88" y="567" width="1.2" height="32.8" fill="#93a6b8" opacity="0.5"/>
<rect x="491.32" y="567" width="1.2" height="32.8" fill="#93a6b8" opacity="0.5"/>
<rect x="511.76" y="567" width="1.2" height="32.8" fill="#93a6b8" opacity="0.5"/>
<rect x="532.2" y="567" width="1.2" height="32.8" fill="#93a6b8" opacity="0.5"/>
<rect x="552.64" y="567" width="1.2" height="32.8" fill="#93a6b8" opacity="0.5"/>
<rect x="573.08" y="567" width="1.2" height="32.8" fill="#93a6b8" opacity="0.5"/>
<rect x="593.52" y="567" width="1.2" height="32.8" fill="#93a6b8" opacity="0.5"/>
<rect x="613.96" y="567" width="1.2" height="32.8" fill="#93a6b8" opacity="0.5"/>
<rect x="634.4" y="567" width="1.2" height="32.8" fill="#93a6b8" opacity="0.5"/>
<rect x="654.84" y="567" width="1.2" height="32.8" fill="#93a6b8" opacity="0.5"/>
<rect x="675.28" y="567" width="1.2" height="32.8" fill="#93a6b8" opacity="0.5"/>
<rect x="695.72" y="567" width="1.2" height="32.8" fill="#93a6b8" opacity="0.5"/>
<rect x="716.16" y="567" width="1.2" height="32.8" fill="#93a6b8" opacity="0.5"/>
<rect x="736.6" y="567" width="1.2" height="32.8" fill="#93a6b8" opacity="0.5"/>
<rect x="757.04" y="567" width="1.2" height="32.8" fill="#93a6b8" opacity="0.5"/>
<rect x="777.48" y="567" width="1.2" height="32.8" fill="#93a6b8" opacity="0.5"/>
<rect x="797.92" y="567" width="1.2" height="32.8" fill="#93a6b8" opacity="0.5"/>
<rect x="818.36" y="567" width="1.2" height="32.8" fill="#93a6b8" opacity="0.5"/>
<rect x="838.8" y="567" width="1.2" height="32.8" fill="#93a6b8" opacity="0.5"/>
<rect x="859.24" y="567" width="1.2" height="32.8" fill="#93a6b8" opacity="0.5"/>
<rect x="879.68" y="567" width="1.2" height="32.8" fill="#93a6b8" opacity="0.5"/>
<rect x="900.12" y="567" width="1.2" height="32.8" fill="#93a6b8" opacity="0.5"/>
<rect x="920.56" y="567" width="1.2" height="32.8" fill="#93a6b8" opacity="0.5"/>
<rect x="941" y="567" width="1.2" height="32.8" fill="#93a6b8" opacity="0.5"/>
<rect x="961.44" y="567" width="1.2" height="32.8" fill="#93a6b8" opacity="0.5"/>
<rect x="981.88" y="567" width="1.2" height="32.8" fill="#93a6b8" opacity="0.5"/>
<rect x="1002.32" y="567" width="1.2" height="32.8" fill="#93a6b8" opacity="0.5"/>
<rect x="1022.76" y="567" width="1.2" height="32.8" fill="#93a6b8" opacity="0.5"/>
<rect x="1043.2" y="567" width="1.2" height="32.8" fill="#93a6b8" opacity="0.5"/>
<rect x="1063.64" y="567" width="1.2" height="32.8" fill="#93a6b8" opacity="0.5"/>
<rect x="1084.08" y="567" width="1.2" height="32.8" fill="#93a6b8" opacity="0.5"/>
<rect x="1104.52" y="567" width="1.2" height="32.8" fill="#93a6b8" opacity="0.5"/>
<rect x="1124.96" y="567" width="1.2" height="32.8" fill="#93a6b8" opacity="0.5"/>
<rect x="1145.4" y="567" width="1.2" height="32.8" fill="#93a6b8" opacity="0.5"/>
<rect x="1165.84" y="567" width="1.2" height="32.8" fill="#93a6b8" opacity="0.5"/>
<rect x="1186.28" y="567" width="1.2" height="32.8" fill="#93a6b8" opacity="0.5"/>
<rect x="1206.72" y="567" width="1.2" height="32.8" fill="#93a6b8" opacity="0.5"/>
<rect x="1227.16" y="567" width="1.2" height="32.8" fill="#93a6b8" opacity="0.5"/>
<rect x="1247.6" y="567" width="1.2" height="32.8" fill="#93a6b8" opacity="0.5"/>
<rect x="1268.04" y="567" width="1.2" height="32.8" fill="#93a6b8" opacity="0.5"/>
<rect x="1288.48" y="567" width="1.2" height="32.8" fill="#93a6b8" opacity="0.5"/>
<rect x="1308.92" y="567" width="1.2" height="32.8" fill="#93a6b8" opacity="0.5"/>
<rect x="1329.36" y="567" width="1.2" height="32.8" fill="#93a6b8" opacity="0.5"/>
<rect x="491.7" y="571.6" width="245.4" height="10.9" fill="#f0832f"/>
<rect x="839.9" y="571.6" width="163.5" height="10.9" fill="#f0832f"/>
<rect x="1103.5" y="571.6" width="145.7" height="10.9" fill="#f0832f"/>
<rect x="920.6" y="586.1" width="308.5" height="11.6" fill="#ffffff"/>
<rect x="758.4" y="585.2" width="116.4" height="11" fill="#9fd4ee"/>
<path d="M758.9 585.2h2.85v11h-2.85zM764.54 585.2h2.85v11h-2.85zM770.17 585.2h2.85v11h-2.85zM775.81 585.2h2.85v11h-2.85zM781.45 585.2h2.85v11h-2.85zM787.09 585.2h2.85v11h-2.85zM792.73 585.2h2.85v11h-2.85zM798.36 585.2h2.85v11h-2.85zM804 585.2h2.85v11h-2.85zM809.64 585.2h2.85v11h-2.85zM815.27 585.2h2.85v11h-2.85zM820.91 585.2h2.85v11h-2.85zM826.55 585.2h2.85v11h-2.85zM832.19 585.2h2.85v11h-2.85zM837.83 585.2h2.85v11h-2.85zM843.46 585.2h2.85v11h-2.85zM849.1 585.2h2.85v11h-2.85zM854.74 585.2h2.85v11h-2.85zM860.38 585.2h2.85v11h-2.85zM866.01 585.2h2.85v11h-2.85zM871.65 585.2h2.85v11h-2.85z" fill="#1b5675"/>
<rect x="430.2" y="586.1" width="165.5" height="10.5" fill="#231f20"/>
<text x="25.4" y="594" font-size="25.5" fill="#fff">Sång, kvinna</text>
<rect x="103.5" y="620.5" width="1288.9" height="33.8" fill="#b4c9de"/>
<path d="M103.5 620.5 H26 Q19 620.5 19 627.5 V647.3 Q19 654.3 26 654.3 H103.5 Z" fill="#52a8c9"/>
<path d="M1392.4 620.5 H1452 Q1459 620.5 1459 627.5 V647.3 Q1459 654.3 1452 654.3 H1392.4 Z" fill="#52a8c9"/>
<rect x="41.64" y="620.5" width="1.2" height="33.8" fill="#4596b8"/>
<rect x="62.08" y="620.5" width="1.2" height="33.8" fill="#4596b8"/>
<rect x="82.52" y="620.5" width="1.2" height="33.8" fill="#4596b8"/>
<rect x="102.96" y="620.5" width="1.2" height="33.8" fill="#93aac2"/>
<rect x="123.4" y="620.5" width="1.2" height="33.8" fill="#93aac2"/>
<rect x="143.84" y="620.5" width="1.2" height="33.8" fill="#93aac2"/>
<rect x="164.28" y="620.5" width="1.2" height="33.8" fill="#93aac2"/>
<rect x="184.72" y="620.5" width="1.2" height="33.8" fill="#93aac2"/>
<rect x="205.16" y="620.5" width="1.2" height="33.8" fill="#93aac2"/>
<rect x="225.6" y="620.5" width="1.2" height="33.8" fill="#93aac2"/>
<rect x="246.04" y="620.5" width="1.2" height="33.8" fill="#93aac2"/>
<rect x="266.48" y="620.5" width="1.2" height="33.8" fill="#93aac2"/>
<rect x="286.92" y="620.5" width="1.2" height="33.8" fill="#93aac2"/>
<rect x="307.36" y="620.5" width="1.2" height="33.8" fill="#93aac2"/>
<rect x="327.8" y="620.5" width="1.2" height="33.8" fill="#93aac2"/>
<rect x="348.24" y="620.5" width="1.2" height="33.8" fill="#93aac2"/>
<rect x="368.68" y="620.5" width="1.2" height="33.8" fill="#93aac2"/>
<rect x="389.12" y="620.5" width="1.2" height="33.8" fill="#93aac2"/>
<rect x="409.56" y="620.5" width="1.2" height="33.8" fill="#93aac2"/>
<rect x="430" y="620.5" width="1.2" height="33.8" fill="#93aac2"/>
<rect x="450.44" y="620.5" width="1.2" height="33.8" fill="#93aac2"/>
<rect x="470.88" y="620.5" width="1.2" height="33.8" fill="#93aac2"/>
<rect x="491.32" y="620.5" width="1.2" height="33.8" fill="#93aac2"/>
<rect x="511.76" y="620.5" width="1.2" height="33.8" fill="#93aac2"/>
<rect x="532.2" y="620.5" width="1.2" height="33.8" fill="#93aac2"/>
<rect x="552.64" y="620.5" width="1.2" height="33.8" fill="#93aac2"/>
<rect x="573.08" y="620.5" width="1.2" height="33.8" fill="#93aac2"/>
<rect x="593.52" y="620.5" width="1.2" height="33.8" fill="#93aac2"/>
<rect x="613.96" y="620.5" width="1.2" height="33.8" fill="#93aac2"/>
<rect x="634.4" y="620.5" width="1.2" height="33.8" fill="#93aac2"/>
<rect x="654.84" y="620.5" width="1.2" height="33.8" fill="#93aac2"/>
<rect x="675.28" y="620.5" width="1.2" height="33.8" fill="#93aac2"/>
<rect x="695.72" y="620.5" width="1.2" height="33.8" fill="#93aac2"/>
<rect x="716.16" y="620.5" width="1.2" height="33.8" fill="#93aac2"/>
<rect x="736.6" y="620.5" width="1.2" height="33.8" fill="#93aac2"/>
<rect x="757.04" y="620.5" width="1.2" height="33.8" fill="#93aac2"/>
<rect x="777.48" y="620.5" width="1.2" height="33.8" fill="#93aac2"/>
<rect x="797.92" y="620.5" width="1.2" height="33.8" fill="#93aac2"/>
<rect x="818.36" y="620.5" width="1.2" height="33.8" fill="#93aac2"/>
<rect x="838.8" y="620.5" width="1.2" height="33.8" fill="#93aac2"/>
<rect x="859.24" y="620.5" width="1.2" height="33.8" fill="#93aac2"/>
<rect x="879.68" y="620.5" width="1.2" height="33.8" fill="#93aac2"/>
<rect x="900.12" y="620.5" width="1.2" height="33.8" fill="#93aac2"/>
<rect x="920.56" y="620.5" width="1.2" height="33.8" fill="#93aac2"/>
<rect x="941" y="620.5" width="1.2" height="33.8" fill="#93aac2"/>
<rect x="961.44" y="620.5" width="1.2" height="33.8" fill="#93aac2"/>
<rect x="981.88" y="620.5" width="1.2" height="33.8" fill="#93aac2"/>
<rect x="1002.32" y="620.5" width="1.2" height="33.8" fill="#93aac2"/>
<rect x="1022.76" y="620.5" width="1.2" height="33.8" fill="#93aac2"/>
<rect x="1043.2" y="620.5" width="1.2" height="33.8" fill="#93aac2"/>
<rect x="1063.64" y="620.5" width="1.2" height="33.8" fill="#93aac2"/>
<rect x="1084.08" y="620.5" width="1.2" height="33.8" fill="#93aac2"/>
<rect x="1104.52" y="620.5" width="1.2" height="33.8" fill="#93aac2"/>
<rect x="1124.96" y="620.5" width="1.2" height="33.8" fill="#93aac2"/>
<rect x="1145.4" y="620.5" width="1.2" height="33.8" fill="#93aac2"/>
<rect x="1165.84" y="620.5" width="1.2" height="33.8" fill="#93aac2"/>
<rect x="1186.28" y="620.5" width="1.2" height="33.8" fill="#93aac2"/>
<rect x="1206.72" y="620.5" width="1.2" height="33.8" fill="#93aac2"/>
<rect x="1227.16" y="620.5" width="1.2" height="33.8" fill="#93aac2"/>
<rect x="1247.6" y="620.5" width="1.2" height="33.8" fill="#93aac2"/>
<rect x="1268.04" y="620.5" width="1.2" height="33.8" fill="#93aac2"/>
<rect x="1288.48" y="620.5" width="1.2" height="33.8" fill="#93aac2"/>
<rect x="1308.92" y="620.5" width="1.2" height="33.8" fill="#93aac2"/>
<rect x="1329.36" y="620.5" width="1.2" height="33.8" fill="#93aac2"/>
<rect x="1349.8" y="620.5" width="1.2" height="33.8" fill="#93aac2"/>
<rect x="1370.24" y="620.5" width="1.2" height="33.8" fill="#93aac2"/>
<rect x="1390.68" y="620.5" width="1.2" height="33.8" fill="#93aac2"/>
<rect x="1411.12" y="620.5" width="1.2" height="33.8" fill="#4596b8"/>
<rect x="1431.56" y="620.5" width="1.2" height="33.8" fill="#4596b8"/>
<rect x="1452" y="620.5" width="1.2" height="33.8" fill="#4596b8"/>
<rect x="307" y="621.5" width="206.8" height="15.8" fill="#bdc5cf"/>
<rect x="714.3" y="621.5" width="289.4" height="15.8" fill="#bdc5cf"/>
<rect x="1124.9" y="621.5" width="126.2" height="15.8" fill="#bdc5cf"/>
<rect x="873.5" y="636.9" width="315.9" height="16.7" fill="#bdc5cf"/>
<rect x="492.6" y="637.3" width="305.5" height="16.5" fill="#bdc5cf"/>
<rect x="246.1" y="636.5" width="207.5" height="15.7" fill="#bdc5cf"/>
<rect x="102.96" y="620.5" width="1.2" height="33.8" fill="#93a6b8" opacity="0.5"/>
<rect x="123.4" y="620.5" width="1.2" height="33.8" fill="#93a6b8" opacity="0.5"/>
<rect x="143.84" y="620.5" width="1.2" height="33.8" fill="#93a6b8" opacity="0.5"/>
<rect x="164.28" y="620.5" width="1.2" height="33.8" fill="#93a6b8" opacity="0.5"/>
<rect x="184.72" y="620.5" width="1.2" height="33.8" fill="#93a6b8" opacity="0.5"/>
<rect x="205.16" y="620.5" width="1.2" height="33.8" fill="#93a6b8" opacity="0.5"/>
<rect x="225.6" y="620.5" width="1.2" height="33.8" fill="#93a6b8" opacity="0.5"/>
<rect x="246.04" y="620.5" width="1.2" height="33.8" fill="#93a6b8" opacity="0.5"/>
<rect x="266.48" y="620.5" width="1.2" height="33.8" fill="#93a6b8" opacity="0.5"/>
<rect x="286.92" y="620.5" width="1.2" height="33.8" fill="#93a6b8" opacity="0.5"/>
<rect x="307.36" y="620.5" width="1.2" height="33.8" fill="#93a6b8" opacity="0.5"/>
<rect x="327.8" y="620.5" width="1.2" height="33.8" fill="#93a6b8" opacity="0.5"/>
<rect x="348.24" y="620.5" width="1.2" height="33.8" fill="#93a6b8" opacity="0.5"/>
<rect x="368.68" y="620.5" width="1.2" height="33.8" fill="#93a6b8" opacity="0.5"/>
<rect x="389.12" y="620.5" width="1.2" height="33.8" fill="#93a6b8" opacity="0.5"/>
<rect x="409.56" y="620.5" width="1.2" height="33.8" fill="#93a6b8" opacity="0.5"/>
<rect x="430" y="620.5" width="1.2" height="33.8" fill="#93a6b8" opacity="0.5"/>
<rect x="450.44" y="620.5" width="1.2" height="33.8" fill="#93a6b8" opacity="0.5"/>
<rect x="470.88" y="620.5" width="1.2" height="33.8" fill="#93a6b8" opacity="0.5"/>
<rect x="491.32" y="620.5" width="1.2" height="33.8" fill="#93a6b8" opacity="0.5"/>
<rect x="511.76" y="620.5" width="1.2" height="33.8" fill="#93a6b8" opacity="0.5"/>
<rect x="532.2" y="620.5" width="1.2" height="33.8" fill="#93a6b8" opacity="0.5"/>
<rect x="552.64" y="620.5" width="1.2" height="33.8" fill="#93a6b8" opacity="0.5"/>
<rect x="573.08" y="620.5" width="1.2" height="33.8" fill="#93a6b8" opacity="0.5"/>
<rect x="593.52" y="620.5" width="1.2" height="33.8" fill="#93a6b8" opacity="0.5"/>
<rect x="613.96" y="620.5" width="1.2" height="33.8" fill="#93a6b8" opacity="0.5"/>
<rect x="634.4" y="620.5" width="1.2" height="33.8" fill="#93a6b8" opacity="0.5"/>
<rect x="654.84" y="620.5" width="1.2" height="33.8" fill="#93a6b8" opacity="0.5"/>
<rect x="675.28" y="620.5" width="1.2" height="33.8" fill="#93a6b8" opacity="0.5"/>
<rect x="695.72" y="620.5" width="1.2" height="33.8" fill="#93a6b8" opacity="0.5"/>
<rect x="716.16" y="620.5" width="1.2" height="33.8" fill="#93a6b8" opacity="0.5"/>
<rect x="736.6" y="620.5" width="1.2" height="33.8" fill="#93a6b8" opacity="0.5"/>
<rect x="757.04" y="620.5" width="1.2" height="33.8" fill="#93a6b8" opacity="0.5"/>
<rect x="777.48" y="620.5" width="1.2" height="33.8" fill="#93a6b8" opacity="0.5"/>
<rect x="797.92" y="620.5" width="1.2" height="33.8" fill="#93a6b8" opacity="0.5"/>
<rect x="818.36" y="620.5" width="1.2" height="33.8" fill="#93a6b8" opacity="0.5"/>
<rect x="838.8" y="620.5" width="1.2" height="33.8" fill="#93a6b8" opacity="0.5"/>
<rect x="859.24" y="620.5" width="1.2" height="33.8" fill="#93a6b8" opacity="0.5"/>
<rect x="879.68" y="620.5" width="1.2" height="33.8" fill="#93a6b8" opacity="0.5"/>
<rect x="900.12" y="620.5" width="1.2" height="33.8" fill="#93a6b8" opacity="0.5"/>
<rect x="920.56" y="620.5" width="1.2" height="33.8" fill="#93a6b8" opacity="0.5"/>
<rect x="941" y="620.5" width="1.2" height="33.8" fill="#93a6b8" opacity="0.5"/>
<rect x="961.44" y="620.5" width="1.2" height="33.8" fill="#93a6b8" opacity="0.5"/>
<rect x="981.88" y="620.5" width="1.2" height="33.8" fill="#93a6b8" opacity="0.5"/>
<rect x="1002.32" y="620.5" width="1.2" height="33.8" fill="#93a6b8" opacity="0.5"/>
<rect x="1022.76" y="620.5" width="1.2" height="33.8" fill="#93a6b8" opacity="0.5"/>
<rect x="1043.2" y="620.5" width="1.2" height="33.8" fill="#93a6b8" opacity="0.5"/>
<rect x="1063.64" y="620.5" width="1.2" height="33.8" fill="#93a6b8" opacity="0.5"/>
<rect x="1084.08" y="620.5" width="1.2" height="33.8" fill="#93a6b8" opacity="0.5"/>
<rect x="1104.52" y="620.5" width="1.2" height="33.8" fill="#93a6b8" opacity="0.5"/>
<rect x="1124.96" y="620.5" width="1.2" height="33.8" fill="#93a6b8" opacity="0.5"/>
<rect x="1145.4" y="620.5" width="1.2" height="33.8" fill="#93a6b8" opacity="0.5"/>
<rect x="1165.84" y="620.5" width="1.2" height="33.8" fill="#93a6b8" opacity="0.5"/>
<rect x="1186.28" y="620.5" width="1.2" height="33.8" fill="#93a6b8" opacity="0.5"/>
<rect x="1206.72" y="620.5" width="1.2" height="33.8" fill="#93a6b8" opacity="0.5"/>
<rect x="1227.16" y="620.5" width="1.2" height="33.8" fill="#93a6b8" opacity="0.5"/>
<rect x="1247.6" y="620.5" width="1.2" height="33.8" fill="#93a6b8" opacity="0.5"/>
<rect x="1268.04" y="620.5" width="1.2" height="33.8" fill="#93a6b8" opacity="0.5"/>
<rect x="1288.48" y="620.5" width="1.2" height="33.8" fill="#93a6b8" opacity="0.5"/>
<rect x="1308.92" y="620.5" width="1.2" height="33.8" fill="#93a6b8" opacity="0.5"/>
<rect x="1329.36" y="620.5" width="1.2" height="33.8" fill="#93a6b8" opacity="0.5"/>
<rect x="1349.8" y="620.5" width="1.2" height="33.8" fill="#93a6b8" opacity="0.5"/>
<rect x="1370.24" y="620.5" width="1.2" height="33.8" fill="#93a6b8" opacity="0.5"/>
<rect x="1390.68" y="620.5" width="1.2" height="33.8" fill="#93a6b8" opacity="0.5"/>
<rect x="307.8" y="624.1" width="205.2" height="10.6" fill="#f0832f"/>
<rect x="715.1" y="624.1" width="287.8" height="10.6" fill="#f0832f"/>
<rect x="1125.7" y="624.1" width="124.6" height="10.6" fill="#f0832f"/>
<rect x="874.3" y="639.5" width="314.3" height="11.5" fill="#ffffff"/>
<rect x="493.4" y="639.9" width="303.9" height="11.3" fill="#9fd4ee"/>
<path d="M493.9 639.9h2.85v11.3h-2.85zM499.57 639.9h2.85v11.3h-2.85zM505.23 639.9h2.85v11.3h-2.85zM510.9 639.9h2.85v11.3h-2.85zM516.56 639.9h2.85v11.3h-2.85zM522.23 639.9h2.85v11.3h-2.85zM527.89 639.9h2.85v11.3h-2.85zM533.56 639.9h2.85v11.3h-2.85zM539.22 639.9h2.85v11.3h-2.85zM544.89 639.9h2.85v11.3h-2.85zM550.55 639.9h2.85v11.3h-2.85zM556.22 639.9h2.85v11.3h-2.85zM561.88 639.9h2.85v11.3h-2.85zM567.55 639.9h2.85v11.3h-2.85zM573.21 639.9h2.85v11.3h-2.85zM578.88 639.9h2.85v11.3h-2.85zM584.54 639.9h2.85v11.3h-2.85zM590.21 639.9h2.85v11.3h-2.85zM595.87 639.9h2.85v11.3h-2.85zM601.54 639.9h2.85v11.3h-2.85zM607.2 639.9h2.85v11.3h-2.85zM612.87 639.9h2.85v11.3h-2.85zM618.53 639.9h2.85v11.3h-2.85zM624.2 639.9h2.85v11.3h-2.85zM629.86 639.9h2.85v11.3h-2.85zM635.53 639.9h2.85v11.3h-2.85zM641.19 639.9h2.85v11.3h-2.85zM646.86 639.9h2.85v11.3h-2.85zM652.52 639.9h2.85v11.3h-2.85zM658.19 639.9h2.85v11.3h-2.85zM663.85 639.9h2.85v11.3h-2.85zM669.52 639.9h2.85v11.3h-2.85zM675.18 639.9h2.85v11.3h-2.85zM680.85 639.9h2.85v11.3h-2.85zM686.51 639.9h2.85v11.3h-2.85zM692.18 639.9h2.85v11.3h-2.85zM697.84 639.9h2.85v11.3h-2.85zM703.51 639.9h2.85v11.3h-2.85zM709.17 639.9h2.85v11.3h-2.85zM714.84 639.9h2.85v11.3h-2.85zM720.5 639.9h2.85v11.3h-2.85zM726.17 639.9h2.85v11.3h-2.85zM731.83 639.9h2.85v11.3h-2.85zM737.5 639.9h2.85v11.3h-2.85zM743.16 639.9h2.85v11.3h-2.85zM748.83 639.9h2.85v11.3h-2.85zM754.49 639.9h2.85v11.3h-2.85zM760.16 639.9h2.85v11.3h-2.85zM765.82 639.9h2.85v11.3h-2.85zM771.49 639.9h2.85v11.3h-2.85zM777.15 639.9h2.85v11.3h-2.85zM782.82 639.9h2.85v11.3h-2.85zM788.48 639.9h2.85v11.3h-2.85zM794.15 639.9h2.85v11.3h-2.85z" fill="#1b5675"/>
<rect x="246.9" y="639.1" width="205.9" height="10.5" fill="#231f20"/>
<text x="24.7" y="648.2" font-size="25.5" fill="#fff">Piano</text>
<rect x="20.8" y="672.5" width="1433" height="78" fill="#f08535"/>
<rect x="41.69" y="672.5" width="1.1" height="78" fill="#d4712d"/>
<rect x="62.13" y="672.5" width="1.1" height="78" fill="#d4712d"/>
<rect x="82.57" y="672.5" width="1.1" height="78" fill="#d4712d"/>
<rect x="103.01" y="672.5" width="1.1" height="78" fill="#d4712d"/>
<rect x="123.45" y="672.5" width="1.1" height="78" fill="#d4712d"/>
<rect x="143.89" y="672.5" width="1.1" height="78" fill="#d4712d"/>
<rect x="164.33" y="672.5" width="1.1" height="78" fill="#d4712d"/>
<rect x="184.77" y="672.5" width="1.1" height="78" fill="#d4712d"/>
<rect x="205.21" y="672.5" width="1.1" height="78" fill="#d4712d"/>
<rect x="225.65" y="672.5" width="1.1" height="78" fill="#d4712d"/>
<rect x="246.09" y="672.5" width="1.1" height="78" fill="#d4712d"/>
<rect x="266.53" y="672.5" width="1.1" height="78" fill="#d4712d"/>
<rect x="286.97" y="672.5" width="1.1" height="78" fill="#d4712d"/>
<rect x="307.41" y="672.5" width="1.1" height="78" fill="#d4712d"/>
<rect x="327.85" y="672.5" width="1.1" height="78" fill="#d4712d"/>
<rect x="348.29" y="672.5" width="1.1" height="78" fill="#d4712d"/>
<rect x="368.73" y="672.5" width="1.1" height="78" fill="#d4712d"/>
<rect x="389.17" y="672.5" width="1.1" height="78" fill="#d4712d"/>
<rect x="409.61" y="672.5" width="1.1" height="78" fill="#d4712d"/>
<rect x="430.05" y="672.5" width="1.1" height="78" fill="#d4712d"/>
<rect x="450.49" y="672.5" width="1.1" height="78" fill="#d4712d"/>
<rect x="470.93" y="672.5" width="1.1" height="78" fill="#d4712d"/>
<rect x="491.37" y="672.5" width="1.1" height="78" fill="#d4712d"/>
<rect x="511.81" y="672.5" width="1.1" height="78" fill="#d4712d"/>
<rect x="532.25" y="672.5" width="1.1" height="78" fill="#d4712d"/>
<rect x="552.69" y="672.5" width="1.1" height="78" fill="#d4712d"/>
<rect x="573.13" y="672.5" width="1.1" height="78" fill="#d4712d"/>
<rect x="593.57" y="672.5" width="1.1" height="78" fill="#d4712d"/>
<rect x="614.01" y="672.5" width="1.1" height="78" fill="#d4712d"/>
<rect x="634.45" y="672.5" width="1.1" height="78" fill="#d4712d"/>
<rect x="654.89" y="672.5" width="1.1" height="78" fill="#d4712d"/>
<rect x="675.33" y="672.5" width="1.1" height="78" fill="#d4712d"/>
<rect x="695.77" y="672.5" width="1.1" height="78" fill="#d4712d"/>
<rect x="716.21" y="672.5" width="1.1" height="78" fill="#d4712d"/>
<rect x="736.65" y="672.5" width="1.1" height="78" fill="#d4712d"/>
<rect x="757.09" y="672.5" width="1.1" height="78" fill="#d4712d"/>
<rect x="777.53" y="672.5" width="1.1" height="78" fill="#d4712d"/>
<rect x="797.97" y="672.5" width="1.1" height="78" fill="#d4712d"/>
<rect x="818.41" y="672.5" width="1.1" height="78" fill="#d4712d"/>
<rect x="838.85" y="672.5" width="1.1" height="78" fill="#d4712d"/>
<rect x="859.29" y="672.5" width="1.1" height="78" fill="#d4712d"/>
<rect x="879.73" y="672.5" width="1.1" height="78" fill="#d4712d"/>
<rect x="900.17" y="672.5" width="1.1" height="78" fill="#d4712d"/>
<rect x="920.61" y="672.5" width="1.1" height="78" fill="#d4712d"/>
<rect x="941.05" y="672.5" width="1.1" height="78" fill="#d4712d"/>
<rect x="961.49" y="672.5" width="1.1" height="78" fill="#d4712d"/>
<rect x="981.93" y="672.5" width="1.1" height="78" fill="#d4712d"/>
<rect x="1002.37" y="672.5" width="1.1" height="78" fill="#d4712d"/>
<rect x="1022.81" y="672.5" width="1.1" height="78" fill="#d4712d"/>
<rect x="1043.25" y="672.5" width="1.1" height="78" fill="#d4712d"/>
<rect x="1063.69" y="672.5" width="1.1" height="78" fill="#d4712d"/>
<rect x="1084.13" y="672.5" width="1.1" height="78" fill="#d4712d"/>
<rect x="1104.57" y="672.5" width="1.1" height="78" fill="#d4712d"/>
<rect x="1125.01" y="672.5" width="1.1" height="78" fill="#d4712d"/>
<rect x="1145.45" y="672.5" width="1.1" height="78" fill="#d4712d"/>
<rect x="1165.89" y="672.5" width="1.1" height="78" fill="#d4712d"/>
<rect x="1186.33" y="672.5" width="1.1" height="78" fill="#d4712d"/>
<rect x="1206.77" y="672.5" width="1.1" height="78" fill="#d4712d"/>
<rect x="1227.21" y="672.5" width="1.1" height="78" fill="#d4712d"/>
<rect x="1247.65" y="672.5" width="1.1" height="78" fill="#d4712d"/>
<rect x="1268.09" y="672.5" width="1.1" height="78" fill="#d4712d"/>
<rect x="1288.53" y="672.5" width="1.1" height="78" fill="#d4712d"/>
<rect x="1308.97" y="672.5" width="1.1" height="78" fill="#d4712d"/>
<rect x="1329.41" y="672.5" width="1.1" height="78" fill="#d4712d"/>
<rect x="1349.85" y="672.5" width="1.1" height="78" fill="#d4712d"/>
<rect x="1370.29" y="672.5" width="1.1" height="78" fill="#d4712d"/>
<rect x="1390.73" y="672.5" width="1.1" height="78" fill="#d4712d"/>
<rect x="1411.17" y="672.5" width="1.1" height="78" fill="#d4712d"/>
<rect x="1431.61" y="672.5" width="1.1" height="78" fill="#d4712d"/>
<text transform="translate(38.05,746.6) rotate(-90)" font-size="20" fill="#2e1e16">20 Hz</text>
<text transform="translate(119.35,746.6) rotate(-90)" font-size="20" fill="#2e1e16">30 Hz</text>
<text transform="translate(181.55,746.6) rotate(-90)" font-size="20" fill="#2e1e16">40 Hz</text>
<text transform="translate(223.15,746.6) rotate(-90)" font-size="20" fill="#2e1e16">50 Hz</text>
<text transform="translate(264.55,746.6) rotate(-90)" font-size="20" fill="#2e1e16">60 Hz</text>
<text transform="translate(304.65,746.6) rotate(-90)" font-size="20" fill="#2e1e16">70 Hz</text>
<text transform="translate(324.75,746.6) rotate(-90)" font-size="20" fill="#2e1e16">80 Hz</text>
<text transform="translate(366.05,746.6) rotate(-90)" font-size="20" fill="#2e1e16">100 Hz</text>
<text transform="translate(447.85,746.6) rotate(-90)" font-size="20" fill="#2e1e16">150 Hz</text>
<text transform="translate(508.85,746.6) rotate(-90)" font-size="20" fill="#2e1e16">200 Hz</text>
<text transform="translate(570.65,746.6) rotate(-90)" font-size="20" fill="#2e1e16">262 Hz</text>
<text transform="translate(590.75,746.6) rotate(-90)" font-size="20" fill="#2e1e16">300 Hz</text>
<text transform="translate(652.75,746.6) rotate(-90)" font-size="20" fill="#2e1e16">400 Hz</text>
<text transform="translate(673.45,746.6) rotate(-90)" font-size="20" fill="#2e1e16">440 Hz</text>
<text transform="translate(734.45,746.6) rotate(-90)" font-size="20" fill="#2e1e16">600 Hz</text>
<text transform="translate(794.55,746.6) rotate(-90)" font-size="20" fill="#2e1e16">800 Hz</text>
<text transform="translate(856.35,746.6) rotate(-90)" font-size="20" fill="#2e1e16">1k Hz</text>
<text transform="translate(936.95,746.6) rotate(-90)" font-size="20" fill="#2e1e16">1.5 kHz</text>
<text transform="translate(999.25,746.6) rotate(-90)" font-size="20" fill="#2e1e16">2 kHz</text>
<text transform="translate(1041.05,746.6) rotate(-90)" font-size="20" fill="#2e1e16">2.5 kHz</text>
<text transform="translate(1081.75,746.6) rotate(-90)" font-size="20" fill="#2e1e16">3 kHz</text>
<text transform="translate(1142.65,746.6) rotate(-90)" font-size="20" fill="#2e1e16">4 kHz</text>
<text transform="translate(1183.35,746.6) rotate(-90)" font-size="20" fill="#2e1e16">5 kHz</text>
<text transform="translate(1224.85,746.6) rotate(-90)" font-size="20" fill="#2e1e16">6 kHz</text>
<text transform="translate(1245.45,746.6) rotate(-90)" font-size="20" fill="#2e1e16">7 kHz</text>
<text transform="translate(1265.35,746.6) rotate(-90)" font-size="20" fill="#2e1e16">8 kHz</text>
<text transform="translate(1326.55,746.6) rotate(-90)" font-size="20" fill="#2e1e16">10 kHz</text>
<text transform="translate(1367.15,746.6) rotate(-90)" font-size="20" fill="#2e1e16">12 kHz</text>
<text transform="translate(1387.55,746.6) rotate(-90)" font-size="20" fill="#2e1e16">14 kHz</text>
<text transform="translate(1407.95,746.6) rotate(-90)" font-size="20" fill="#2e1e16">16 kHz</text>
<rect x="20.8" y="750.5" width="1433.2" height="67.8" fill="#ffffff"/>
<rect x="21.8" y="750.5" width="20.44" height="67.8" fill="#2290c1"/>
<rect x="42.24" y="750.5" width="20.44" height="67.8" fill="#2290c1"/>
<rect x="62.68" y="750.5" width="20.44" height="67.8" fill="#2290c1"/>
<rect x="1146" y="750.5" width="20.44" height="67.8" fill="#2290c1"/>
<rect x="1166.44" y="750.5" width="20.44" height="67.8" fill="#2290c1"/>
<rect x="1186.88" y="750.5" width="20.44" height="67.8" fill="#2290c1"/>
<rect x="1207.32" y="750.5" width="20.44" height="67.8" fill="#2290c1"/>
<rect x="1227.76" y="750.5" width="20.44" height="67.8" fill="#2290c1"/>
<rect x="1248.2" y="750.5" width="20.44" height="67.8" fill="#2290c1"/>
<rect x="1268.64" y="750.5" width="20.44" height="67.8" fill="#2290c1"/>
<rect x="1289.08" y="750.5" width="20.44" height="67.8" fill="#2290c1"/>
<rect x="1309.52" y="750.5" width="20.44" height="67.8" fill="#2290c1"/>
<rect x="1329.96" y="750.5" width="20.44" height="67.8" fill="#2290c1"/>
<rect x="1350.4" y="750.5" width="20.44" height="67.8" fill="#2290c1"/>
<rect x="1370.84" y="750.5" width="20.44" height="67.8" fill="#2290c1"/>
<rect x="1391.28" y="750.5" width="20.44" height="67.8" fill="#2290c1"/>
<rect x="1411.72" y="750.5" width="20.44" height="67.8" fill="#2290c1"/>
<rect x="1432.16" y="750.5" width="20.44" height="67.8" fill="#2290c1"/>
<rect x="20.8" y="750.5" width="1.4" height="67.8" fill="#151a1f"/>
<rect x="41.54" y="750.5" width="1.4" height="67.8" fill="#151a1f"/>
<rect x="61.98" y="750.5" width="1.4" height="67.8" fill="#151a1f"/>
<rect x="82.42" y="750.5" width="1.4" height="67.8" fill="#151a1f"/>
<rect x="102.86" y="750.5" width="1.4" height="67.8" fill="#151a1f"/>
<rect x="123.3" y="750.5" width="1.4" height="67.8" fill="#151a1f"/>
<rect x="143.74" y="750.5" width="1.4" height="67.8" fill="#151a1f"/>
<rect x="164.18" y="750.5" width="1.4" height="67.8" fill="#151a1f"/>
<rect x="184.62" y="750.5" width="1.4" height="67.8" fill="#151a1f"/>
<rect x="205.06" y="750.5" width="1.4" height="67.8" fill="#151a1f"/>
<rect x="225.5" y="750.5" width="1.4" height="67.8" fill="#151a1f"/>
<rect x="245.94" y="750.5" width="1.4" height="67.8" fill="#151a1f"/>
<rect x="266.38" y="750.5" width="1.4" height="67.8" fill="#151a1f"/>
<rect x="286.82" y="750.5" width="1.4" height="67.8" fill="#151a1f"/>
<rect x="307.26" y="750.5" width="1.4" height="67.8" fill="#151a1f"/>
<rect x="327.7" y="750.5" width="1.4" height="67.8" fill="#151a1f"/>
<rect x="348.14" y="750.5" width="1.4" height="67.8" fill="#151a1f"/>
<rect x="368.58" y="750.5" width="1.4" height="67.8" fill="#151a1f"/>
<rect x="389.02" y="750.5" width="1.4" height="67.8" fill="#151a1f"/>
<rect x="409.46" y="750.5" width="1.4" height="67.8" fill="#151a1f"/>
<rect x="429.9" y="750.5" width="1.4" height="67.8" fill="#151a1f"/>
<rect x="450.34" y="750.5" width="1.4" height="67.8" fill="#151a1f"/>
<rect x="470.78" y="750.5" width="1.4" height="67.8" fill="#151a1f"/>
<rect x="491.22" y="750.5" width="1.4" height="67.8" fill="#151a1f"/>
<rect x="511.66" y="750.5" width="1.4" height="67.8" fill="#151a1f"/>
<rect x="532.1" y="750.5" width="1.4" height="67.8" fill="#151a1f"/>
<rect x="552.54" y="750.5" width="1.4" height="67.8" fill="#151a1f"/>
<rect x="572.98" y="750.5" width="1.4" height="67.8" fill="#151a1f"/>
<rect x="593.42" y="750.5" width="1.4" height="67.8" fill="#151a1f"/>
<rect x="613.86" y="750.5" width="1.4" height="67.8" fill="#151a1f"/>
<rect x="634.3" y="750.5" width="1.4" height="67.8" fill="#151a1f"/>
<rect x="654.74" y="750.5" width="1.4" height="67.8" fill="#151a1f"/>
<rect x="675.18" y="750.5" width="1.4" height="67.8" fill="#151a1f"/>
<rect x="695.62" y="750.5" width="1.4" height="67.8" fill="#151a1f"/>
<rect x="716.06" y="750.5" width="1.4" height="67.8" fill="#151a1f"/>
<rect x="736.5" y="750.5" width="1.4" height="67.8" fill="#151a1f"/>
<rect x="756.94" y="750.5" width="1.4" height="67.8" fill="#151a1f"/>
<rect x="777.38" y="750.5" width="1.4" height="67.8" fill="#151a1f"/>
<rect x="797.82" y="750.5" width="1.4" height="67.8" fill="#151a1f"/>
<rect x="818.26" y="750.5" width="1.4" height="67.8" fill="#151a1f"/>
<rect x="838.7" y="750.5" width="1.4" height="67.8" fill="#151a1f"/>
<rect x="859.14" y="750.5" width="1.4" height="67.8" fill="#151a1f"/>
<rect x="879.58" y="750.5" width="1.4" height="67.8" fill="#151a1f"/>
<rect x="900.02" y="750.5" width="1.4" height="67.8" fill="#151a1f"/>
<rect x="920.46" y="750.5" width="1.4" height="67.8" fill="#151a1f"/>
<rect x="940.9" y="750.5" width="1.4" height="67.8" fill="#151a1f"/>
<rect x="961.34" y="750.5" width="1.4" height="67.8" fill="#151a1f"/>
<rect x="981.78" y="750.5" width="1.4" height="67.8" fill="#151a1f"/>
<rect x="1002.22" y="750.5" width="1.4" height="67.8" fill="#151a1f"/>
<rect x="1022.66" y="750.5" width="1.4" height="67.8" fill="#151a1f"/>
<rect x="1043.1" y="750.5" width="1.4" height="67.8" fill="#151a1f"/>
<rect x="1063.54" y="750.5" width="1.4" height="67.8" fill="#151a1f"/>
<rect x="1083.98" y="750.5" width="1.4" height="67.8" fill="#151a1f"/>
<rect x="1104.42" y="750.5" width="1.4" height="67.8" fill="#151a1f"/>
<rect x="1124.86" y="750.5" width="1.4" height="67.8" fill="#151a1f"/>
<rect x="1145.3" y="750.5" width="1.4" height="67.8" fill="#151a1f"/>
<rect x="1165.74" y="750.5" width="1.4" height="67.8" fill="#151a1f"/>
<rect x="1186.18" y="750.5" width="1.4" height="67.8" fill="#151a1f"/>
<rect x="1206.62" y="750.5" width="1.4" height="67.8" fill="#151a1f"/>
<rect x="1227.06" y="750.5" width="1.4" height="67.8" fill="#151a1f"/>
<rect x="1247.5" y="750.5" width="1.4" height="67.8" fill="#151a1f"/>
<rect x="1267.94" y="750.5" width="1.4" height="67.8" fill="#151a1f"/>
<rect x="1288.38" y="750.5" width="1.4" height="67.8" fill="#151a1f"/>
<rect x="1308.82" y="750.5" width="1.4" height="67.8" fill="#151a1f"/>
<rect x="1329.26" y="750.5" width="1.4" height="67.8" fill="#151a1f"/>
<rect x="1349.7" y="750.5" width="1.4" height="67.8" fill="#151a1f"/>
<rect x="1370.14" y="750.5" width="1.4" height="67.8" fill="#151a1f"/>
<rect x="1390.58" y="750.5" width="1.4" height="67.8" fill="#151a1f"/>
<rect x="1411.02" y="750.5" width="1.4" height="67.8" fill="#151a1f"/>
<rect x="1431.46" y="750.5" width="1.4" height="67.8" fill="#151a1f"/>
<rect x="1452.6" y="750.5" width="1.4" height="67.8" fill="#151a1f"/>
<text x="0" y="812.8" font-size="16.5" font-weight="bold" text-anchor="middle" fill="#0f3b5a" transform="translate(32.02,0) scale(0.7,1)">E</text>
<text x="0" y="812.8" font-size="16.5" font-weight="bold" text-anchor="middle" fill="#0f3b5a" transform="translate(52.46,0) scale(0.7,1)">F</text>
<text x="0" y="812.8" font-size="16.5" font-weight="bold" text-anchor="middle" fill="#0f3b5a" transform="translate(72.9,0) scale(0.7,1)">G</text>
<text x="0" y="812.8" font-size="16.5" font-weight="bold" text-anchor="middle" fill="#2b2b2b" transform="translate(93.34,0) scale(0.7,1)">A</text>
<text x="0" y="812.8" font-size="16.5" font-weight="bold" text-anchor="middle" fill="#2b2b2b" transform="translate(113.78,0) scale(0.7,1)">H</text>
<text x="0" y="812.8" font-size="16.5" font-weight="bold" text-anchor="middle" fill="#2b2b2b" transform="translate(134.22,0) scale(0.7,1)">C</text>
<text x="0" y="812.8" font-size="16.5" font-weight="bold" text-anchor="middle" fill="#2b2b2b" transform="translate(154.66,0) scale(0.7,1)">D</text>
<text x="0" y="812.8" font-size="16.5" font-weight="bold" text-anchor="middle" fill="#2b2b2b" transform="translate(175.1,0) scale(0.7,1)">E</text>
<text x="0" y="812.8" font-size="16.5" font-weight="bold" text-anchor="middle" fill="#2b2b2b" transform="translate(195.54,0) scale(0.7,1)">F</text>
<text x="0" y="812.8" font-size="16.5" font-weight="bold" text-anchor="middle" fill="#2b2b2b" transform="translate(215.98,0) scale(0.7,1)">G</text>
<text x="0" y="812.8" font-size="16.5" font-weight="bold" text-anchor="middle" fill="#2b2b2b" transform="translate(236.42,0) scale(0.7,1)">A</text>
<text x="0" y="812.8" font-size="16.5" font-weight="bold" text-anchor="middle" fill="#2b2b2b" transform="translate(256.86,0) scale(0.7,1)">H</text>
<text x="0" y="812.8" font-size="16.5" font-weight="bold" text-anchor="middle" fill="#2b2b2b" transform="translate(277.3,0) scale(0.7,1)">C</text>
<text x="0" y="812.8" font-size="16.5" font-weight="bold" text-anchor="middle" fill="#2b2b2b" transform="translate(297.74,0) scale(0.7,1)">D</text>
<text x="0" y="812.8" font-size="16.5" font-weight="bold" text-anchor="middle" fill="#2b2b2b" transform="translate(318.18,0) scale(0.7,1)">E</text>
<text x="0" y="812.8" font-size="16.5" font-weight="bold" text-anchor="middle" fill="#2b2b2b" transform="translate(338.62,0) scale(0.7,1)">F</text>
<text x="0" y="812.8" font-size="16.5" font-weight="bold" text-anchor="middle" fill="#2b2b2b" transform="translate(359.06,0) scale(0.7,1)">G</text>
<text x="0" y="812.8" font-size="16.5" font-weight="bold" text-anchor="middle" fill="#2b2b2b" transform="translate(379.5,0) scale(0.7,1)">A</text>
<text x="0" y="812.8" font-size="16.5" font-weight="bold" text-anchor="middle" fill="#2b2b2b" transform="translate(399.94,0) scale(0.7,1)">H</text>
<text x="0" y="812.8" font-size="16.5" font-weight="bold" text-anchor="middle" fill="#2b2b2b" transform="translate(420.38,0) scale(0.7,1)">C</text>
<text x="0" y="812.8" font-size="16.5" font-weight="bold" text-anchor="middle" fill="#2b2b2b" transform="translate(440.82,0) scale(0.7,1)">D</text>
<text x="0" y="812.8" font-size="16.5" font-weight="bold" text-anchor="middle" fill="#2b2b2b" transform="translate(461.26,0) scale(0.7,1)">E</text>
<text x="0" y="812.8" font-size="16.5" font-weight="bold" text-anchor="middle" fill="#2b2b2b" transform="translate(481.7,0) scale(0.7,1)">F</text>
<text x="0" y="812.8" font-size="16.5" font-weight="bold" text-anchor="middle" fill="#2b2b2b" transform="translate(502.14,0) scale(0.7,1)">G</text>
<text x="0" y="812.8" font-size="16.5" font-weight="bold" text-anchor="middle" fill="#2b2b2b" transform="translate(522.58,0) scale(0.7,1)">A</text>
<text x="0" y="812.8" font-size="16.5" font-weight="bold" text-anchor="middle" fill="#2b2b2b" transform="translate(543.02,0) scale(0.7,1)">H</text>
<text x="0" y="812.8" font-size="16.5" font-weight="bold" text-anchor="middle" fill="#2b2b2b" transform="translate(563.46,0) scale(0.7,1)">C</text>
<text x="0" y="812.8" font-size="16.5" font-weight="bold" text-anchor="middle" fill="#2b2b2b" transform="translate(583.9,0) scale(0.7,1)">D</text>
<text x="0" y="812.8" font-size="16.5" font-weight="bold" text-anchor="middle" fill="#2b2b2b" transform="translate(604.34,0) scale(0.7,1)">E</text>
<text x="0" y="812.8" font-size="16.5" font-weight="bold" text-anchor="middle" fill="#2b2b2b" transform="translate(624.78,0) scale(0.7,1)">F</text>
<text x="0" y="812.8" font-size="16.5" font-weight="bold" text-anchor="middle" fill="#2b2b2b" transform="translate(645.22,0) scale(0.7,1)">G</text>
<text x="0" y="812.8" font-size="16.5" font-weight="bold" text-anchor="middle" fill="#2b2b2b" transform="translate(665.66,0) scale(0.7,1)">A</text>
<text x="0" y="812.8" font-size="16.5" font-weight="bold" text-anchor="middle" fill="#2b2b2b" transform="translate(686.1,0) scale(0.7,1)">H</text>
<text x="0" y="812.8" font-size="16.5" font-weight="bold" text-anchor="middle" fill="#2b2b2b" transform="translate(706.54,0) scale(0.7,1)">C</text>
<text x="0" y="812.8" font-size="16.5" font-weight="bold" text-anchor="middle" fill="#2b2b2b" transform="translate(726.98,0) scale(0.7,1)">D</text>
<text x="0" y="812.8" font-size="16.5" font-weight="bold" text-anchor="middle" fill="#2b2b2b" transform="translate(747.42,0) scale(0.7,1)">E</text>
<text x="0" y="812.8" font-size="16.5" font-weight="bold" text-anchor="middle" fill="#2b2b2b" transform="translate(767.86,0) scale(0.7,1)">F</text>
<text x="0" y="812.8" font-size="16.5" font-weight="bold" text-anchor="middle" fill="#2b2b2b" transform="translate(788.3,0) scale(0.7,1)">G</text>
<text x="0" y="812.8" font-size="16.5" font-weight="bold" text-anchor="middle" fill="#2b2b2b" transform="translate(808.74,0) scale(0.7,1)">A</text>
<text x="0" y="812.8" font-size="16.5" font-weight="bold" text-anchor="middle" fill="#2b2b2b" transform="translate(829.18,0) scale(0.7,1)">H</text>
<text x="0" y="812.8" font-size="16.5" font-weight="bold" text-anchor="middle" fill="#2b2b2b" transform="translate(849.62,0) scale(0.7,1)">C</text>
<text x="0" y="812.8" font-size="16.5" font-weight="bold" text-anchor="middle" fill="#2b2b2b" transform="translate(870.06,0) scale(0.7,1)">D</text>
<text x="0" y="812.8" font-size="16.5" font-weight="bold" text-anchor="middle" fill="#2b2b2b" transform="translate(890.5,0) scale(0.7,1)">E</text>
<text x="0" y="812.8" font-size="16.5" font-weight="bold" text-anchor="middle" fill="#2b2b2b" transform="translate(910.94,0) scale(0.7,1)">F</text>
<text x="0" y="812.8" font-size="16.5" font-weight="bold" text-anchor="middle" fill="#2b2b2b" transform="translate(931.38,0) scale(0.7,1)">G</text>
<text x="0" y="812.8" font-size="16.5" font-weight="bold" text-anchor="middle" fill="#2b2b2b" transform="translate(951.82,0) scale(0.7,1)">A</text>
<text x="0" y="812.8" font-size="16.5" font-weight="bold" text-anchor="middle" fill="#2b2b2b" transform="translate(972.26,0) scale(0.7,1)">H</text>
<text x="0" y="812.8" font-size="16.5" font-weight="bold" text-anchor="middle" fill="#2b2b2b" transform="translate(992.7,0) scale(0.7,1)">C</text>
<text x="0" y="812.8" font-size="16.5" font-weight="bold" text-anchor="middle" fill="#2b2b2b" transform="translate(1013.14,0) scale(0.7,1)">D</text>
<text x="0" y="812.8" font-size="16.5" font-weight="bold" text-anchor="middle" fill="#2b2b2b" transform="translate(1033.58,0) scale(0.7,1)">E</text>
<text x="0" y="812.8" font-size="16.5" font-weight="bold" text-anchor="middle" fill="#2b2b2b" transform="translate(1054.02,0) scale(0.7,1)">F</text>
<text x="0" y="812.8" font-size="16.5" font-weight="bold" text-anchor="middle" fill="#2b2b2b" transform="translate(1074.46,0) scale(0.7,1)">G</text>
<text x="0" y="812.8" font-size="16.5" font-weight="bold" text-anchor="middle" fill="#2b2b2b" transform="translate(1094.9,0) scale(0.7,1)">A</text>
<text x="0" y="812.8" font-size="16.5" font-weight="bold" text-anchor="middle" fill="#2b2b2b" transform="translate(1115.34,0) scale(0.7,1)">H</text>
<text x="0" y="812.8" font-size="16.5" font-weight="bold" text-anchor="middle" fill="#2b2b2b" transform="translate(1135.78,0) scale(0.7,1)">C</text>
<text x="0" y="812.8" font-size="16.5" font-weight="bold" text-anchor="middle" fill="#0f3b5a" transform="translate(1156.22,0) scale(0.7,1)">D</text>
<text x="0" y="812.8" font-size="16.5" font-weight="bold" text-anchor="middle" fill="#0f3b5a" transform="translate(1176.66,0) scale(0.7,1)">E</text>
<text x="0" y="812.8" font-size="16.5" font-weight="bold" text-anchor="middle" fill="#0f3b5a" transform="translate(1197.1,0) scale(0.7,1)">F</text>
<text x="0" y="812.8" font-size="16.5" font-weight="bold" text-anchor="middle" fill="#0f3b5a" transform="translate(1217.54,0) scale(0.7,1)">G</text>
<text x="0" y="812.8" font-size="16.5" font-weight="bold" text-anchor="middle" fill="#0f3b5a" transform="translate(1237.98,0) scale(0.7,1)">A</text>
<text x="0" y="812.8" font-size="16.5" font-weight="bold" text-anchor="middle" fill="#0f3b5a" transform="translate(1258.42,0) scale(0.7,1)">H</text>
<text x="0" y="812.8" font-size="16.5" font-weight="bold" text-anchor="middle" fill="#0f3b5a" transform="translate(1278.86,0) scale(0.7,1)">C</text>
<text x="0" y="812.8" font-size="16.5" font-weight="bold" text-anchor="middle" fill="#0f3b5a" transform="translate(1299.3,0) scale(0.7,1)">D</text>
<text x="0" y="812.8" font-size="16.5" font-weight="bold" text-anchor="middle" fill="#0f3b5a" transform="translate(1319.74,0) scale(0.7,1)">E</text>
<text x="0" y="812.8" font-size="16.5" font-weight="bold" text-anchor="middle" fill="#0f3b5a" transform="translate(1340.18,0) scale(0.7,1)">F</text>
<text x="0" y="812.8" font-size="16.5" font-weight="bold" text-anchor="middle" fill="#0f3b5a" transform="translate(1360.62,0) scale(0.7,1)">G</text>
<text x="0" y="812.8" font-size="16.5" font-weight="bold" text-anchor="middle" fill="#0f3b5a" transform="translate(1381.06,0) scale(0.7,1)">A</text>
<text x="0" y="812.8" font-size="16.5" font-weight="bold" text-anchor="middle" fill="#0f3b5a" transform="translate(1401.5,0) scale(0.7,1)">H</text>
<text x="0" y="812.8" font-size="16.5" font-weight="bold" text-anchor="middle" fill="#0f3b5a" transform="translate(1421.94,0) scale(0.7,1)">C</text>
<text x="0" y="812.8" font-size="16.5" font-weight="bold" text-anchor="middle" fill="#0f3b5a" transform="translate(1442.38,0) scale(0.7,1)">D</text>
<rect x="21.5" y="750.5" width="6.6" height="39.8" fill="#1f1d1e"/>
<rect x="56.38" y="750.5" width="12.6" height="39.8" fill="#1f1d1e"/>
<rect x="76.82" y="750.5" width="12.6" height="39.8" fill="#1f1d1e"/>
<rect x="97.26" y="750.5" width="12.6" height="39.8" fill="#1f1d1e"/>
<rect x="138.14" y="750.5" width="12.6" height="39.8" fill="#1f1d1e"/>
<rect x="158.58" y="750.5" width="12.6" height="39.8" fill="#1f1d1e"/>
<rect x="199.46" y="750.5" width="12.6" height="39.8" fill="#1f1d1e"/>
<rect x="219.9" y="750.5" width="12.6" height="39.8" fill="#1f1d1e"/>
<rect x="240.34" y="750.5" width="12.6" height="39.8" fill="#1f1d1e"/>
<rect x="281.22" y="750.5" width="12.6" height="39.8" fill="#1f1d1e"/>
<rect x="301.66" y="750.5" width="12.6" height="39.8" fill="#1f1d1e"/>
<rect x="342.54" y="750.5" width="12.6" height="39.8" fill="#1f1d1e"/>
<rect x="362.98" y="750.5" width="12.6" height="39.8" fill="#1f1d1e"/>
<rect x="383.42" y="750.5" width="12.6" height="39.8" fill="#1f1d1e"/>
<rect x="424.3" y="750.5" width="12.6" height="39.8" fill="#1f1d1e"/>
<rect x="444.74" y="750.5" width="12.6" height="39.8" fill="#1f1d1e"/>
<rect x="485.62" y="750.5" width="12.6" height="39.8" fill="#1f1d1e"/>
<rect x="506.06" y="750.5" width="12.6" height="39.8" fill="#1f1d1e"/>
<rect x="526.5" y="750.5" width="12.6" height="39.8" fill="#1f1d1e"/>
<rect x="567.38" y="750.5" width="12.6" height="39.8" fill="#1f1d1e"/>
<rect x="587.82" y="750.5" width="12.6" height="39.8" fill="#1f1d1e"/>
<rect x="628.7" y="750.5" width="12.6" height="39.8" fill="#1f1d1e"/>
<rect x="649.14" y="750.5" width="12.6" height="39.8" fill="#1f1d1e"/>
<rect x="669.58" y="750.5" width="12.6" height="39.8" fill="#1f1d1e"/>
<rect x="710.46" y="750.5" width="12.6" height="39.8" fill="#1f1d1e"/>
<rect x="730.9" y="750.5" width="12.6" height="39.8" fill="#1f1d1e"/>
<rect x="771.78" y="750.5" width="12.6" height="39.8" fill="#1f1d1e"/>
<rect x="792.22" y="750.5" width="12.6" height="39.8" fill="#1f1d1e"/>
<rect x="812.66" y="750.5" width="12.6" height="39.8" fill="#1f1d1e"/>
<rect x="853.54" y="750.5" width="12.6" height="39.8" fill="#1f1d1e"/>
<rect x="873.98" y="750.5" width="12.6" height="39.8" fill="#1f1d1e"/>
<rect x="914.86" y="750.5" width="12.6" height="39.8" fill="#1f1d1e"/>
<rect x="935.3" y="750.5" width="12.6" height="39.8" fill="#1f1d1e"/>
<rect x="955.74" y="750.5" width="12.6" height="39.8" fill="#1f1d1e"/>
<rect x="996.62" y="750.5" width="12.6" height="39.8" fill="#1f1d1e"/>
<rect x="1017.06" y="750.5" width="12.6" height="39.8" fill="#1f1d1e"/>
<rect x="1057.94" y="750.5" width="12.6" height="39.8" fill="#1f1d1e"/>
<rect x="1078.38" y="750.5" width="12.6" height="39.8" fill="#1f1d1e"/>
<rect x="1098.82" y="750.5" width="12.6" height="39.8" fill="#1f1d1e"/>
<rect x="1139.7" y="750.5" width="12.6" height="39.8" fill="#1f1d1e"/>
<rect x="1160.14" y="750.5" width="12.6" height="39.8" fill="#1f1d1e"/>
<rect x="1201.02" y="750.5" width="12.6" height="39.8" fill="#1f1d1e"/>
<rect x="1221.46" y="750.5" width="12.6" height="39.8" fill="#1f1d1e"/>
<rect x="1241.9" y="750.5" width="12.6" height="39.8" fill="#1f1d1e"/>
<rect x="1282.78" y="750.5" width="12.6" height="39.8" fill="#1f1d1e"/>
<rect x="1303.22" y="750.5" width="12.6" height="39.8" fill="#1f1d1e"/>
<rect x="1344.1" y="750.5" width="12.6" height="39.8" fill="#1f1d1e"/>
<rect x="1364.54" y="750.5" width="12.6" height="39.8" fill="#1f1d1e"/>
<rect x="1384.98" y="750.5" width="12.6" height="39.8" fill="#1f1d1e"/>
<rect x="1425.86" y="750.5" width="12.6" height="39.8" fill="#1f1d1e"/>
<rect x="1446.3" y="750.5" width="7" height="39.8" fill="#1f1d1e"/>
<rect x="20.8" y="818.3" width="1433.2" height="3.4" fill="#151a1f"/>
<path d="M127.62 826.7 L134.62 816.8 L141.62 826.7 Z" fill="#ee8232"/>
<rect x="115.12" y="826.7" width="39" height="25" fill="#ee8232"/>
<text x="120.32" y="847" font-size="23.5" font-weight="bold" fill="#fff" textLength="28" lengthAdjust="spacingAndGlyphs">C1</text>
<path d="M270.7 826.7 L277.7 816.8 L284.7 826.7 Z" fill="#ee8232"/>
<rect x="258.2" y="826.7" width="39" height="25" fill="#ee8232"/>
<text x="263.4" y="847" font-size="23.5" font-weight="bold" fill="#fff" textLength="28" lengthAdjust="spacingAndGlyphs">C2</text>
<path d="M413.78 826.7 L420.78 816.8 L427.78 826.7 Z" fill="#ee8232"/>
<rect x="401.28" y="826.7" width="39" height="25" fill="#ee8232"/>
<text x="406.48" y="847" font-size="23.5" font-weight="bold" fill="#fff" textLength="28" lengthAdjust="spacingAndGlyphs">C3</text>
<path d="M556.86 826.7 L563.86 816.8 L570.86 826.7 Z" fill="#ee8232"/>
<rect x="544.36" y="826.7" width="39" height="25" fill="#ee8232"/>
<text x="549.56" y="847" font-size="23.5" font-weight="bold" fill="#fff" textLength="28" lengthAdjust="spacingAndGlyphs">C4</text>
<path d="M699.94 826.7 L706.94 816.8 L713.94 826.7 Z" fill="#ee8232"/>
<rect x="687.44" y="826.7" width="39" height="25" fill="#ee8232"/>
<text x="692.64" y="847" font-size="23.5" font-weight="bold" fill="#fff" textLength="28" lengthAdjust="spacingAndGlyphs">C5</text>
<path d="M843.02 826.7 L850.02 816.8 L857.02 826.7 Z" fill="#ee8232"/>
<rect x="830.52" y="826.7" width="39" height="25" fill="#ee8232"/>
<text x="835.72" y="847" font-size="23.5" font-weight="bold" fill="#fff" textLength="28" lengthAdjust="spacingAndGlyphs">C6</text>
<path d="M986.1 826.7 L993.1 816.8 L1000.1 826.7 Z" fill="#ee8232"/>
<rect x="973.6" y="826.7" width="39" height="25" fill="#ee8232"/>
<text x="978.8" y="847" font-size="23.5" font-weight="bold" fill="#fff" textLength="28" lengthAdjust="spacingAndGlyphs">C7</text>
<path d="M1129.18 826.7 L1136.18 816.8 L1143.18 826.7 Z" fill="#ee8232"/>
<rect x="1116.68" y="826.7" width="39" height="25" fill="#ee8232"/>
<text x="1121.88" y="847" font-size="23.5" font-weight="bold" fill="#fff" textLength="28" lengthAdjust="spacingAndGlyphs">C8</text>
<path d="M1272.26 826.7 L1279.26 816.8 L1286.26 826.7 Z" fill="#ee8232"/>
<rect x="1259.76" y="826.7" width="39" height="25" fill="#ee8232"/>
<text x="1264.96" y="847" font-size="23.5" font-weight="bold" fill="#fff" textLength="28" lengthAdjust="spacingAndGlyphs">C9</text>
<path d="M1415.34 826.7 L1422.34 816.8 L1429.34 826.7 Z" fill="#ee8232"/>
<rect x="1399.69" y="826.7" width="45.3" height="25" fill="#ee8232"/>
<text x="1403.19" y="847" font-size="23.5" font-weight="bold" fill="#fff" textLength="37.7" lengthAdjust="spacingAndGlyphs">C10</text>
<path d="M549 858.5 L564.6 849 L577.6 858.5 Z" fill="#3c87a1"/>
<path d="M564.6 848.8 L560.4 851.7 L568.8 851.7 Z" fill="#5e4128"/>
<rect x="390.1" y="858.3" width="227.6" height="33.1" rx="7" fill="#3c87a1"/>
<text x="398.7" y="882.5" font-size="22.5" font-weight="bold" fill="#fff" textLength="212" lengthAdjust="spacingAndGlyphs">Nyckelhåls-C 262Hz</text>
<path d="M651.5 859 L666.1 818.5 L679.1 859 Z" fill="#3c87a1"/>
<rect x="662" y="818.3" width="8" height="3.4" fill="#151a1f"/>
<rect x="626.3" y="858.6" width="194.8" height="32.8" rx="7" fill="#3c87a1"/>
<text x="635.2" y="882.5" font-size="22.5" font-weight="bold" fill="#fff" textLength="174" lengthAdjust="spacingAndGlyphs">Normal-A 440HZ</text>
</svg></body></html>
